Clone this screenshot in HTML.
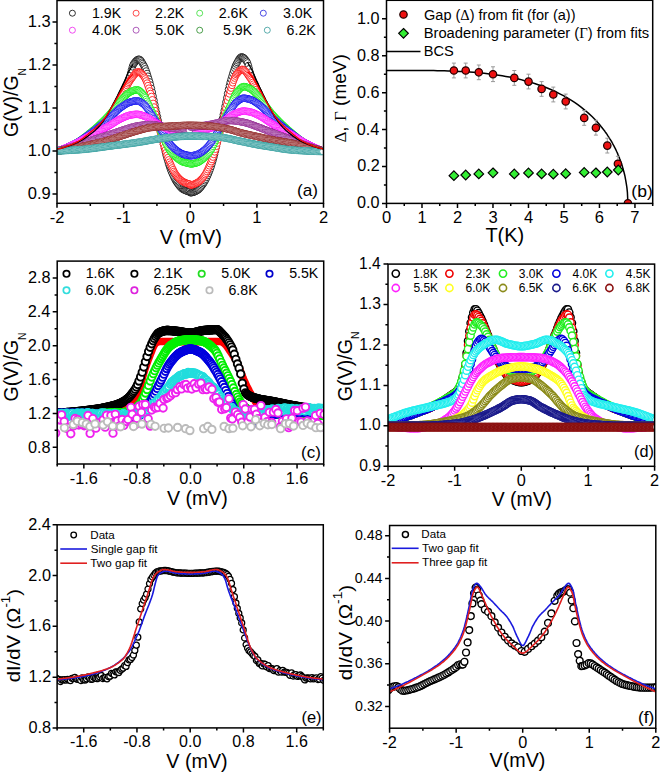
<!DOCTYPE html><html><head><meta charset="utf-8"><style>html,body{margin:0;padding:0;background:#fff;width:660px;height:772px;overflow:hidden}svg{display:block}text{font-family:"Liberation Sans",sans-serif;fill:#000}</style></head><body>
<svg width="660" height="772" viewBox="0 0 660 772">
<rect width="660" height="772" fill="#fff"/>
<defs>
<clipPath id="cPA"><rect x="57" y="0.5" width="266.5" height="202.8"/></clipPath>
<clipPath id="cPB"><rect x="386.5" y="0.3" width="266.2" height="203.1"/></clipPath>
<clipPath id="cPC"><rect x="57.2" y="261.1" width="266.5" height="202.9"/></clipPath>
<clipPath id="cPD"><rect x="388" y="264.1" width="266.6" height="202.2"/></clipPath>
<clipPath id="cPE"><rect x="57.1" y="524.8" width="266.2" height="203.1"/></clipPath>
<clipPath id="cPF"><rect x="389.6" y="525.5" width="266.2" height="202.7"/></clipPath>
</defs>
<g clip-path="url(#cPA)">
<path d="M57 149 58.3 148.8 59.7 148.6 61 148.3 62.4 148 63.7 147.6 65 147.2 66.4 146.8 67.7 146.4 69.1 145.9 70.4 145.4 71.7 144.9 73.1 144.4 74.4 143.8 75.7 143.2 77.1 142.7 78.4 142.1 79.8 141.4 81.1 140.6 82.4 139.8 83.8 139 85.1 138.1 86.5 137.2 87.8 136.2 89.1 135.2 90.5 134.2 91.8 133.2 93.2 132.1 94.5 130.9 95.8 129.7 97.2 128.4 98.5 127 99.9 125.5 101.2 124 102.5 122.3 103.9 120.4 105.2 118.3 106.6 116.1 107.9 113.8 109.2 111.4 110.6 109 111.9 106.5 113.2 104 114.6 101.5 115.9 99 117.3 96.3 118.6 93.6 119.9 90.9 121.3 88.1 122.6 85.3 124 82.5 125.3 79.5 126.6 76.4 128 73.4 129.3 70.6 130.7 68.3 132 66.1 133.3 63.8 134.7 61.7 136 59.9 137.4 58.6 138.7 58 140 58.6 141.4 60.6 142.7 63.3 144 66 145.4 69.1 146.7 72.7 148.1 76.7 149.4 81 150.7 85.7 152.1 91.3 153.4 97.6 154.8 104.1 156.1 110.5 157.4 116.6 158.8 122.7 160.1 128.8 161.5 134.9 162.8 140.9 164.1 147 165.5 152.7 166.8 157.7 168.2 162.4 169.5 166.6 170.8 170.2 172.2 173.4 173.5 176.4 174.8 179.1 176.2 181.4 177.5 183.4 178.9 185.2 180.2 186.8 181.5 188.2 182.9 189.3 184.2 190 185.6 190.6 186.9 191.1 188.2 191.5 189.6 191.7 190.9 192.8 192.3 192.6 193.6 192.1 194.9 191.6 196.3 191 197.6 190.2 199 189.2 200.3 187.7 201.6 186.1 203 184.2 204.3 182.2 205.7 179.8 207 177.1 208.3 174 209.7 170.7 211 167 212.3 162.7 213.7 157.9 215 152.8 216.4 146.9 217.7 140.7 219 134.5 220.4 128.3 221.7 122 223.1 115.7 224.4 109.4 225.7 102.9 227.1 96.2 228.4 89.8 229.8 84.1 231.1 79.2 232.4 74.8 233.8 70.7 235.1 67 236.5 63.9 237.8 61.1 239.1 58.3 240.5 56.3 241.8 55.7 243.1 56.2 244.5 57.5 245.8 59.4 247.2 61.5 248.5 63.9 249.8 66.2 251.2 68.6 252.5 71.4 253.9 74.5 255.2 77.7 256.5 80.7 257.9 83.6 259.2 86.5 260.6 89.3 261.9 92.1 263.2 94.9 264.6 97.6 265.9 100.3 267.3 102.8 268.6 105.3 269.9 107.9 271.3 110.4 272.6 112.8 273.9 115.2 275.3 117.5 276.6 119.6 278 121.5 279.3 123.3 280.6 124.9 282 126.4 283.3 127.8 284.7 129.1 286 130.4 287.3 131.6 288.7 132.7 290 133.8 291.4 134.8 292.7 135.8 294 136.8 295.4 137.8 296.7 138.7 298.1 139.5 299.4 140.4 300.7 141.1 302.1 141.8 303.4 142.5 304.8 143 306.1 143.6 307.4 144.2 308.8 144.7 310.1 145.3 311.4 145.8 312.8 146.3 314.1 146.7 315.5 147.1 316.8 147.5 318.1 147.9 319.5 148.2 320.8 148.5 322.2 148.8 323.5 149" fill="none" stroke="#000000" stroke-width="1.3" stroke-linejoin="round"/>
<marker id="m0" markerWidth="10.2" markerHeight="10.2" refX="5.1" refY="5.1" markerUnits="userSpaceOnUse" overflow="visible"><circle cx="5.1" cy="5.1" r="3.3" fill="#fff" stroke="#000000" stroke-width="0.8"/></marker>
<polyline points="57,151.1 57.9,151 58.7,150.9 59.6,150.8 60.5,150.6 61.3,150.5 62.2,150.3 63.1,150.1 63.9,149.9 64.8,149.7 65.7,149.5 66.5,149.3 67.4,149.1 68.3,148.8 69.1,148.6 70,148.3 70.9,148.1 71.7,147.8 72.6,147.5 73.5,147.3 74.3,147 75.2,146.7 76.1,146.4 76.9,146.1 77.8,145.8 78.7,145.5 79.5,145.1 80.4,144.7 81.3,144.3 82.1,143.9 83,143.5 83.8,143 84.7,142.6 85.6,142.1 86.4,141.6 87.3,141.1 88.2,140.6 89,140.1 89.9,139.6 90.8,139.1 91.6,138.6 92.5,138 93.4,137.5 94.2,136.9 95.1,136.3 96,135.7 96.8,135.1 97.7,134.4 98.6,133.7 99.4,133 100.3,132.2 101.2,131.4 102,130.6 102.9,129.7 103.8,128.7 104.6,127.7 105.5,126.7 106.4,125.6 107.2,124.4 108.1,123.2 109,121.8 109.8,120.4 110.7,118.8 111.6,117.2 112.4,115.6 113.3,114 114.2,112.4 115,110.8 115.9,109.3 116.8,107.7 117.6,106 118.5,104.3 119.4,102.5 120.2,100.5 121.1,98.5 122,96.4 122.8,94.3 123.7,92.2 124.6,90.3 125.4,88.4 126.3,86.4 127.2,84.4 128,82.2 128.9,79.7 129.8,76.5 130.6,73.1 131.5,69.8 132.4,66.8 133.2,64.6 134.1,63.3 135,62.1 135.8,61.1 136.7,60.3 137.5,59.7 138.4,59.3 139.3,59.3 140.1,59.9 141,60.8 141.9,62.2 142.7,63.6 143.6,65.2 144.5,66.8 145.3,68.8 146.2,71 147.1,73.5 147.9,76.2 148.8,79 149.7,81.9 150.5,85 151.4,88.4 152.3,92.2 153.1,96.2 154,100.4 154.9,104.7 155.7,108.8 156.6,112.8 157.5,116.7 158.3,120.7 159.2,124.7 160.1,128.6 160.9,132.5 161.8,136.4 162.7,140.3 163.5,144.3 164.4,148.2 165.3,151.9 166.1,155.2 167,158.4 167.9,161.4 168.7,164.3 169.6,166.9 170.5,169.2 171.3,171.4 172.2,173.5 173.1,175.5 173.9,177.3 174.8,179 175.7,180.6 176.5,182 177.4,183.2 178.3,184.4 179.1,185.5 180,186.6 180.9,187.5 181.7,188.4 182.6,189.1 183.5,189.6 184.3,190 185.2,190.4 186.1,190.8 186.9,191.1 187.8,191.4 188.7,191.6 189.5,191.7 190.4,192.8 191.2,192.7 192.1,192.6 193,192.4 193.8,192.1 194.7,191.7 195.6,191.3 196.4,190.9 197.3,190.4 198.2,189.8 199,189.1 199.9,188.2 200.8,187.2 201.6,186 202.5,184.9 203.4,183.6 204.2,182.3 205.1,180.8 206,179.2 206.8,177.4 207.7,175.5 208.6,173.4 209.4,171.2 210.3,169 211.2,166.5 212,163.8 212.9,160.8 213.8,157.6 214.6,154.3 215.5,150.8 216.4,146.9 217.2,142.9 218.1,138.8 219,134.8 219.8,130.8 220.7,126.8 221.6,122.7 222.4,118.7 223.3,114.6 224.2,110.6 225,106.4 225.9,102.1 226.8,97.8 227.6,93.5 228.5,89.4 229.4,85.7 230.2,82.3 231.1,79.2 232,76.2 232.8,73.4 233.7,70.7 234.6,68.2 235.4,66 236.3,64.1 237.2,62.5 238,60.9 238.9,59.4 239.8,58.2 240.6,57.3 241.5,56.9 242.4,57.1 243.2,57.5 244.1,58.2 244.9,59.1 245.8,60.2 246.7,61.4 247.5,62.9 248.4,65.5 249.3,68.7 250.1,72.2 251,75.7 251.9,78.7 252.7,81.2 253.6,83.3 254.5,85.4 255.3,87.4 256.2,89.3 257.1,91.4 257.9,93.5 258.8,95.6 259.7,97.8 260.5,99.8 261.4,101.8 262.3,103.6 263.1,105.4 264,107 264.9,108.7 265.7,110.3 266.6,111.9 267.5,113.5 268.3,115.2 269.2,116.8 270.1,118.5 270.9,120 271.8,121.5 272.7,122.9 273.5,124.1 274.4,125.3 275.3,126.4 276.1,127.4 277,128.5 277.9,129.4 278.7,130.3 279.6,131.2 280.5,132 281.3,132.8 282.2,133.5 283.1,134.2 283.9,134.8 284.8,135.5 285.7,136.1 286.5,136.7 287.4,137.3 288.3,137.9 289.1,138.4 290,138.9 290.9,139.5 291.7,140 292.6,140.5 293.5,141 294.3,141.5 295.2,142 296.1,142.5 296.9,143 297.8,143.4 298.6,143.9 299.5,144.3 300.4,144.7 301.2,145.1 302.1,145.4 303,145.7 303.8,146.1 304.7,146.4 305.6,146.7 306.4,147 307.3,147.2 308.2,147.5 309,147.8 309.9,148.1 310.8,148.4 311.6,148.6 312.5,148.9 313.4,149.1 314.2,149.3 315.1,149.6 316,149.8 316.8,150 317.7,150.2 318.6,150.3 319.4,150.5 320.3,150.7 321.2,150.8 322,150.9 322.9,151" fill="none" stroke="none" marker-start="url(#m0)" marker-mid="url(#m0)" marker-end="url(#m0)"/>
<path d="M57 149 58.3 148.8 59.7 148.5 61 148.2 62.4 147.9 63.7 147.5 65 147 66.4 146.6 67.7 146.1 69.1 145.5 70.4 145 71.7 144.4 73.1 143.8 74.4 143.2 75.7 142.5 77.1 141.9 78.4 141.2 79.8 140.4 81.1 139.5 82.4 138.6 83.8 137.6 85.1 136.5 86.5 135.5 87.8 134.4 89.1 133.3 90.5 132.2 91.8 131.1 93.2 130 94.5 128.9 95.8 127.7 97.2 126.5 98.5 125.3 99.9 124 101.2 122.6 102.5 121.1 103.9 119.5 105.2 117.8 106.6 115.8 107.9 113.7 109.2 111.5 110.6 109.3 111.9 107 113.2 104.8 114.6 102.4 115.9 100.1 117.3 97.6 118.6 95.2 119.9 92.7 121.3 90.3 122.6 88.1 124 85.9 125.3 83.8 126.6 81.6 128 79.7 129.3 77.9 130.7 76.5 132 75.1 133.3 73.8 134.7 72.6 136 71.7 137.4 71.1 138.7 71.1 140 71.8 141.4 73.1 142.7 74.8 144 76.7 145.4 79.2 146.7 82.3 148.1 86 149.4 90 150.7 94.2 152.1 99.1 153.4 104.5 154.8 110.1 156.1 115.5 157.4 121 158.8 126.5 160.1 131.8 161.5 136.8 162.8 141.8 164.1 146.4 165.5 150.7 166.8 154.7 168.2 158.4 169.5 161.8 170.8 164.9 172.2 167.8 173.5 170.6 174.8 173.1 176.2 175.2 177.5 176.8 178.9 178.3 180.2 179.6 181.5 180.7 182.9 181.6 184.2 182.3 185.6 182.9 186.9 183.4 188.2 183.8 189.6 184 190.9 185 192.3 184.8 193.6 184.4 194.9 183.8 196.3 183.2 197.6 182.5 199 181.6 200.3 180.5 201.6 179.1 203 177.6 204.3 175.9 205.7 173.7 207 171.2 208.3 168.3 209.7 165.3 211 162.1 212.3 158.6 213.7 154.8 215 150.7 216.4 146.3 217.7 141.5 219 136.4 220.4 131.2 221.7 125.7 223.1 120.1 224.4 114.4 225.7 108.9 227.1 103.1 228.4 97.5 229.8 92.5 231.1 88.1 232.4 84 233.8 80.2 235.1 76.9 236.5 74.4 237.8 72.4 239.1 70.7 240.5 69.3 241.8 68.6 243.1 68.7 244.5 69.3 245.8 70.2 247.2 71.4 248.5 72.8 249.8 74.2 251.2 75.6 252.5 77.4 253.9 79.5 255.2 81.7 256.5 83.9 257.9 86.1 259.2 88.5 260.6 90.9 261.9 93.4 263.2 96 264.6 98.5 265.9 100.9 267.3 103.3 268.6 105.6 269.9 108 271.3 110.3 272.6 112.6 273.9 114.7 275.3 116.8 276.6 118.6 278 120.2 279.3 121.7 280.6 123.1 282 124.5 283.3 125.8 284.7 127 286 128.2 287.3 129.3 288.7 130.5 290 131.6 291.4 132.7 292.7 133.9 294 135 295.4 136.1 296.7 137.2 298.1 138.2 299.4 139.1 300.7 140 302.1 140.9 303.4 141.6 304.8 142.3 306.1 142.9 307.4 143.6 308.8 144.2 310.1 144.8 311.4 145.4 312.8 145.9 314.1 146.4 315.5 146.9 316.8 147.4 318.1 147.8 319.5 148.1 320.8 148.5 322.2 148.7 323.5 149" fill="none" stroke="#ff0000" stroke-width="1.3" stroke-linejoin="round"/>
<marker id="m1" markerWidth="10.2" markerHeight="10.2" refX="5.1" refY="5.1" markerUnits="userSpaceOnUse" overflow="visible"><circle cx="5.1" cy="5.1" r="3.3" fill="#fff" stroke="#ff0000" stroke-width="0.8"/></marker>
<polyline points="57,151.1 57.9,151 58.7,150.8 59.6,150.7 60.5,150.5 61.3,150.3 62.2,150.1 63.1,149.9 63.9,149.7 64.8,149.4 65.7,149.2 66.5,148.9 67.4,148.6 68.3,148.3 69.1,148 70,147.7 70.9,147.3 71.7,147 72.6,146.7 73.5,146.3 74.3,146 75.2,145.6 76.1,145.2 76.9,144.9 77.8,144.5 78.7,144.1 79.5,143.6 80.4,143.2 81.3,142.7 82.1,142.1 83,141.6 83.8,141 84.7,140.5 85.6,139.9 86.4,139.3 87.3,138.7 88.2,138 89,137.4 89.9,136.8 90.8,136.2 91.6,135.5 92.5,134.9 93.4,134.2 94.2,133.5 95.1,132.8 96,132.1 96.8,131.4 97.7,130.6 98.6,129.8 99.4,129 100.3,128.2 101.2,127.3 102,126.3 102.9,125.3 103.8,124.3 104.6,123.2 105.5,122.1 106.4,121 107.2,119.9 108.1,118.7 109,117.5 109.8,116.3 110.7,115.1 111.6,113.8 112.4,112.5 113.3,111.2 114.2,109.8 115,108.4 115.9,107 116.8,105.6 117.6,104.1 118.5,102.5 119.4,100.9 120.2,99.2 121.1,97.6 122,95.9 122.8,94.2 123.7,92.6 124.6,90.9 125.4,89.1 126.3,87.4 127.2,85.6 128,83.9 128.9,82.4 129.8,81 130.6,79.7 131.5,78.5 132.4,77.3 133.2,76.1 134.1,74.9 135,73.9 135.8,73 136.7,72.4 137.5,72 138.4,71.9 139.3,72.1 140.1,72.5 141,73.2 141.9,74.1 142.7,75 143.6,76 144.5,77.3 145.3,78.9 146.2,80.9 147.1,83.1 147.9,85.6 148.8,88.2 149.7,90.9 150.5,93.5 151.4,96.5 152.3,99.8 153.1,103.4 154,107 154.9,110.6 155.7,114.1 156.6,117.6 157.5,121.1 158.3,124.7 159.2,128.2 160.1,131.6 160.9,134.9 161.8,138.1 162.7,141.3 163.5,144.4 164.4,147.3 165.3,150 166.1,152.7 167,155.2 167.9,157.6 168.7,159.9 169.6,162.1 170.5,164.1 171.3,166 172.2,167.9 173.1,169.7 173.9,171.4 174.8,173 175.7,174.4 176.5,175.6 177.4,176.7 178.3,177.7 179.1,178.6 180,179.4 180.9,180.2 181.7,180.9 182.6,181.4 183.5,181.9 184.3,182.3 185.2,182.7 186.1,183.1 186.9,183.4 187.8,183.7 188.7,183.9 189.5,184 190.4,185.1 191.2,185 192.1,184.8 193,184.6 193.8,184.3 194.7,183.9 195.6,183.5 196.4,183.1 197.3,182.7 198.2,182.2 199,181.6 199.9,180.8 200.8,180 201.6,179.1 202.5,178.2 203.4,177.1 204.2,176 205.1,174.7 206,173.2 206.8,171.5 207.7,169.7 208.6,167.8 209.4,165.8 210.3,163.8 211.2,161.7 212,159.5 212.9,157.1 213.8,154.5 214.6,151.9 215.5,149.2 216.4,146.3 217.2,143.2 218.1,140 219,136.7 219.8,133.3 220.7,129.9 221.6,126.4 222.4,122.7 223.3,119.1 224.2,115.4 225,111.9 225.9,108.2 226.8,104.5 227.6,100.8 228.5,97.2 229.4,93.9 230.2,90.9 231.1,88.1 232,85.4 232.8,82.8 233.7,80.3 234.6,78.1 235.4,76.1 236.3,74.5 237.2,73.4 238,72.4 238.9,71.4 239.8,70.6 240.6,69.9 241.5,69.5 242.4,69.4 243.2,69.6 244.1,70.1 244.9,70.9 245.8,71.8 246.7,72.9 247.5,74.1 248.4,75.4 249.3,76.7 250.1,77.9 251,79.2 251.9,80.7 252.7,82.4 253.6,84.1 254.5,86 255.3,87.8 256.2,89.6 257.1,91.3 257.9,93 258.8,94.7 259.7,96.4 260.5,98.2 261.4,99.8 262.3,101.5 263.1,103.1 264,104.6 264.9,106.1 265.7,107.6 266.6,109 267.5,110.4 268.3,111.8 269.2,113.1 270.1,114.4 270.9,115.6 271.8,116.8 272.7,118.1 273.5,119.3 274.4,120.4 275.3,121.6 276.1,122.7 277,123.8 277.9,124.9 278.7,125.9 279.6,126.8 280.5,127.7 281.3,128.6 282.2,129.4 283.1,130.2 283.9,131 284.8,131.8 285.7,132.5 286.5,133.2 287.4,133.9 288.3,134.6 289.1,135.3 290,135.9 290.9,136.5 291.7,137.2 292.6,137.8 293.5,138.5 294.3,139.1 295.2,139.7 296.1,140.3 296.9,140.9 297.8,141.5 298.6,142 299.5,142.6 300.4,143.1 301.2,143.5 302.1,144 303,144.4 303.8,144.8 304.7,145.2 305.6,145.5 306.4,145.9 307.3,146.3 308.2,146.6 309,147 309.9,147.3 310.8,147.7 311.6,148 312.5,148.3 313.4,148.6 314.2,148.9 315.1,149.2 316,149.4 316.8,149.7 317.7,149.9 318.6,150.2 319.4,150.4 320.3,150.6 321.2,150.7 322,150.9 322.9,151" fill="none" stroke="none" marker-start="url(#m1)" marker-mid="url(#m1)" marker-end="url(#m1)"/>
<path d="M57 151.1 58.3 150.8 59.7 150.4 61 149.9 62.4 149.5 63.7 149 65 148.4 66.4 147.9 67.7 147.3 69.1 146.6 70.4 146 71.7 145.3 73.1 144.7 74.4 144 75.7 143.2 77.1 142.5 78.4 141.7 79.8 140.8 81.1 139.9 82.4 138.9 83.8 137.9 85.1 136.9 86.5 135.8 87.8 134.8 89.1 133.7 90.5 132.6 91.8 131.5 93.2 130.4 94.5 129.2 95.8 128 97.2 126.9 98.5 125.6 99.9 124.4 101.2 123.1 102.5 121.8 103.9 120.5 105.2 119.2 106.6 117.8 107.9 116.4 109.2 114.9 110.6 113.4 111.9 111.7 113.2 110 114.6 108.2 115.9 106.5 117.3 104.8 118.6 103.1 119.9 101.5 121.3 100.1 122.6 98.7 124 97.2 125.3 95.8 126.6 94.5 128 93.3 129.3 92.4 130.7 91.7 132 91.1 133.3 90.6 134.7 90.1 136 89.9 137.4 89.9 138.7 90.3 140 91.3 141.4 92.6 142.7 94.1 144 95.7 145.4 97.8 146.7 100.4 148.1 103.4 149.4 106.4 150.7 109.2 152.1 112 153.4 114.8 154.8 117.7 156.1 120.6 157.4 123.6 158.8 126.8 160.1 130 161.5 133.2 162.8 136.3 164.1 139.2 165.5 142.1 166.8 145 168.2 147.6 169.5 150 170.8 151.9 172.2 153.5 173.5 155 174.8 156.3 176.2 157.5 177.5 158.5 178.9 159.5 180.2 160.5 181.5 161.3 182.9 161.9 184.2 162.3 185.6 162.7 186.9 163 188.2 163.2 189.6 163.3 190.9 164 192.3 163.8 193.6 163.6 194.9 163.3 196.3 162.9 197.6 162.5 199 161.8 200.3 161 201.6 160 203 158.9 204.3 157.8 205.7 156.6 207 155.2 208.3 153.6 209.7 151.9 211 149.9 212.3 147.4 213.7 144.6 215 141.6 216.4 138.6 217.7 135.5 219 132.2 220.4 128.9 221.7 125.5 223.1 122.2 224.4 119 225.7 115.9 227.1 112.9 228.4 109.9 229.8 107 231.1 104 232.4 100.9 233.8 97.8 235.1 95 236.5 92.8 237.8 91.1 239.1 89.5 240.5 88.2 241.8 87.1 243.1 86.6 244.5 86.7 245.8 86.9 247.2 87.4 248.5 88 249.8 88.6 251.2 89.3 252.5 90.3 253.9 91.5 255.2 92.9 256.5 94.4 257.9 95.9 259.2 97.4 260.6 98.9 261.9 100.6 263.2 102.3 264.6 104.1 265.9 106 267.3 107.8 268.6 109.6 269.9 111.4 271.3 113 272.6 114.6 273.9 116.1 275.3 117.5 276.6 118.9 278 120.3 279.3 121.7 280.6 123 282 124.3 283.3 125.6 284.7 126.8 286 128.1 287.3 129.3 288.7 130.4 290 131.6 291.4 132.8 292.7 133.9 294 135 295.4 136.2 296.7 137.3 298.1 138.3 299.4 139.3 300.7 140.3 302.1 141.2 303.4 142 304.8 142.8 306.1 143.6 307.4 144.3 308.8 145 310.1 145.7 311.4 146.4 312.8 147.1 314.1 147.7 315.5 148.3 316.8 148.8 318.1 149.4 319.5 149.9 320.8 150.3 322.2 150.7 323.5 151.1" fill="none" stroke="#00ee00" stroke-width="1.3" stroke-linejoin="round"/>
<marker id="m2" markerWidth="10.2" markerHeight="10.2" refX="5.1" refY="5.1" markerUnits="userSpaceOnUse" overflow="visible"><circle cx="5.1" cy="5.1" r="3.3" fill="#fff" stroke="#00ee00" stroke-width="0.8"/></marker>
<polyline points="57,151.1 57.9,150.9 58.7,150.6 59.6,150.4 60.5,150.1 61.3,149.8 62.2,149.5 63.1,149.2 63.9,148.9 64.8,148.5 65.7,148.2 66.5,147.8 67.4,147.4 68.3,147 69.1,146.6 70,146.2 70.9,145.8 71.7,145.3 72.6,144.9 73.5,144.5 74.3,144 75.2,143.5 76.1,143.1 76.9,142.6 77.8,142.1 78.7,141.6 79.5,141 80.4,140.4 81.3,139.8 82.1,139.2 83,138.5 83.8,137.9 84.7,137.2 85.6,136.5 86.4,135.9 87.3,135.2 88.2,134.5 89,133.7 89.9,133 90.8,132.3 91.6,131.6 92.5,130.9 93.4,130.2 94.2,129.4 95.1,128.7 96,127.9 96.8,127.2 97.7,126.4 98.6,125.6 99.4,124.8 100.3,124 101.2,123.2 102,122.3 102.9,121.5 103.8,120.6 104.6,119.8 105.5,118.9 106.4,118 107.2,117.1 108.1,116.2 109,115.2 109.8,114.2 110.7,113.2 111.6,112.1 112.4,111 113.3,109.9 114.2,108.8 115,107.6 115.9,106.5 116.8,105.4 117.6,104.3 118.5,103.2 119.4,102.2 120.2,101.2 121.1,100.3 122,99.4 122.8,98.4 123.7,97.5 124.6,96.6 125.4,95.7 126.3,94.8 127.2,94 128,93.3 128.9,92.7 129.8,92.1 130.6,91.7 131.5,91.3 132.4,91 133.2,90.6 134.1,90.3 135,90.1 135.8,89.9 136.7,89.8 137.5,89.9 138.4,90.2 139.3,90.7 140.1,91.4 141,92.2 141.9,93.2 142.7,94.1 143.6,95.1 144.5,96.3 145.3,97.7 146.2,99.4 147.1,101.2 147.9,103.1 148.8,105 149.7,106.9 150.5,108.8 151.4,110.5 152.3,112.4 153.1,114.2 154,116.1 154.9,117.9 155.7,119.8 156.6,121.8 157.5,123.7 158.3,125.7 159.2,127.8 160.1,129.9 160.9,131.9 161.8,134 162.7,136 163.5,137.9 164.4,139.8 165.3,141.6 166.1,143.5 167,145.3 167.9,147.1 168.7,148.7 169.6,150.1 170.5,151.4 171.3,152.5 172.2,153.5 173.1,154.5 173.9,155.4 174.8,156.2 175.7,157 176.5,157.7 177.4,158.4 178.3,159.1 179.1,159.7 180,160.3 180.9,160.9 181.7,161.4 182.6,161.8 183.5,162.1 184.3,162.3 185.2,162.6 186.1,162.8 186.9,163 187.8,163.1 188.7,163.3 189.5,163.3 190.4,164 191.2,164 192.1,163.9 193,163.7 193.8,163.5 194.7,163.3 195.6,163.1 196.4,162.8 197.3,162.6 198.2,162.2 199,161.8 199.9,161.2 200.8,160.6 201.6,160 202.5,159.3 203.4,158.6 204.2,157.9 205.1,157.1 206,156.2 206.8,155.3 207.7,154.4 208.6,153.3 209.4,152.2 210.3,151 211.2,149.6 212,148.1 212.9,146.3 213.8,144.5 214.6,142.5 215.5,140.5 216.4,138.5 217.2,136.6 218.1,134.6 219,132.4 219.8,130.3 220.7,128.1 221.6,125.9 222.4,123.7 223.3,121.6 224.2,119.6 225,117.6 225.9,115.6 226.8,113.6 227.6,111.7 228.5,109.7 229.4,107.8 230.2,106 231.1,104 232,102 232.8,100 233.7,98 234.6,96.1 235.4,94.4 236.3,93 237.2,91.9 238,90.8 238.9,89.8 239.8,88.9 240.6,88 241.5,87.4 242.4,86.9 243.2,86.6 244.1,86.6 244.9,86.7 245.8,86.9 246.7,87.2 247.5,87.5 248.4,87.9 249.3,88.3 250.1,88.7 251,89.2 251.9,89.8 252.7,90.5 253.6,91.3 254.5,92.1 255.3,93 256.2,94 257.1,95 257.9,96 258.8,97 259.7,97.9 260.5,98.9 261.4,100 262.3,101.1 263.1,102.2 264,103.4 264.9,104.5 265.7,105.7 266.6,106.9 267.5,108.1 268.3,109.3 269.2,110.4 270.1,111.6 270.9,112.6 271.8,113.7 272.7,114.6 273.5,115.6 274.4,116.5 275.3,117.5 276.1,118.4 277,119.3 277.9,120.2 278.7,121.1 279.6,122 280.5,122.8 281.3,123.7 282.2,124.5 283.1,125.3 283.9,126.1 284.8,126.9 285.7,127.7 286.5,128.5 287.4,129.3 288.3,130.1 289.1,130.8 290,131.6 290.9,132.3 291.7,133.1 292.6,133.8 293.5,134.5 294.3,135.3 295.2,136 296.1,136.7 296.9,137.4 297.8,138.1 298.6,138.8 299.5,139.4 300.4,140 301.2,140.7 302.1,141.2 303,141.8 303.8,142.3 304.7,142.8 305.6,143.3 306.4,143.8 307.3,144.3 308.2,144.7 309,145.2 309.9,145.6 310.8,146.1 311.6,146.5 312.5,146.9 313.4,147.3 314.2,147.7 315.1,148.1 316,148.5 316.8,148.9 317.7,149.2 318.6,149.5 319.4,149.9 320.3,150.2 321.2,150.4 322,150.7 322.9,150.9" fill="none" stroke="none" marker-start="url(#m2)" marker-mid="url(#m2)" marker-end="url(#m2)"/>
<path d="M57 151.1 58.3 150.7 59.7 150.3 61 149.8 62.4 149.3 63.7 148.8 65 148.3 66.4 147.7 67.7 147.1 69.1 146.5 70.4 145.9 71.7 145.3 73.1 144.6 74.4 143.9 75.7 143.2 77.1 142.5 78.4 141.8 79.8 140.9 81.1 140.1 82.4 139.2 83.8 138.3 85.1 137.3 86.5 136.3 87.8 135.4 89.1 134.4 90.5 133.4 91.8 132.4 93.2 131.4 94.5 130.4 95.8 129.4 97.2 128.4 98.5 127.3 99.9 126.3 101.2 125.2 102.5 124.1 103.9 123 105.2 121.9 106.6 120.7 107.9 119.6 109.2 118.4 110.6 117.1 111.9 115.8 113.2 114.5 114.6 113.1 115.9 111.8 117.3 110.5 118.6 109.3 119.9 108.1 121.3 107.2 122.6 106.2 124 105.3 125.3 104.4 126.6 103.6 128 102.9 129.3 102.4 130.7 102 132 101.6 133.3 101.3 134.7 101 136 100.9 137.4 100.9 138.7 101.2 140 101.8 141.4 102.6 142.7 103.5 144 104.5 145.4 105.8 146.7 107.5 148.1 109.4 149.4 111.4 150.7 113.4 152.1 115.4 153.4 117.6 154.8 119.8 156.1 122 157.4 124.1 158.8 126.3 160.1 128.4 161.5 130.6 162.8 132.7 164.1 134.8 165.5 137 166.8 139.2 168.2 141.3 169.5 143.2 170.8 144.8 172.2 146.3 173.5 147.7 174.8 149 176.2 150.1 177.5 151.1 178.9 152 180.2 152.9 181.5 153.6 182.9 154.1 184.2 154.5 185.6 154.9 186.9 155.2 188.2 155.4 189.6 155.6 190.9 155.8 192.3 155.7 193.6 155.4 194.9 155.1 196.3 154.7 197.6 154.3 199 153.7 200.3 153 201.6 152.1 203 151.1 204.3 150.1 205.7 148.9 207 147.6 208.3 146.1 209.7 144.5 211 142.8 212.3 140.8 213.7 138.5 215 136.2 216.4 133.9 217.7 131.7 219 129.5 220.4 127.2 221.7 125 223.1 122.7 224.4 120.4 225.7 118.1 227.1 115.8 228.4 113.5 229.8 111.4 231.1 109.3 232.4 107.2 233.8 105.2 235.1 103.4 236.5 102 237.8 101 239.1 100 240.5 99.2 241.8 98.5 243.1 98.2 244.5 98.2 245.8 98.4 247.2 98.7 248.5 99 249.8 99.4 251.2 99.8 252.5 100.4 253.9 101.1 255.2 102 256.5 102.9 257.9 103.9 259.2 104.9 260.6 105.9 261.9 107.1 263.2 108.3 264.6 109.7 265.9 111.1 267.3 112.5 268.6 114 269.9 115.4 271.3 116.7 272.6 117.9 273.9 119.1 275.3 120.3 276.6 121.5 278 122.7 279.3 123.8 280.6 125 282 126.1 283.3 127.2 284.7 128.3 286 129.3 287.3 130.4 288.7 131.5 290 132.5 291.4 133.5 292.7 134.5 294 135.6 295.4 136.6 296.7 137.6 298.1 138.6 299.4 139.5 300.7 140.4 302.1 141.3 303.4 142.1 304.8 142.8 306.1 143.5 307.4 144.3 308.8 145 310.1 145.6 311.4 146.3 312.8 146.9 314.1 147.6 315.5 148.2 316.8 148.7 318.1 149.3 319.5 149.8 320.8 150.2 322.2 150.7 323.5 151.1" fill="none" stroke="#0000ee" stroke-width="1.3" stroke-linejoin="round"/>
<marker id="m3" markerWidth="10.2" markerHeight="10.2" refX="5.1" refY="5.1" markerUnits="userSpaceOnUse" overflow="visible"><circle cx="5.1" cy="5.1" r="3.3" fill="#fff" stroke="#0000ee" stroke-width="0.8"/></marker>
<polyline points="57,151.1 57.9,150.9 58.7,150.6 59.6,150.3 60.5,150 61.3,149.7 62.2,149.4 63.1,149.1 63.9,148.7 64.8,148.4 65.7,148 66.5,147.7 67.4,147.3 68.3,146.9 69.1,146.5 70,146.1 70.9,145.7 71.7,145.3 72.6,144.8 73.5,144.4 74.3,144 75.2,143.5 76.1,143.1 76.9,142.6 77.8,142.1 78.7,141.6 79.5,141.1 80.4,140.5 81.3,140 82.1,139.4 83,138.8 83.8,138.2 84.7,137.6 85.6,137 86.4,136.4 87.3,135.7 88.2,135.1 89,134.5 89.9,133.8 90.8,133.2 91.6,132.6 92.5,131.9 93.4,131.3 94.2,130.6 95.1,130 96,129.3 96.8,128.6 97.7,128 98.6,127.3 99.4,126.6 100.3,125.9 101.2,125.2 102,124.5 102.9,123.8 103.8,123.1 104.6,122.4 105.5,121.6 106.4,120.9 107.2,120.2 108.1,119.4 109,118.6 109.8,117.8 110.7,117 111.6,116.2 112.4,115.3 113.3,114.4 114.2,113.5 115,112.7 115.9,111.8 116.8,110.9 117.6,110.1 118.5,109.3 119.4,108.6 120.2,107.9 121.1,107.3 122,106.7 122.8,106.1 123.7,105.5 124.6,104.9 125.4,104.4 126.3,103.8 127.2,103.4 128,102.9 128.9,102.6 129.8,102.2 130.6,102 131.5,101.8 132.4,101.5 133.2,101.3 134.1,101.1 135,101 135.8,100.9 136.7,100.9 137.5,100.9 138.4,101.1 139.3,101.4 140.1,101.8 141,102.3 141.9,102.9 142.7,103.5 143.6,104.1 144.5,104.8 145.3,105.8 146.2,106.8 147.1,108 147.9,109.3 148.8,110.5 149.7,111.8 150.5,113.1 151.4,114.4 152.3,115.7 153.1,117.1 154,118.5 154.9,120 155.7,121.4 156.6,122.8 157.5,124.2 158.3,125.6 159.2,126.9 160.1,128.3 160.9,129.7 161.8,131.1 162.7,132.5 163.5,133.8 164.4,135.2 165.3,136.6 166.1,138.1 167,139.5 167.9,140.8 168.7,142.1 169.6,143.3 170.5,144.4 171.3,145.4 172.2,146.4 173.1,147.3 173.9,148.2 174.8,149 175.7,149.7 176.5,150.4 177.4,151 178.3,151.6 179.1,152.2 180,152.7 180.9,153.2 181.7,153.7 182.6,154 183.5,154.3 184.3,154.6 185.2,154.8 186.1,155 186.9,155.2 187.8,155.4 188.7,155.5 189.5,155.6 190.4,155.8 191.2,155.8 192.1,155.7 193,155.5 193.8,155.4 194.7,155.2 195.6,154.9 196.4,154.7 197.3,154.4 198.2,154.1 199,153.7 199.9,153.2 200.8,152.6 201.6,152.1 202.5,151.5 203.4,150.8 204.2,150.2 205.1,149.4 206,148.6 206.8,147.7 207.7,146.8 208.6,145.8 209.4,144.8 210.3,143.7 211.2,142.5 212,141.2 212.9,139.9 213.8,138.4 214.6,136.9 215.5,135.4 216.4,133.9 217.2,132.5 218.1,131.1 219,129.6 219.8,128.2 220.7,126.7 221.6,125.2 222.4,123.8 223.3,122.3 224.2,120.8 225,119.4 225.9,117.9 226.8,116.4 227.6,114.9 228.5,113.4 229.4,112 230.2,110.7 231.1,109.4 232,108 232.8,106.6 233.7,105.3 234.6,104.1 235.4,103.1 236.3,102.2 237.2,101.5 238,100.8 238.9,100.2 239.8,99.6 240.6,99.1 241.5,98.7 242.4,98.4 243.2,98.2 244.1,98.2 244.9,98.3 245.8,98.4 246.7,98.6 247.5,98.8 248.4,99 249.3,99.2 250.1,99.5 251,99.8 251.9,100.1 252.7,100.5 253.6,101 254.5,101.5 255.3,102.1 256.2,102.7 257.1,103.3 257.9,103.9 258.8,104.5 259.7,105.2 260.5,105.9 261.4,106.6 262.3,107.4 263.1,108.2 264,109.1 264.9,110 265.7,110.9 266.6,111.8 267.5,112.8 268.3,113.7 269.2,114.6 270.1,115.5 270.9,116.4 271.8,117.2 272.7,118 273.5,118.8 274.4,119.5 275.3,120.3 276.1,121.1 277,121.8 277.9,122.6 278.7,123.3 279.6,124.1 280.5,124.8 281.3,125.5 282.2,126.2 283.1,127 283.9,127.7 284.8,128.4 285.7,129.1 286.5,129.8 287.4,130.4 288.3,131.1 289.1,131.8 290,132.5 290.9,133.1 291.7,133.8 292.6,134.5 293.5,135.1 294.3,135.8 295.2,136.4 296.1,137.1 296.9,137.7 297.8,138.4 298.6,139 299.5,139.6 300.4,140.2 301.2,140.7 302.1,141.3 303,141.8 303.8,142.3 304.7,142.8 305.6,143.3 306.4,143.7 307.3,144.2 308.2,144.7 309,145.1 309.9,145.5 310.8,146 311.6,146.4 312.5,146.8 313.4,147.2 314.2,147.6 315.1,148 316,148.4 316.8,148.7 317.7,149.1 318.6,149.4 319.4,149.7 320.3,150.1 321.2,150.4 322,150.6 322.9,150.9" fill="none" stroke="none" marker-start="url(#m3)" marker-mid="url(#m3)" marker-end="url(#m3)"/>
<path d="M57 151.1 58.3 150.7 59.7 150.2 61 149.7 62.4 149.2 63.7 148.7 65 148.2 66.4 147.6 67.7 147.1 69.1 146.5 70.4 145.9 71.7 145.3 73.1 144.7 74.4 144.1 75.7 143.5 77.1 142.8 78.4 142.1 79.8 141.4 81.1 140.6 82.4 139.8 83.8 139.1 85.1 138.3 86.5 137.5 87.8 136.7 89.1 135.9 90.5 135.2 91.8 134.5 93.2 133.8 94.5 133.1 95.8 132.5 97.2 131.8 98.5 131.1 99.9 130.5 101.2 129.8 102.5 129.2 103.9 128.5 105.2 127.8 106.6 127.1 107.9 126.4 109.2 125.7 110.6 124.9 111.9 124 113.2 123.2 114.6 122.3 115.9 121.5 117.3 120.6 118.6 119.9 119.9 119.2 121.3 118.5 122.6 117.9 124 117.3 125.3 116.7 126.6 116.1 128 115.7 129.3 115.3 130.7 115 132 114.8 133.3 114.6 134.7 114.4 136 114.3 137.4 114.3 138.7 114.5 140 114.8 141.4 115.2 142.7 115.6 144 116 145.4 116.6 146.7 117.2 148.1 118 149.4 118.8 150.7 119.6 152.1 120.5 153.4 121.3 154.8 122.2 156.1 122.9 157.4 123.7 158.8 124.4 160.1 125.2 161.5 126 162.8 126.8 164.1 127.5 165.5 128.2 166.8 128.9 168.2 129.4 169.5 129.9 170.8 130.3 172.2 130.6 173.5 131 174.8 131.4 176.2 131.7 177.5 132 178.9 132.3 180.2 132.6 181.5 132.8 182.9 133.1 184.2 133.3 185.6 133.4 186.9 133.6 188.2 133.6 189.6 133.7 190.9 132.2 192.3 132.1 193.6 132 194.9 131.9 196.3 131.7 197.6 131.5 199 131.2 200.3 131 201.6 130.7 203 130.3 204.3 130 205.7 129.6 207 129.3 208.3 128.9 209.7 128.5 211 128.1 212.3 127.5 213.7 126.9 215 126.2 216.4 125.4 217.7 124.6 219 123.8 220.4 122.9 221.7 122.1 223.1 121.3 224.4 120.5 225.7 119.6 227.1 118.7 228.4 117.8 229.8 116.9 231.1 115.9 232.4 115.1 233.8 114.3 235.1 113.6 236.5 113 237.8 112.5 239.1 112 240.5 111.6 241.8 111.3 243.1 111.1 244.5 111.1 245.8 111.2 247.2 111.4 248.5 111.6 249.8 111.9 251.2 112.2 252.5 112.6 253.9 113.1 255.2 113.7 256.5 114.3 257.9 115 259.2 115.7 260.6 116.4 261.9 117.2 263.2 118 264.6 118.9 265.9 119.8 267.3 120.7 268.6 121.7 269.9 122.6 271.3 123.4 272.6 124.3 273.9 125 275.3 125.8 276.6 126.5 278 127.3 279.3 128 280.6 128.7 282 129.4 283.3 130.1 284.7 130.8 286 131.6 287.3 132.3 288.7 133 290 133.8 291.4 134.6 292.7 135.4 294 136.3 295.4 137.1 296.7 138 298.1 138.9 299.4 139.7 300.7 140.5 302.1 141.3 303.4 142.1 304.8 142.8 306.1 143.5 307.4 144.2 308.8 144.8 310.1 145.5 311.4 146.1 312.8 146.7 314.1 147.3 315.5 147.9 316.8 148.5 318.1 149.1 319.5 149.6 320.8 150.1 322.2 150.6 323.5 151.1" fill="none" stroke="#ff00ff" stroke-width="1.3" stroke-linejoin="round"/>
<marker id="m4" markerWidth="10.2" markerHeight="10.2" refX="5.1" refY="5.1" markerUnits="userSpaceOnUse" overflow="visible"><circle cx="5.1" cy="5.1" r="3.3" fill="#fff" stroke="#ff00ff" stroke-width="0.8"/></marker>
<polyline points="57,151.1 57.9,150.8 58.7,150.5 59.6,150.2 60.5,149.9 61.3,149.6 62.2,149.3 63.1,149 63.9,148.6 64.8,148.3 65.7,147.9 66.5,147.6 67.4,147.2 68.3,146.9 69.1,146.5 70,146.1 70.9,145.7 71.7,145.3 72.6,144.9 73.5,144.5 74.3,144.1 75.2,143.7 76.1,143.3 76.9,142.9 77.8,142.5 78.7,142 79.5,141.5 80.4,141 81.3,140.5 82.1,140 83,139.5 83.8,139 84.7,138.5 85.6,138 86.4,137.5 87.3,137 88.2,136.5 89,136 89.9,135.5 90.8,135 91.6,134.6 92.5,134.1 93.4,133.7 94.2,133.2 95.1,132.8 96,132.4 96.8,132 97.7,131.5 98.6,131.1 99.4,130.7 100.3,130.3 101.2,129.8 102,129.4 102.9,129 103.8,128.6 104.6,128.1 105.5,127.7 106.4,127.2 107.2,126.8 108.1,126.3 109,125.8 109.8,125.3 110.7,124.8 111.6,124.2 112.4,123.7 113.3,123.1 114.2,122.6 115,122 115.9,121.5 116.8,120.9 117.6,120.4 118.5,119.9 119.4,119.5 120.2,119 121.1,118.6 122,118.2 122.8,117.8 123.7,117.4 124.6,117 125.4,116.6 126.3,116.3 127.2,116 128,115.7 128.9,115.4 129.8,115.2 130.6,115 131.5,114.9 132.4,114.7 133.2,114.6 134.1,114.5 135,114.4 135.8,114.3 136.7,114.3 137.5,114.3 138.4,114.4 139.3,114.6 140.1,114.8 141,115 141.9,115.3 142.7,115.6 143.6,115.9 144.5,116.2 145.3,116.6 146.2,117 147.1,117.4 147.9,117.9 148.8,118.4 149.7,118.9 150.5,119.5 151.4,120 152.3,120.6 153.1,121.1 154,121.7 154.9,122.2 155.7,122.7 156.6,123.2 157.5,123.7 158.3,124.2 159.2,124.7 160.1,125.2 160.9,125.7 161.8,126.2 162.7,126.7 163.5,127.2 164.4,127.6 165.3,128.1 166.1,128.5 167,128.9 167.9,129.3 168.7,129.6 169.6,129.9 170.5,130.2 171.3,130.4 172.2,130.7 173.1,130.9 173.9,131.1 174.8,131.3 175.7,131.6 176.5,131.8 177.4,132 178.3,132.2 179.1,132.4 180,132.5 180.9,132.7 181.7,132.9 182.6,133 183.5,133.2 184.3,133.3 185.2,133.4 186.1,133.5 186.9,133.6 187.8,133.6 188.7,133.7 189.5,133.7 190.4,132.2 191.2,132.2 192.1,132.1 193,132.1 193.8,132 194.7,131.9 195.6,131.8 196.4,131.7 197.3,131.5 198.2,131.4 199,131.2 199.9,131.1 200.8,130.9 201.6,130.7 202.5,130.5 203.4,130.2 204.2,130 205.1,129.8 206,129.5 206.8,129.3 207.7,129.1 208.6,128.8 209.4,128.5 210.3,128.3 211.2,128 212,127.7 212.9,127.3 213.8,126.9 214.6,126.4 215.5,125.9 216.4,125.4 217.2,124.9 218.1,124.4 219,123.8 219.8,123.3 220.7,122.7 221.6,122.2 222.4,121.7 223.3,121.2 224.2,120.6 225,120.1 225.9,119.5 226.8,118.9 227.6,118.3 228.5,117.7 229.4,117.1 230.2,116.5 231.1,115.9 232,115.4 232.8,114.8 233.7,114.3 234.6,113.8 235.4,113.4 236.3,113.1 237.2,112.7 238,112.4 238.9,112.1 239.8,111.8 240.6,111.6 241.5,111.3 242.4,111.2 243.2,111.1 244.1,111.1 244.9,111.2 245.8,111.2 246.7,111.4 247.5,111.5 248.4,111.6 249.3,111.8 250.1,112 251,112.1 251.9,112.4 252.7,112.7 253.6,113 254.5,113.4 255.3,113.8 256.2,114.2 257.1,114.6 257.9,115 258.8,115.5 259.7,115.9 260.5,116.4 261.4,116.9 262.3,117.4 263.1,117.9 264,118.5 264.9,119.1 265.7,119.7 266.6,120.3 267.5,120.9 268.3,121.5 269.2,122.1 270.1,122.7 270.9,123.2 271.8,123.8 272.7,124.3 273.5,124.8 274.4,125.3 275.3,125.8 276.1,126.3 277,126.7 277.9,127.2 278.7,127.7 279.6,128.1 280.5,128.6 281.3,129.1 282.2,129.5 283.1,130 283.9,130.4 284.8,130.9 285.7,131.4 286.5,131.8 287.4,132.3 288.3,132.8 289.1,133.3 290,133.8 290.9,134.3 291.7,134.8 292.6,135.4 293.5,135.9 294.3,136.5 295.2,137 296.1,137.6 296.9,138.1 297.8,138.7 298.6,139.2 299.5,139.8 300.4,140.3 301.2,140.9 302.1,141.4 303,141.9 303.8,142.3 304.7,142.8 305.6,143.2 306.4,143.7 307.3,144.1 308.2,144.5 309,145 309.9,145.4 310.8,145.8 311.6,146.2 312.5,146.6 313.4,147 314.2,147.4 315.1,147.8 316,148.2 316.8,148.5 317.7,148.9 318.6,149.2 319.4,149.6 320.3,149.9 321.2,150.3 322,150.6 322.9,150.9" fill="none" stroke="none" marker-start="url(#m4)" marker-mid="url(#m4)" marker-end="url(#m4)"/>
<path d="M57 151.1 58.3 150.8 59.7 150.4 61 150 62.4 149.7 63.7 149.3 65 148.9 66.4 148.5 67.7 148.1 69.1 147.7 70.4 147.3 71.7 146.9 73.1 146.5 74.4 146.1 75.7 145.7 77.1 145.2 78.4 144.8 79.8 144.3 81.1 143.9 82.4 143.4 83.8 142.9 85.1 142.4 86.5 142 87.8 141.5 89.1 141 90.5 140.6 91.8 140.1 93.2 139.7 94.5 139.3 95.8 138.8 97.2 138.4 98.5 138 99.9 137.6 101.2 137.2 102.5 136.7 103.9 136.3 105.2 135.9 106.6 135.5 107.9 135 109.2 134.6 110.6 134.2 111.9 133.7 113.2 133.3 114.6 132.8 115.9 132.3 117.3 131.9 118.6 131.4 119.9 131 121.3 130.5 122.6 130.1 124 129.7 125.3 129.3 126.6 128.8 128 128.4 129.3 128 130.7 127.6 132 127.2 133.3 126.8 134.7 126.5 136 126.2 137.4 126 138.7 125.8 140 125.5 141.4 125.3 142.7 125.1 144 125 145.4 124.8 146.7 124.7 148.1 124.6 149.4 124.5 150.7 124.5 152.1 124.6 153.4 124.7 154.8 124.9 156.1 125.1 157.4 125.3 158.8 125.6 160.1 125.9 161.5 126.1 162.8 126.5 164.1 126.8 165.5 127 166.8 127.3 168.2 127.6 169.5 127.8 170.8 128 172.2 128.2 173.5 128.4 174.8 128.6 176.2 128.8 177.5 129 178.9 129.2 180.2 129.4 181.5 129.5 182.9 129.7 184.2 129.8 185.6 130 186.9 130 188.2 130.1 189.6 130.1 190.9 127 192.3 127 193.6 126.9 194.9 126.8 196.3 126.7 197.6 126.5 199 126.3 200.3 126.1 201.6 125.9 203 125.7 204.3 125.4 205.7 125.2 207 125 208.3 124.7 209.7 124.5 211 124.3 212.3 124.1 213.7 123.8 215 123.5 216.4 123.1 217.7 122.8 219 122.4 220.4 122.1 221.7 121.8 223.1 121.5 224.4 121.2 225.7 120.9 227.1 120.8 228.4 120.6 229.8 120.6 231.1 120.6 232.4 120.6 233.8 120.7 235.1 120.9 236.5 121.1 237.8 121.3 239.1 121.5 240.5 121.7 241.8 122 243.1 122.2 244.5 122.5 245.8 122.8 247.2 123.2 248.5 123.6 249.8 124 251.2 124.5 252.5 125 253.9 125.5 255.2 126 256.5 126.5 257.9 126.9 259.2 127.4 260.6 128 261.9 128.5 263.2 129 264.6 129.5 265.9 130.1 267.3 130.6 268.6 131.1 269.9 131.6 271.3 132.2 272.6 132.6 273.9 133.1 275.3 133.6 276.6 134.1 278 134.6 279.3 135.1 280.6 135.6 282 136 283.3 136.5 284.7 137 286 137.5 287.3 138 288.7 138.5 290 139 291.4 139.5 292.7 140 294 140.6 295.4 141.1 296.7 141.7 298.1 142.2 299.4 142.8 300.7 143.3 302.1 143.9 303.4 144.4 304.8 144.9 306.1 145.3 307.4 145.8 308.8 146.3 310.1 146.8 311.4 147.2 312.8 147.7 314.1 148.1 315.5 148.6 316.8 149 318.1 149.5 319.5 149.9 320.8 150.3 322.2 150.7 323.5 151.1" fill="none" stroke="#8b1a8b" stroke-width="1.3" stroke-linejoin="round"/>
<marker id="m5" markerWidth="10.2" markerHeight="10.2" refX="5.1" refY="5.1" markerUnits="userSpaceOnUse" overflow="visible"><circle cx="5.1" cy="5.1" r="3.3" fill="#fff" stroke="#8b1a8b" stroke-width="0.8"/></marker>
<polyline points="57,151.1 57.9,150.9 58.7,150.6 59.6,150.4 60.5,150.2 61.3,149.9 62.2,149.7 63.1,149.5 63.9,149.2 64.8,149 65.7,148.7 66.5,148.5 67.4,148.2 68.3,148 69.1,147.7 70,147.5 70.9,147.2 71.7,146.9 72.6,146.7 73.5,146.4 74.3,146.1 75.2,145.8 76.1,145.6 76.9,145.3 77.8,145 78.7,144.7 79.5,144.4 80.4,144.1 81.3,143.8 82.1,143.5 83,143.2 83.8,142.9 84.7,142.6 85.6,142.3 86.4,142 87.3,141.7 88.2,141.4 89,141.1 89.9,140.8 90.8,140.5 91.6,140.2 92.5,139.9 93.4,139.6 94.2,139.3 95.1,139.1 96,138.8 96.8,138.5 97.7,138.2 98.6,138 99.4,137.7 100.3,137.4 101.2,137.2 102,136.9 102.9,136.6 103.8,136.4 104.6,136.1 105.5,135.8 106.4,135.5 107.2,135.3 108.1,135 109,134.7 109.8,134.4 110.7,134.1 111.6,133.8 112.4,133.6 113.3,133.3 114.2,133 115,132.7 115.9,132.4 116.8,132.1 117.6,131.8 118.5,131.5 119.4,131.2 120.2,130.9 121.1,130.6 122,130.3 122.8,130 123.7,129.8 124.6,129.5 125.4,129.2 126.3,128.9 127.2,128.7 128,128.4 128.9,128.1 129.8,127.8 130.6,127.6 131.5,127.3 132.4,127.1 133.2,126.8 134.1,126.6 135,126.4 135.8,126.2 136.7,126.1 137.5,125.9 138.4,125.8 139.3,125.7 140.1,125.5 141,125.4 141.9,125.3 142.7,125.1 143.6,125 144.5,124.9 145.3,124.8 146.2,124.7 147.1,124.7 147.9,124.6 148.8,124.6 149.7,124.5 150.5,124.5 151.4,124.6 152.3,124.6 153.1,124.7 154,124.8 154.9,124.9 155.7,125 156.6,125.2 157.5,125.3 158.3,125.5 159.2,125.7 160.1,125.8 160.9,126 161.8,126.2 162.7,126.4 163.5,126.6 164.4,126.8 165.3,127 166.1,127.2 167,127.4 167.9,127.5 168.7,127.7 169.6,127.8 170.5,127.9 171.3,128.1 172.2,128.2 173.1,128.3 173.9,128.4 174.8,128.6 175.7,128.7 176.5,128.8 177.4,129 178.3,129.1 179.1,129.2 180,129.3 180.9,129.4 181.7,129.6 182.6,129.7 183.5,129.8 184.3,129.8 185.2,129.9 186.1,130 186.9,130 187.8,130.1 188.7,130.1 189.5,130.1 190.4,127 191.2,127 192.1,127 193,126.9 193.8,126.9 194.7,126.8 195.6,126.7 196.4,126.6 197.3,126.5 198.2,126.4 199,126.3 199.9,126.2 200.8,126 201.6,125.9 202.5,125.7 203.4,125.6 204.2,125.5 205.1,125.3 206,125.2 206.8,125 207.7,124.9 208.6,124.7 209.4,124.6 210.3,124.4 211.2,124.3 212,124.1 212.9,123.9 213.8,123.7 214.6,123.5 215.5,123.3 216.4,123.1 217.2,122.9 218.1,122.7 219,122.4 219.8,122.2 220.7,122 221.6,121.8 222.4,121.6 223.3,121.4 224.2,121.2 225,121.1 225.9,120.9 226.8,120.8 227.6,120.7 228.5,120.6 229.4,120.6 230.2,120.6 231.1,120.6 232,120.6 232.8,120.7 233.7,120.7 234.6,120.8 235.4,120.9 236.3,121 237.2,121.2 238,121.3 238.9,121.4 239.8,121.6 240.6,121.7 241.5,121.9 242.4,122.1 243.2,122.2 244.1,122.4 244.9,122.6 245.8,122.8 246.7,123 247.5,123.3 248.4,123.6 249.3,123.8 250.1,124.1 251,124.4 251.9,124.8 252.7,125.1 253.6,125.4 254.5,125.7 255.3,126 256.2,126.4 257.1,126.7 257.9,127 258.8,127.3 259.7,127.6 260.5,127.9 261.4,128.3 262.3,128.6 263.1,129 264,129.3 264.9,129.7 265.7,130 266.6,130.4 267.5,130.7 268.3,131 269.2,131.4 270.1,131.7 270.9,132 271.8,132.3 272.7,132.7 273.5,133 274.4,133.3 275.3,133.6 276.1,133.9 277,134.2 277.9,134.6 278.7,134.9 279.6,135.2 280.5,135.5 281.3,135.8 282.2,136.1 283.1,136.4 283.9,136.7 284.8,137 285.7,137.4 286.5,137.7 287.4,138 288.3,138.3 289.1,138.7 290,139 290.9,139.3 291.7,139.7 292.6,140 293.5,140.4 294.3,140.7 295.2,141.1 296.1,141.4 296.9,141.8 297.8,142.1 298.6,142.5 299.5,142.8 300.4,143.2 301.2,143.5 302.1,143.9 303,144.2 303.8,144.5 304.7,144.8 305.6,145.2 306.4,145.5 307.3,145.8 308.2,146.1 309,146.4 309.9,146.7 310.8,147 311.6,147.3 312.5,147.6 313.4,147.9 314.2,148.2 315.1,148.5 316,148.8 316.8,149 317.7,149.3 318.6,149.6 319.4,149.9 320.3,150.1 321.2,150.4 322,150.7 322.9,150.9" fill="none" stroke="none" marker-start="url(#m5)" marker-mid="url(#m5)" marker-end="url(#m5)"/>
<path d="M57 151.1 58.3 150.9 59.7 150.6 61 150.4 62.4 150.2 63.7 149.9 65 149.7 66.4 149.5 67.7 149.2 69.1 149 70.4 148.7 71.7 148.5 73.1 148.2 74.4 147.9 75.7 147.7 77.1 147.4 78.4 147.2 79.8 146.9 81.1 146.6 82.4 146.3 83.8 146.1 85.1 145.8 86.5 145.5 87.8 145.2 89.1 144.9 90.5 144.6 91.8 144.3 93.2 144 94.5 143.7 95.8 143.4 97.2 143.1 98.5 142.7 99.9 142.4 101.2 142.1 102.5 141.7 103.9 141.4 105.2 141 106.6 140.7 107.9 140.3 109.2 139.9 110.6 139.5 111.9 139.1 113.2 138.6 114.6 138.2 115.9 137.8 117.3 137.3 118.6 136.9 119.9 136.4 121.3 136 122.6 135.5 124 135.1 125.3 134.6 126.6 134.2 128 133.7 129.3 133.3 130.7 132.8 132 132.4 133.3 132 134.7 131.5 136 131.2 137.4 130.8 138.7 130.4 140 130 141.4 129.7 142.7 129.3 144 128.9 145.4 128.6 146.7 128.3 148.1 128 149.4 127.8 150.7 127.6 152.1 127.4 153.4 127.3 154.8 127.1 156.1 127 157.4 126.9 158.8 126.8 160.1 126.7 161.5 126.6 162.8 126.6 164.1 126.5 165.5 126.4 166.8 126.3 168.2 126.3 169.5 126.2 170.8 126.1 172.2 126.1 173.5 126 174.8 125.9 176.2 125.8 177.5 125.7 178.9 125.7 180.2 125.6 181.5 125.5 182.9 125.5 184.2 125.4 185.6 125.4 186.9 125.3 188.2 125.3 189.6 125.3 190.9 125.3 192.3 125.3 193.6 125.3 194.9 125.4 196.3 125.4 197.6 125.4 199 125.5 200.3 125.6 201.6 125.6 203 125.7 204.3 125.8 205.7 125.9 207 125.9 208.3 126 209.7 126.1 211 126.2 212.3 126.3 213.7 126.5 215 126.7 216.4 126.8 217.7 127 219 127.3 220.4 127.5 221.7 127.8 223.1 128 224.4 128.3 225.7 128.6 227.1 128.9 228.4 129.2 229.8 129.5 231.1 129.8 232.4 130.2 233.8 130.6 235.1 131 236.5 131.5 237.8 131.9 239.1 132.3 240.5 132.7 241.8 133 243.1 133.4 244.5 133.7 245.8 134 247.2 134.3 248.5 134.6 249.8 134.9 251.2 135.2 252.5 135.5 253.9 135.8 255.2 136.1 256.5 136.4 257.9 136.7 259.2 137 260.6 137.3 261.9 137.7 263.2 138 264.6 138.3 265.9 138.6 267.3 138.9 268.6 139.2 269.9 139.4 271.3 139.7 272.6 139.9 273.9 140.2 275.3 140.4 276.6 140.6 278 140.9 279.3 141.1 280.6 141.3 282 141.5 283.3 141.7 284.7 141.9 286 142.2 287.3 142.4 288.7 142.6 290 142.9 291.4 143.2 292.7 143.4 294 143.7 295.4 144 296.7 144.3 298.1 144.7 299.4 145 300.7 145.3 302.1 145.6 303.4 146 304.8 146.3 306.1 146.6 307.4 146.9 308.8 147.3 310.1 147.6 311.4 147.9 312.8 148.3 314.1 148.6 315.5 149 316.8 149.3 318.1 149.7 319.5 150 320.8 150.4 322.2 150.7 323.5 151.1" fill="none" stroke="#8b1a1a" stroke-width="1.3" stroke-linejoin="round"/>
<marker id="m6" markerWidth="10.2" markerHeight="10.2" refX="5.1" refY="5.1" markerUnits="userSpaceOnUse" overflow="visible"><circle cx="5.1" cy="5.1" r="3.3" fill="#fff" stroke="#8b1a1a" stroke-width="0.8"/></marker>
<polyline points="57,151.1 57.9,151 58.7,150.8 59.6,150.7 60.5,150.5 61.3,150.4 62.2,150.2 63.1,150.1 63.9,149.9 64.8,149.7 65.7,149.6 66.5,149.4 67.4,149.3 68.3,149.1 69.1,148.9 70,148.8 70.9,148.6 71.7,148.5 72.6,148.3 73.5,148.1 74.3,148 75.2,147.8 76.1,147.6 76.9,147.5 77.8,147.3 78.7,147.1 79.5,146.9 80.4,146.8 81.3,146.6 82.1,146.4 83,146.2 83.8,146.1 84.7,145.9 85.6,145.7 86.4,145.5 87.3,145.3 88.2,145.1 89,144.9 89.9,144.7 90.8,144.5 91.6,144.3 92.5,144.2 93.4,144 94.2,143.8 95.1,143.5 96,143.3 96.8,143.1 97.7,142.9 98.6,142.7 99.4,142.5 100.3,142.3 101.2,142.1 102,141.9 102.9,141.6 103.8,141.4 104.6,141.2 105.5,140.9 106.4,140.7 107.2,140.5 108.1,140.2 109,140 109.8,139.7 110.7,139.4 111.6,139.2 112.4,138.9 113.3,138.6 114.2,138.3 115,138.1 115.9,137.8 116.8,137.5 117.6,137.2 118.5,136.9 119.4,136.6 120.2,136.3 121.1,136 122,135.7 122.8,135.4 123.7,135.2 124.6,134.9 125.4,134.6 126.3,134.3 127.2,134 128,133.7 128.9,133.4 129.8,133.1 130.6,132.8 131.5,132.6 132.4,132.3 133.2,132 134.1,131.7 135,131.5 135.8,131.2 136.7,131 137.5,130.7 138.4,130.5 139.3,130.2 140.1,130 141,129.8 141.9,129.5 142.7,129.3 143.6,129 144.5,128.8 145.3,128.6 146.2,128.4 147.1,128.2 147.9,128 148.8,127.9 149.7,127.7 150.5,127.6 151.4,127.5 152.3,127.4 153.1,127.3 154,127.2 154.9,127.1 155.7,127.1 156.6,127 157.5,126.9 158.3,126.8 159.2,126.8 160.1,126.7 160.9,126.7 161.8,126.6 162.7,126.6 163.5,126.5 164.4,126.5 165.3,126.4 166.1,126.4 167,126.3 167.9,126.3 168.7,126.2 169.6,126.2 170.5,126.1 171.3,126.1 172.2,126.1 173.1,126 173.9,126 174.8,125.9 175.7,125.9 176.5,125.8 177.4,125.8 178.3,125.7 179.1,125.7 180,125.6 180.9,125.6 181.7,125.5 182.6,125.5 183.5,125.4 184.3,125.4 185.2,125.4 186.1,125.4 186.9,125.3 187.8,125.3 188.7,125.3 189.5,125.3 190.4,125.3 191.2,125.3 192.1,125.3 193,125.3 193.8,125.3 194.7,125.4 195.6,125.4 196.4,125.4 197.3,125.4 198.2,125.5 199,125.5 199.9,125.5 200.8,125.6 201.6,125.6 202.5,125.7 203.4,125.7 204.2,125.8 205.1,125.8 206,125.9 206.8,125.9 207.7,126 208.6,126 209.4,126.1 210.3,126.2 211.2,126.2 212,126.3 212.9,126.4 213.8,126.5 214.6,126.6 215.5,126.7 216.4,126.8 217.2,127 218.1,127.1 219,127.3 219.8,127.4 220.7,127.6 221.6,127.7 222.4,127.9 223.3,128.1 224.2,128.3 225,128.4 225.9,128.6 226.8,128.8 227.6,129 228.5,129.2 229.4,129.4 230.2,129.6 231.1,129.8 232,130 232.8,130.3 233.7,130.6 234.6,130.8 235.4,131.1 236.3,131.4 237.2,131.7 238,132 238.9,132.2 239.8,132.5 240.6,132.7 241.5,132.9 242.4,133.2 243.2,133.4 244.1,133.6 244.9,133.8 245.8,134 246.7,134.2 247.5,134.4 248.4,134.6 249.3,134.8 250.1,135 251,135.2 251.9,135.4 252.7,135.6 253.6,135.7 254.5,135.9 255.3,136.1 256.2,136.3 257.1,136.5 257.9,136.7 258.8,136.9 259.7,137.1 260.5,137.3 261.4,137.5 262.3,137.7 263.1,137.9 264,138.1 264.9,138.3 265.7,138.5 266.6,138.7 267.5,138.9 268.3,139.1 269.2,139.3 270.1,139.5 270.9,139.6 271.8,139.8 272.7,140 273.5,140.1 274.4,140.3 275.3,140.4 276.1,140.6 277,140.7 277.9,140.8 278.7,141 279.6,141.1 280.5,141.2 281.3,141.4 282.2,141.5 283.1,141.7 283.9,141.8 284.8,142 285.7,142.1 286.5,142.2 287.4,142.4 288.3,142.6 289.1,142.7 290,142.9 290.9,143.1 291.7,143.2 292.6,143.4 293.5,143.6 294.3,143.8 295.2,144 296.1,144.2 296.9,144.4 297.8,144.6 298.6,144.8 299.5,145 300.4,145.2 301.2,145.4 302.1,145.6 303,145.9 303.8,146.1 304.7,146.3 305.6,146.5 306.4,146.7 307.3,146.9 308.2,147.1 309,147.3 309.9,147.6 310.8,147.8 311.6,148 312.5,148.2 313.4,148.4 314.2,148.7 315.1,148.9 316,149.1 316.8,149.3 317.7,149.6 318.6,149.8 319.4,150 320.3,150.2 321.2,150.5 322,150.7 322.9,150.9" fill="none" stroke="none" marker-start="url(#m6)" marker-mid="url(#m6)" marker-end="url(#m6)"/>
<path d="M57 151.1 58.3 151 59.7 150.9 61 150.8 62.4 150.8 63.7 150.7 65 150.6 66.4 150.5 67.7 150.4 69.1 150.3 70.4 150.3 71.7 150.2 73.1 150.1 74.4 150 75.7 149.9 77.1 149.9 78.4 149.8 79.8 149.7 81.1 149.6 82.4 149.5 83.8 149.4 85.1 149.2 86.5 149.1 87.8 149 89.1 148.8 90.5 148.7 91.8 148.5 93.2 148.3 94.5 148.2 95.8 148 97.2 147.8 98.5 147.6 99.9 147.4 101.2 147.2 102.5 147.1 103.9 146.9 105.2 146.7 106.6 146.5 107.9 146.3 109.2 146.2 110.6 146 111.9 145.8 113.2 145.7 114.6 145.5 115.9 145.3 117.3 145.1 118.6 145 119.9 144.8 121.3 144.6 122.6 144.5 124 144.3 125.3 144.1 126.6 143.9 128 143.7 129.3 143.6 130.7 143.4 132 143.2 133.3 143 134.7 142.8 136 142.6 137.4 142.4 138.7 142.2 140 142 141.4 141.8 142.7 141.6 144 141.3 145.4 141.1 146.7 140.9 148.1 140.6 149.4 140.4 150.7 140.1 152.1 139.9 153.4 139.7 154.8 139.4 156.1 139.2 157.4 139 158.8 138.8 160.1 138.6 161.5 138.5 162.8 138.3 164.1 138.1 165.5 138 166.8 137.8 168.2 137.7 169.5 137.5 170.8 137.4 172.2 137.3 173.5 137.1 174.8 137 176.2 136.8 177.5 136.7 178.9 136.6 180.2 136.5 181.5 136.4 182.9 136.3 184.2 136.2 185.6 136.2 186.9 136.1 188.2 136.1 189.6 136.1 190.9 136.1 192.3 136.1 193.6 136.1 194.9 136.1 196.3 136.1 197.6 136.1 199 136.2 200.3 136.2 201.6 136.2 203 136.3 204.3 136.3 205.7 136.4 207 136.4 208.3 136.5 209.7 136.5 211 136.6 212.3 136.7 213.7 136.7 215 136.8 216.4 136.9 217.7 137 219 137.1 220.4 137.2 221.7 137.4 223.1 137.6 224.4 137.8 225.7 138.1 227.1 138.3 228.4 138.6 229.8 138.9 231.1 139.2 232.4 139.5 233.8 139.8 235.1 140.1 236.5 140.4 237.8 140.7 239.1 141 240.5 141.3 241.8 141.5 243.1 141.8 244.5 142.1 245.8 142.4 247.2 142.7 248.5 143 249.8 143.2 251.2 143.5 252.5 143.8 253.9 144.1 255.2 144.3 256.5 144.6 257.9 144.8 259.2 145.1 260.6 145.3 261.9 145.5 263.2 145.7 264.6 145.9 265.9 146.1 267.3 146.3 268.6 146.6 269.9 146.8 271.3 147 272.6 147.2 273.9 147.4 275.3 147.6 276.6 147.9 278 148.1 279.3 148.3 280.6 148.5 282 148.8 283.3 149 284.7 149.2 286 149.3 287.3 149.5 288.7 149.7 290 149.8 291.4 149.9 292.7 150 294 150.1 295.4 150.2 296.7 150.3 298.1 150.4 299.4 150.5 300.7 150.6 302.1 150.7 303.4 150.8 304.8 150.8 306.1 150.9 307.4 151 308.8 151 310.1 151.1 311.4 151.2 312.8 151.2 314.1 151.3 315.5 151.3 316.8 151.4 318.1 151.4 319.5 151.4 320.8 151.5 322.2 151.5 323.5 151.5" fill="none" stroke="#2a9a9a" stroke-width="1.3" stroke-linejoin="round"/>
<marker id="m7" markerWidth="10.2" markerHeight="10.2" refX="5.1" refY="5.1" markerUnits="userSpaceOnUse" overflow="visible"><circle cx="5.1" cy="5.1" r="3.3" fill="#fff" stroke="#2a9a9a" stroke-width="0.8"/></marker>
<polyline points="57,151.1 57.9,151 58.7,151 59.6,150.9 60.5,150.9 61.3,150.8 62.2,150.8 63.1,150.7 63.9,150.7 64.8,150.6 65.7,150.5 66.5,150.5 67.4,150.4 68.3,150.4 69.1,150.3 70,150.3 70.9,150.2 71.7,150.2 72.6,150.1 73.5,150.1 74.3,150 75.2,150 76.1,149.9 76.9,149.9 77.8,149.8 78.7,149.8 79.5,149.7 80.4,149.6 81.3,149.6 82.1,149.5 83,149.4 83.8,149.4 84.7,149.3 85.6,149.2 86.4,149.1 87.3,149 88.2,148.9 89,148.8 89.9,148.7 90.8,148.6 91.6,148.5 92.5,148.4 93.4,148.3 94.2,148.2 95.1,148.1 96,148 96.8,147.8 97.7,147.7 98.6,147.6 99.4,147.5 100.3,147.4 101.2,147.2 102,147.1 102.9,147 103.8,146.9 104.6,146.8 105.5,146.7 106.4,146.5 107.2,146.4 108.1,146.3 109,146.2 109.8,146.1 110.7,146 111.6,145.9 112.4,145.8 113.3,145.6 114.2,145.5 115,145.4 115.9,145.3 116.8,145.2 117.6,145.1 118.5,145 119.4,144.9 120.2,144.8 121.1,144.7 122,144.5 122.8,144.4 123.7,144.3 124.6,144.2 125.4,144.1 126.3,144 127.2,143.9 128,143.7 128.9,143.6 129.8,143.5 130.6,143.4 131.5,143.3 132.4,143.2 133.2,143 134.1,142.9 135,142.8 135.8,142.7 136.7,142.5 137.5,142.4 138.4,142.3 139.3,142.1 140.1,142 141,141.9 141.9,141.7 142.7,141.6 143.6,141.4 144.5,141.3 145.3,141.1 146.2,141 147.1,140.8 147.9,140.6 148.8,140.5 149.7,140.3 150.5,140.2 151.4,140 152.3,139.9 153.1,139.7 154,139.6 154.9,139.4 155.7,139.3 156.6,139.1 157.5,139 158.3,138.9 159.2,138.8 160.1,138.6 160.9,138.5 161.8,138.4 162.7,138.3 163.5,138.2 164.4,138.1 165.3,138 166.1,137.9 167,137.8 167.9,137.7 168.7,137.6 169.6,137.5 170.5,137.4 171.3,137.3 172.2,137.2 173.1,137.2 173.9,137.1 174.8,137 175.7,136.9 176.5,136.8 177.4,136.7 178.3,136.6 179.1,136.6 180,136.5 180.9,136.4 181.7,136.4 182.6,136.3 183.5,136.3 184.3,136.2 185.2,136.2 186.1,136.1 186.9,136.1 187.8,136.1 188.7,136.1 189.5,136.1 190.4,136.1 191.2,136.1 192.1,136.1 193,136.1 193.8,136.1 194.7,136.1 195.6,136.1 196.4,136.1 197.3,136.1 198.2,136.1 199,136.2 199.9,136.2 200.8,136.2 201.6,136.2 202.5,136.3 203.4,136.3 204.2,136.3 205.1,136.3 206,136.4 206.8,136.4 207.7,136.5 208.6,136.5 209.4,136.5 210.3,136.6 211.2,136.6 212,136.7 212.9,136.7 213.8,136.7 214.6,136.8 215.5,136.8 216.4,136.9 217.2,136.9 218.1,137 219,137.1 219.8,137.2 220.7,137.3 221.6,137.4 222.4,137.5 223.3,137.6 224.2,137.8 225,137.9 225.9,138.1 226.8,138.3 227.6,138.5 228.5,138.6 229.4,138.8 230.2,139 231.1,139.2 232,139.4 232.8,139.6 233.7,139.8 234.6,140 235.4,140.2 236.3,140.4 237.2,140.6 238,140.8 238.9,140.9 239.8,141.1 240.6,141.3 241.5,141.5 242.4,141.6 243.2,141.8 244.1,142 244.9,142.2 245.8,142.4 246.7,142.6 247.5,142.7 248.4,142.9 249.3,143.1 250.1,143.3 251,143.5 251.9,143.7 252.7,143.8 253.6,144 254.5,144.2 255.3,144.4 256.2,144.5 257.1,144.7 257.9,144.8 258.8,145 259.7,145.1 260.5,145.3 261.4,145.4 262.3,145.6 263.1,145.7 264,145.8 264.9,146 265.7,146.1 266.6,146.2 267.5,146.4 268.3,146.5 269.2,146.6 270.1,146.8 270.9,146.9 271.8,147.1 272.7,147.2 273.5,147.3 274.4,147.5 275.3,147.6 276.1,147.8 277,147.9 277.9,148.1 278.7,148.2 279.6,148.4 280.5,148.5 281.3,148.7 282.2,148.8 283.1,148.9 283.9,149.1 284.8,149.2 285.7,149.3 286.5,149.4 287.4,149.5 288.3,149.6 289.1,149.7 290,149.8 290.9,149.9 291.7,149.9 292.6,150 293.5,150.1 294.3,150.2 295.2,150.2 296.1,150.3 296.9,150.4 297.8,150.4 298.6,150.5 299.5,150.5 300.4,150.6 301.2,150.6 302.1,150.7 303,150.7 303.8,150.8 304.7,150.8 305.6,150.9 306.4,150.9 307.3,151 308.2,151 309,151.1 309.9,151.1 310.8,151.1 311.6,151.2 312.5,151.2 313.4,151.2 314.2,151.3 315.1,151.3 316,151.3 316.8,151.4 317.7,151.4 318.6,151.4 319.4,151.4 320.3,151.5 321.2,151.5 322,151.5 322.9,151.5" fill="none" stroke="none" marker-start="url(#m7)" marker-mid="url(#m7)" marker-end="url(#m7)"/>
<path d="M57 149 58 148.9 58.9 148.7 59.9 148.5 60.8 148.3 61.8 148.1 62.8 147.9 63.7 147.6 64.7 147.3 65.7 147 66.6 146.7 67.6 146.4 68.5 146.1 69.5 145.7 70.5 145.4 71.4 145 72.4 144.6 73.3 144.2 74.3 143.8 75.3 143.4 76.2 143 77.2 142.6 78.2 142.2 79.1 141.7 80.1 141.2 81 140.7 82 140.1 83 139.5 83.9 138.9 84.9 138.3 85.8 137.6 86.8 136.9 87.8 136.2 88.7 135.5 89.7 134.8 90.6 134.1 91.6 133.3 92.6 132.5 93.5 131.7 94.5 130.9 95.5 130 96.4 129.1 97.4 128.2 98.3 127.2 99.3 126.2 100.3 125.1 101.2 123.9 102.2 122.7 103.1 121.4 104.1 120 105.1 118.5 106 117 107 115.4 108 113.7 108.9 112 109.9 110.2 110.8 108.5 111.8 106.7 112.8 104.9 113.7 103.1 114.7 101.3 115.6 99.5 116.6 97.6 117.6 95.7 118.5 93.8 119.5 91.8 120.5 89.8 121.4 87.8 122.4 85.8 123.3 83.8 124.3 81.7 125.3 79.6 126.2 77.4 127.2 75.1 128.1 73 129.1 71 130.1 69.3 131 67.7 132 66.1 133 64.4" fill="none" stroke="#000000" stroke-width="1.3" stroke-linejoin="round"/>
<path d="M247.5 62.2 248.5 63.9 249.5 65.6 250.4 67.2 251.4 69 252.4 71 253.3 73.2 254.3 75.5 255.2 77.7 256.2 80 257.2 82.1 258.1 84.1 259.1 86.2 260 88.2 261 90.3 262 92.3 262.9 94.3 263.9 96.2 264.9 98.2 265.8 100.1 266.8 101.9 267.7 103.7 268.7 105.5 269.7 107.4 270.6 109.2 271.6 111 272.5 112.7 273.5 114.4 274.5 116.1 275.4 117.7 276.4 119.2 277.4 120.7 278.3 122 279.3 123.2 280.2 124.4 281.2 125.5 282.2 126.6 283.1 127.6 284.1 128.6 285 129.5 286 130.4 287 131.2 287.9 132.1 288.9 132.9 289.9 133.6 290.8 134.4 291.8 135.1 292.7 135.9 293.7 136.6 294.7 137.3 295.6 137.9 296.6 138.6 297.5 139.2 298.5 139.8 299.5 140.4 300.4 141 301.4 141.5 302.3 142 303.3 142.4 304.3 142.8 305.2 143.3 306.2 143.7 307.2 144.1 308.1 144.5 309.1 144.9 310 145.2 311 145.6 312 146 312.9 146.3 313.9 146.6 314.8 146.9 315.8 147.2 316.8 147.5 317.7 147.8 318.7 148 319.7 148.3 320.6 148.5 321.6 148.7 322.5 148.8 323.5 149" fill="none" stroke="#000000" stroke-width="1.3" stroke-linejoin="round"/>
<path d="M57 149 58 148.9 58.9 148.7 59.9 148.5 60.8 148.3 61.8 148 62.8 147.8 63.7 147.5 64.7 147.2 65.7 146.8 66.6 146.5 67.6 146.1 68.5 145.7 69.5 145.4 70.5 144.9 71.4 144.5 72.4 144.1 73.3 143.7 74.3 143.2 75.3 142.8 76.2 142.3 77.2 141.8 78.2 141.3 79.1 140.8 80.1 140.2 81 139.5 82 138.9 83 138.2 83.9 137.5 84.9 136.7 85.8 136 86.8 135.2 87.8 134.4 88.7 133.6 89.7 132.8 90.6 132.1 91.6 131.3 92.6 130.5 93.5 129.7 94.5 128.9 95.5 128 96.4 127.2 97.4 126.3 98.3 125.4 99.3 124.5 100.3 123.5 101.2 122.5 102.2 121.5 103.1 120.4 104.1 119.2 105.1 118 106 116.6 107 115.1 108 113.6 108.9 112 109.9 110.4 110.8 108.8 111.8 107.2 112.8 105.6 113.7 103.9 114.7 102.3 115.6 100.6 116.6 98.8 117.6 97.1 118.5 95.3 119.5 93.5 120.5 91.8 121.4 90.1 122.4 88.5 123.3 86.9 124.3 85.4 125.3 83.8 126.2 82.3 127.2 80.8 128.1 79.4 129.1 78.2 130.1 77.1 131 76.1 132 75.1 133 74.2" fill="none" stroke="#ff0000" stroke-width="1.3" stroke-linejoin="round"/>
<path d="M247.5 71.8 248.5 72.8 249.5 73.8 250.4 74.8 251.4 75.9 252.4 77.2 253.3 78.6 254.3 80.2 255.2 81.8 256.2 83.3 257.2 84.9 258.1 86.5 259.1 88.2 260 90 261 91.8 262 93.6 262.9 95.4 263.9 97.2 264.9 99 265.8 100.8 266.8 102.5 267.7 104.1 268.7 105.8 269.7 107.5 270.6 109.2 271.6 110.8 272.5 112.5 273.5 114 274.5 115.5 275.4 116.9 276.4 118.3 277.4 119.4 278.3 120.6 279.3 121.7 280.2 122.7 281.2 123.7 282.2 124.6 283.1 125.6 284.1 126.5 285 127.3 286 128.2 287 129 287.9 129.8 288.9 130.7 289.9 131.5 290.8 132.3 291.8 133.1 292.7 133.9 293.7 134.7 294.7 135.5 295.6 136.3 296.6 137 297.5 137.8 298.5 138.5 299.5 139.2 300.4 139.8 301.4 140.5 302.3 141 303.3 141.5 304.3 142 305.2 142.5 306.2 143 307.2 143.4 308.1 143.9 309.1 144.3 310 144.8 311 145.2 312 145.6 312.9 146 313.9 146.3 314.8 146.7 315.8 147 316.8 147.4 317.7 147.7 318.7 147.9 319.7 148.2 320.6 148.4 321.6 148.6 322.5 148.8 323.5 149" fill="none" stroke="#ff0000" stroke-width="1.3" stroke-linejoin="round"/>
</g>
<g clip-path="url(#cPC)">
<path d="M53.9 413.7 54.8 413.6 55.7 413.6 56.6 413.5 57.5 413.4 58.4 413.3 59.4 413.2 60.3 413.2 61.2 413.1 62.1 413 63 412.9 63.9 412.8 64.8 412.7 65.7 412.7 66.7 412.6 67.6 412.5 68.5 412.4 69.4 412.3 70.3 412.2 71.2 412.1 72.1 412 73.1 411.9 74 411.8 74.9 411.7 75.8 411.7 76.7 411.6 77.6 411.5 78.5 411.4 79.4 411.3 80.4 411.2 81.3 411.1 82.2 411 83.1 410.9 84 410.8 84.9 410.7 85.8 410.6 86.8 410.5 87.7 410.4 88.6 410.3 89.5 410.2 90.4 410.1 91.3 410 92.2 409.9 93.2 409.8 94.1 409.7 95 409.6 95.9 409.5 96.8 409.4 97.7 409.3 98.6 409.2 99.5 409.1 100.5 409 101.4 408.9 102.3 408.7 103.2 408.6 104.1 408.5 105 408.4 105.9 408.3 106.9 408.2 107.8 408.1 108.7 408 109.6 407.8 110.5 407.7 111.4 407.6 112.3 407.4 113.3 407.3 114.2 407.2 115.1 407 116 406.9 116.9 406.7 117.8 406.6 118.7 406.4 119.6 406.2 120.6 406.1 121.5 405.9 122.4 405.7 123.3 405.5 124.2 405.3 125.1 405.1 126 404.9 127 404.6 127.9 404.3 128.8 404 129.7 403.6 130.6 403.2 131.5 402.7 132.4 402 133.4 401.2 134.3 400.1 135.2 399 136.1 397.7 137 396.2 137.9 394.6 138.8 392.3 139.7 389.2 140.7 385.5 141.6 381.6 142.5 377.7 143.4 374.2 144.3 371.2 145.2 368.4 146.1 365.7 147.1 363.1 148 360.5 148.9 358.1 149.8 355.8 150.7 353.6 151.6 351.3 152.5 349 153.4 346.8 154.4 345 155.3 343.6 156.2 343 157.1 342.4 158 342 158.9 341.7 159.8 341.5 160.8 341.5 161.7 341.5 162.6 341.5 163.5 341.5 164.4 341.5 165.3 341.5 166.2 341.5 167.2 341.5 168.1 341.6 169 341.6 169.9 341.6 170.8 341.6 171.7 341.6 172.6 341.6 173.5 341.7 174.5 341.7 175.4 341.7 176.3 341.7 177.2 341.7 178.1 341.8 179 341.8 179.9 341.8 180.9 341.8 181.8 341.8 182.7 341.8 183.6 341.9 184.5 341.9 185.4 341.9 186.3 341.9 187.3 341.9 188.2 341.9 189.1 341.9 190 341.9 190.9 341.9 191.8 341.9 192.7 341.9 193.6 341.9 194.6 341.9 195.5 341.9 196.4 341.9 197.3 341.9 198.2 341.8 199.1 341.8 200 341.8 201 341.8 201.9 341.8 202.8 341.8 203.7 341.7 204.6 341.7 205.5 341.7 206.4 341.7 207.4 341.7 208.3 341.6 209.2 341.6 210.1 341.6 211 341.6 211.9 341.6 212.8 341.6 213.7 341.5 214.7 341.5 215.6 341.5 216.5 341.5 217.4 341.5 218.3 341.5 219.2 341.5 220.1 341.5 221.1 341.6 222 342 222.9 342.6 223.8 343.2 224.7 344 225.6 344.9 226.5 346 227.5 347.3 228.4 348.6 229.3 350 230.2 351.3 231.1 352.6 232 354 232.9 355.4 233.8 356.8 234.8 358.3 235.7 360 236.6 361.7 237.5 363.5 238.4 365.6 239.3 368 240.2 370.4 241.2 373 242.1 375.4 243 377.8 243.9 379.9 244.8 381.9 245.7 383.9 246.6 385.8 247.5 387.6 248.5 389.4 249.4 391.2 250.3 392.9 251.2 394.5 252.1 396 253 397.5 253.9 399.1 254.9 400.7 255.8 402.2 256.7 403.5 257.6 404.5 258.5 405 259.4 405.4 260.3 405.7 261.3 405.9 262.2 406.1 263.1 406.3 264 406.5 264.9 406.7 265.8 406.8 266.7 407 267.6 407.1 268.6 407.2 269.5 407.4 270.4 407.5 271.3 407.7 272.2 407.8 273.1 407.9 274 408.1 275 408.2 275.9 408.3 276.8 408.4 277.7 408.6 278.6 408.7 279.5 408.8 280.4 408.9 281.4 409 282.3 409.1 283.2 409.2 284.1 409.3 285 409.4 285.9 409.5 286.8 409.7 287.7 409.8 288.7 409.9 289.6 410 290.5 410.1 291.4 410.2 292.3 410.3 293.2 410.4 294.1 410.5 295.1 410.6 296 410.7 296.9 410.8 297.8 410.9 298.7 411 299.6 411.1 300.5 411.2 301.5 411.3 302.4 411.4 303.3 411.5 304.2 411.6 305.1 411.7 306 411.8 306.9 411.9 307.8 411.9 308.8 412 309.7 412.1 310.6 412.2 311.5 412.3 312.4 412.4 313.3 412.5 314.2 412.6 315.2 412.7 316.1 412.8 317 412.8 317.9 412.9 318.8 413 319.7 413.1 320.6 413.2 321.5 413.3 322.5 413.3 323.4 413.4 324.3 413.5 325.2 413.6 326.1 413.6 327 413.7" fill="none" stroke="#ff0000" stroke-width="7.5" stroke-linejoin="round"/>
<marker id="m8" markerWidth="13.2" markerHeight="13.2" refX="6.6" refY="6.6" markerUnits="userSpaceOnUse" overflow="visible"><circle cx="6.6" cy="6.6" r="3.7" fill="#fff" stroke="#000000" stroke-width="1.9"/></marker>
<polyline points="55.9,413 56.4,413 56.9,413 57.5,413 58,413 58.6,413 59.1,413 59.7,412.9 60.2,412.9 60.8,412.9 61.3,412.9 61.9,412.8 62.4,412.8 63,412.8 63.5,412.8 64.1,412.7 64.6,412.7 65.2,412.7 65.8,412.6 66.3,412.6 66.9,412.5 67.4,412.5 68,412.5 68.6,412.4 69.1,412.4 69.7,412.3 70.3,412.3 70.8,412.2 71.4,412.2 72,412.1 72.5,412.1 73.1,412 73.7,412 74.2,411.9 74.8,411.9 75.4,411.8 76,411.8 76.5,411.7 77.1,411.6 77.7,411.6 78.3,411.5 78.8,411.5 79.4,411.4 80,411.3 80.6,411.3 81.1,411.2 81.7,411.1 82.3,411.1 82.9,411 83.5,410.9 84,410.9 84.6,410.8 85.2,410.7 85.8,410.6 86.4,410.6 86.9,410.5 87.5,410.4 88.1,410.4 88.7,410.3 89.3,410.2 89.9,410.1 90.4,410.1 91,410 91.6,409.9 92.2,409.8 92.8,409.8 93.4,409.7 94,409.6 94.5,409.5 95.1,409.4 95.7,409.3 96.3,409.3 96.9,409.2 97.5,409.1 98.1,409 98.7,408.9 99.3,408.8 99.9,408.7 100.5,408.6 101.1,408.5 101.7,408.4 102.3,408.3 102.9,408.1 103.5,408 104.1,407.9 104.8,407.8 105.4,407.6 106,407.5 106.6,407.4 107.2,407.2 107.8,407.1 108.5,407 109.1,406.8 109.7,406.7 110.4,406.5 111,406.3 111.6,406.2 112.3,406 112.9,405.8 113.6,405.6 114.2,405.5 114.8,405.3 115.5,405.1 116.2,404.9 116.8,404.7 117.5,404.5 118.1,404.2 118.8,404 119.5,403.7 120.2,403.3 120.9,403 121.7,402.6 122.4,402.2 123.2,401.8 123.9,401.3 124.7,400.8 125.5,400.2 126.3,399.7 127.2,399 128,398.3 128.9,397.5 129.9,396.4 130.8,395.2 131.9,393.9 132.9,392.5 134,391 135.2,389.2 136.4,387 137.6,384.5 139,381.1 140.6,376.9 142.2,372.2 143.8,367 145.4,361.8 147,356.5 148.6,351.5 150.2,347.3 151.7,343.8 153.1,340.8 154.4,338.4 155.7,336.4 156.8,334.7 157.9,333.4 158.8,332.9 159.5,332.5 160.3,332.2 161,331.8 161.7,331.6 162.3,331.3 163,331.1 163.7,330.9 164.3,330.8 164.9,330.7 165.5,330.6 166.1,330.5 166.7,330.5 167.2,330.5 167.7,330.5 168.3,330.5 168.8,330.5 169.4,330.6 169.9,330.6 170.5,330.6 171.1,330.7 171.6,330.7 172.2,330.8 172.8,330.8 173.4,330.9 173.9,331 174.5,331 175.1,331.1 175.7,331.2 176.2,331.2 176.8,331.3 177.4,331.4 178,331.4 178.6,331.5 179.1,331.6 179.7,331.7 180.3,331.8 180.9,331.9 181.5,332 182.1,332.1 182.7,332.2 183.3,332.3 183.9,332.4 184.5,332.5 185.1,332.6 185.7,332.6 186.3,332.7 186.9,332.8 187.5,332.9 188,332.9 188.6,333 189.2,333 189.7,333 190.3,333 190.8,333 191.3,333 191.9,333 192.5,332.9 193.1,332.8 193.7,332.7 194.3,332.6 194.9,332.5 195.5,332.3 196.1,332.2 196.8,332 197.4,331.8 198,331.7 198.7,331.5 199.3,331.3 199.9,331.2 200.6,331 201.2,330.9 201.8,330.8 202.4,330.7 203,330.6 203.6,330.5 204.2,330.4 204.8,330.4 205.3,330.3 205.9,330.3 206.5,330.2 207,330.2 207.6,330.1 208.2,330.1 208.7,330 209.3,330 209.9,329.9 210.4,329.9 211,329.9 211.6,329.8 212.1,329.8 212.7,329.8 213.2,329.7 213.8,329.7 214.3,329.7 214.9,329.7 215.4,329.7 216,329.6 216.5,329.6 217,329.6 217.6,329.7 218.3,330.1 219.1,330.8 220,331.9 221,332.9 221.9,333.8 222.8,334.7 223.8,335.7 224.8,336.8 225.8,338.1 226.8,339.5 227.9,341.1 229,342.8 230.2,344.8 231.5,347.1 232.8,349.9 234.3,354.2 235.9,359.3 237.5,363.9 239.1,368.2 240.7,373.9 242.3,383.2 243.9,389 245.5,392.8 246.6,393.9 247.5,394.7 248.3,395.3 249.1,395.8 249.9,396.2 250.6,396.5 251.3,396.8 252,397.1 252.7,397.4 253.4,397.6 254,397.8 254.7,398 255.3,398.2 256,398.4 256.6,398.5 257.3,398.7 257.9,398.9 258.5,399 259.2,399.2 259.8,399.3 260.4,399.4 261,399.6 261.6,399.7 262.2,399.8 262.9,399.9 263.5,400 264.1,400.1 264.7,400.2 265.3,400.3 265.9,400.4 266.5,400.5 267.1,400.6 267.7,400.7 268.3,400.8 268.9,400.9 269.5,401 270.1,401.1 270.7,401.2 271.3,401.3 271.9,401.4 272.5,401.5 273.1,401.6 273.7,401.7 274.3,401.9 274.9,402 275.5,402.1 276.1,402.2 276.7,402.3 277.3,402.5 278,402.6 278.6,402.7 279.2,402.9 279.8,403 280.4,403.1 281,403.2 281.7,403.4 282.3,403.5 282.9,403.6 283.5,403.7 284.1,403.9 284.7,404 285.3,404.1 286,404.3 286.6,404.4 287.2,404.5 287.8,404.6 288.4,404.7 289,404.9 289.6,405 290.3,405.1 290.9,405.2 291.5,405.3 292.1,405.5 292.7,405.6 293.3,405.7 293.9,405.8 294.5,405.9 295.1,406 295.7,406.1 296.3,406.2 296.9,406.3 297.5,406.4 298.1,406.5 298.7,406.6 299.3,406.8 299.9,406.9 300.5,407 301.1,407.1 301.7,407.2 302.3,407.3 302.9,407.4 303.5,407.4 304.1,407.5 304.7,407.6 305.3,407.7 305.9,407.8 306.5,407.9 307.1,408 307.7,408.1 308.3,408.2 308.9,408.3 309.5,408.4 310.1,408.5 310.7,408.6 311.3,408.7 311.9,408.8 312.5,408.8 313.1,408.9 313.7,409 314.2,409.1 314.8,409.2 315.4,409.3 316,409.4 316.6,409.4 317.2,409.5 317.8,409.6 318.4,409.7 319,409.8 319.6,409.9 320.1,409.9 320.7,410 321.3,410.1 321.9,410.2 322.5,410.2 323.1,410.3 323.7,410.4 324.2,410.5 324.8,410.5 325.4,410.6" fill="none" stroke="none" marker-start="url(#m8)" marker-mid="url(#m8)" marker-end="url(#m8)"/>
<marker id="m9" markerWidth="13.2" markerHeight="13.2" refX="6.6" refY="6.6" markerUnits="userSpaceOnUse" overflow="visible"><circle cx="6.6" cy="6.6" r="3.7" fill="#fff" stroke="#00ee00" stroke-width="1.9"/></marker>
<polyline points="55.9,415.2 56.4,415.2 57,415.1 57.5,415.1 58,415.1 58.6,415.1 59.1,415.1 59.7,415.1 60.2,415.1 60.8,415 61.3,415 61.8,415 62.4,415 62.9,415 63.5,415 64,414.9 64.6,414.9 65.1,414.9 65.7,414.9 66.2,414.9 66.7,414.9 67.3,414.8 67.8,414.8 68.4,414.8 68.9,414.8 69.5,414.8 70,414.8 70.6,414.7 71.1,414.7 71.7,414.7 72.2,414.7 72.8,414.7 73.3,414.7 73.8,414.6 74.4,414.6 74.9,414.6 75.5,414.6 76,414.6 76.6,414.5 77.1,414.5 77.7,414.5 78.2,414.5 78.8,414.5 79.3,414.4 79.9,414.4 80.4,414.4 81,414.4 81.5,414.4 82,414.4 82.6,414.3 83.1,414.3 83.7,414.3 84.2,414.3 84.8,414.3 85.3,414.2 85.9,414.2 86.4,414.2 87,414.2 87.5,414.1 88.1,414.1 88.6,414.1 89.2,414.1 89.7,414.1 90.3,414 90.8,414 91.4,414 91.9,414 92.5,413.9 93,413.9 93.6,413.9 94.1,413.9 94.7,413.8 95.2,413.8 95.8,413.8 96.3,413.8 96.9,413.7 97.4,413.7 98,413.7 98.5,413.7 99.1,413.6 99.6,413.6 100.2,413.6 100.7,413.6 101.3,413.5 101.8,413.5 102.4,413.5 102.9,413.5 103.5,413.5 104,413.4 104.6,413.4 105.1,413.4 105.7,413.4 106.2,413.3 106.8,413.3 107.3,413.3 107.9,413.3 108.4,413.3 109,413.3 109.5,413.2 110,413.2 110.6,413.2 111.1,413.2 111.7,413.2 112.2,413.2 112.8,413.2 113.3,413.1 113.9,413.1 114.4,413.1 115,413.1 115.5,413.1 116,413 116.6,413 117.1,413 117.7,413 118.2,412.9 118.8,412.9 119.4,412.9 119.9,412.9 120.5,412.8 121,412.8 121.6,412.8 122.1,412.7 122.7,412.7 123.3,412.6 123.8,412.6 124.4,412.5 125,412.5 125.6,412.3 126.2,412.2 126.8,412.1 127.4,411.9 128.1,411.7 128.8,411.5 129.4,411.2 130.1,410.9 130.8,410.6 131.5,410.3 132.2,410 133,409.6 133.7,409.3 134.4,408.9 135.2,408.4 136,407.8 136.8,407.1 137.7,406.3 138.6,405.4 139.6,404.4 140.6,403.2 141.6,401.6 142.8,399.3 144.2,396.4 145.6,393.1 147.1,389.6 148.6,385.4 150.2,381 151.8,377 153.3,373.7 154.7,370.7 156.1,367.8 157.4,365.2 158.7,362.9 160,360.7 161.2,358.6 162.4,356.6 163.6,354.6 164.8,352.6 165.9,350.9 167.1,349.3 168.1,348 169.1,346.9 170.1,346 170.9,345.4 171.7,344.8 172.6,344.2 173.4,343.7 174.2,343.2 174.9,342.7 175.7,342.3 176.4,341.9 177.2,341.6 177.9,341.3 178.6,341.1 179.2,340.9 179.8,340.7 180.5,340.6 181.1,340.6 181.6,340.5 182.2,340.4 182.8,340.3 183.4,340.3 184,340.2 184.6,340.1 185.1,340.1 185.7,340 186.3,340 186.8,339.9 187.4,339.9 188,339.9 188.5,339.8 189.1,339.8 189.6,339.8 190.1,339.8 190.7,339.8 191.2,339.8 191.7,339.8 192.3,339.8 192.8,339.9 193.4,339.9 194,339.9 194.5,340 195.1,340 195.6,340.1 196.2,340.1 196.8,340.2 197.4,340.2 197.9,340.3 198.5,340.4 199.1,340.5 199.7,340.5 200.3,340.6 200.9,340.7 201.5,340.8 202.1,341 202.7,341.2 203.4,341.4 204.1,341.7 204.8,342 205.5,342.4 206.3,342.8 207,343.3 207.8,343.8 208.6,344.4 209.5,345 210.3,345.7 211.2,346.4 212,347.2 212.9,348 213.8,348.9 214.8,349.8 215.8,351.2 216.9,353.2 218.2,355.9 219.6,359 221.1,362.3 222.5,365.3 223.8,368 225.1,370.6 226.5,373.2 227.8,375.8 229.1,378.6 230.5,381.4 231.9,384.6 233.4,388 234.8,391.5 236.3,394.5 237.6,397.1 238.9,399.6 240.2,401.9 241.4,403.7 242.5,405 243.4,406 244.3,406.8 245.2,407.6 246.1,408.2 246.9,408.8 247.7,409.4 248.5,409.9 249.3,410.3 250,410.7 250.8,411.1 251.5,411.5 252.2,411.8 253,412.2 253.7,412.5 254.4,412.8 255.1,413 255.7,413.2 256.4,413.3 257,413.4 257.6,413.5 258.1,413.5 258.7,413.6 259.3,413.6 259.8,413.7 260.4,413.7 260.9,413.7 261.5,413.8 262.1,413.8 262.6,413.9 263.2,413.9 263.7,413.9 264.3,414 264.8,414 265.4,414 266,414 266.5,414.1 267.1,414.1 267.6,414.1 268.2,414.1 268.7,414.1 269.2,414.2 269.8,414.2 270.3,414.2 270.9,414.2 271.4,414.2 272,414.2 272.5,414.2 273.1,414.3 273.6,414.3 274.1,414.3 274.7,414.3 275.2,414.3 275.7,414.3 276.3,414.3 276.8,414.3 277.3,414.3 277.9,414.3 278.4,414.3 278.9,414.3 279.5,414.3 280,414.3 280.5,414.3 281.1,414.3 281.6,414.3 282.1,414.3 282.7,414.3 283.2,414.3 283.7,414.3 284.3,414.3 284.8,414.3 285.3,414.3 285.9,414.3 286.4,414.3 286.9,414.3 287.5,414.3 288,414.3 288.5,414.3 289.1,414.3 289.6,414.3 290.1,414.3 290.7,414.3 291.2,414.3 291.7,414.3 292.3,414.3 292.8,414.3 293.3,414.3 293.9,414.3 294.4,414.3 294.9,414.3 295.5,414.3 296,414.3 296.5,414.3 297.1,414.3 297.6,414.3 298.1,414.3 298.7,414.3 299.2,414.3 299.7,414.3 300.3,414.3 300.8,414.3 301.3,414.3 301.9,414.3 302.4,414.3 303,414.3 303.5,414.4 304,414.4 304.6,414.4 305.1,414.4 305.7,414.4 306.2,414.4 306.8,414.4 307.3,414.4 307.8,414.5 308.4,414.5 308.9,414.5 309.5,414.5 310,414.5 310.6,414.6 311.1,414.6 311.7,414.6 312.2,414.6 312.8,414.6 313.3,414.7 313.9,414.7 314.4,414.7 315,414.7 315.5,414.7 316.1,414.8 316.6,414.8 317.2,414.8 317.7,414.8 318.3,414.9 318.8,414.9 319.4,414.9 319.9,414.9 320.5,415 321,415 321.6,415 322.1,415.1 322.7,415.1 323.2,415.1 323.8,415.1 324.3,415.2 324.9,415.2 325.5,415.2" fill="none" stroke="none" marker-start="url(#m9)" marker-mid="url(#m9)" marker-end="url(#m9)"/>
<marker id="m10" markerWidth="13.2" markerHeight="13.2" refX="6.6" refY="6.6" markerUnits="userSpaceOnUse" overflow="visible"><circle cx="6.6" cy="6.6" r="3.7" fill="#fff" stroke="#0000dd" stroke-width="1.9"/></marker>
<polyline points="55.9,413.4 56.4,413.4 56.9,413.4 57.5,413.4 58,413.4 58.5,413.4 59.1,413.4 59.6,413.4 60.1,413.4 60.7,413.4 61.2,413.4 61.7,413.4 62.3,413.4 62.8,413.4 63.3,413.4 63.9,413.4 64.4,413.4 64.9,413.4 65.5,413.4 66,413.4 66.5,413.4 67.1,413.4 67.6,413.4 68.1,413.4 68.7,413.4 69.2,413.4 69.7,413.4 70.3,413.4 70.8,413.4 71.3,413.4 71.9,413.4 72.4,413.4 72.9,413.4 73.5,413.4 74,413.4 74.5,413.4 75.1,413.4 75.6,413.4 76.1,413.4 76.7,413.4 77.2,413.4 77.7,413.4 78.3,413.4 78.8,413.4 79.3,413.4 79.9,413.4 80.4,413.4 80.9,413.4 81.5,413.4 82,413.4 82.5,413.4 83.1,413.4 83.6,413.4 84.1,413.4 84.7,413.4 85.2,413.4 85.7,413.5 86.3,413.5 86.8,413.5 87.3,413.5 87.9,413.5 88.4,413.5 89,413.5 89.5,413.5 90.1,413.5 90.6,413.6 91.1,413.6 91.7,413.6 92.2,413.6 92.8,413.7 93.3,413.7 93.9,413.7 94.4,413.7 95,413.8 95.6,413.8 96.1,413.8 96.7,413.9 97.2,413.9 97.8,413.9 98.3,413.9 98.9,414 99.4,414 100,414 100.6,414.1 101.1,414.1 101.7,414.1 102.2,414.2 102.8,414.2 103.3,414.3 103.9,414.3 104.5,414.3 105,414.4 105.6,414.4 106.2,414.5 106.8,414.6 107.3,414.6 107.9,414.7 108.5,414.8 109.1,414.9 109.7,415 110.3,415.1 110.9,415.2 111.5,415.3 112.1,415.4 112.7,415.5 113.3,415.6 113.9,415.7 114.5,415.8 115.1,415.9 115.7,416 116.3,416.1 116.9,416.2 117.5,416.3 118.1,416.4 118.7,416.5 119.3,416.5 119.8,416.6 120.4,416.7 121,416.7 121.6,416.7 122.1,416.8 122.7,416.8 123.2,416.8 123.8,416.8 124.3,416.8 124.8,416.8 125.4,416.8 125.9,416.8 126.4,416.8 127,416.8 127.5,416.8 128.1,416.7 128.6,416.7 129.2,416.7 129.7,416.7 130.3,416.6 130.8,416.6 131.4,416.6 132,416.5 132.5,416.5 133.1,416.4 133.7,416.4 134.2,416.3 134.8,416.3 135.4,416.2 136,416.1 136.5,416.1 137.1,416 137.7,415.9 138.3,415.7 139,415.4 139.8,415 140.5,414.5 141.3,413.9 142.2,413.2 143.1,412.4 143.9,411.6 144.9,410.7 145.9,409.3 147,407.7 148.1,405.7 149.4,403.5 150.6,401.2 151.9,398.9 153.1,396.6 154.4,394 155.8,391.2 157.2,388.4 158.5,385.6 159.9,382.8 161.2,380.1 162.6,377.2 164,374.2 165.4,371.3 166.7,368.6 168,366.3 169.2,364.3 170.3,362.8 171.4,361.3 172.5,360 173.5,358.7 174.5,357.5 175.5,356.5 176.5,355.5 177.4,354.7 178.3,353.9 179.1,353.3 179.9,352.8 180.7,352.4 181.4,352 182.1,351.6 182.9,351.3 183.6,350.9 184.3,350.6 185,350.3 185.7,350.1 186.4,349.8 187.1,349.6 187.7,349.5 188.3,349.3 188.9,349.2 189.5,349.1 190.1,349.1 190.7,349.1 191.2,349.1 191.8,349.2 192.3,349.3 192.9,349.4 193.6,349.5 194.2,349.7 194.9,349.9 195.5,350.2 196.2,350.5 196.9,350.8 197.6,351.1 198.3,351.4 199.1,351.8 199.8,352.2 200.5,352.5 201.3,353 202.1,353.5 202.9,354.2 203.8,355 204.7,355.9 205.6,356.9 206.6,358 207.6,359.2 208.6,360.4 209.6,361.6 210.7,363 211.8,364.5 212.9,366.3 214,368.1 215.2,370.2 216.5,372.3 217.7,374.5 219,376.8 220.2,379.1 221.5,381.7 222.9,384.6 224.3,387.5 225.7,390.6 227.1,393.6 228.4,396.6 229.8,399.6 231.3,402.9 232.7,406.1 234.1,409 235.4,411.2 236.6,412.9 237.6,414.3 238.7,415.7 239.7,417 240.7,418 241.7,418.9 242.5,419.5 243.3,420 244.1,420.3 244.8,420.6 245.5,420.9 246.1,421.2 246.8,421.4 247.5,421.6 248.2,421.8 248.8,422 249.5,422.2 250.1,422.3 250.7,422.5 251.3,422.6 251.9,422.6 252.5,422.7 253.1,422.7 253.6,422.8 254.1,422.7 254.7,422.7 255.3,422.6 255.9,422.4 256.5,422.2 257.2,422 257.9,421.7 258.6,421.3 259.4,420.9 260.1,420.5 260.9,420 261.7,419.6 262.4,419.1 263.2,418.7 264,418.2 264.7,417.8 265.5,417.5 266.2,417.2 266.9,416.9 267.5,416.7 268.2,416.4 268.9,416.2 269.5,416 270.2,415.8 270.9,415.6 271.6,415.3 272.2,415.1 272.9,414.9 273.5,414.7 274.2,414.5 274.9,414.3 275.5,414.1 276.2,413.9 276.8,413.7 277.4,413.6 278.1,413.4 278.7,413.3 279.3,413.2 279.9,413 280.5,412.9 281.1,412.8 281.7,412.8 282.3,412.7 282.9,412.6 283.4,412.6 284,412.6 284.5,412.6 285.1,412.5 285.6,412.5 286.2,412.5 286.7,412.5 287.3,412.4 287.8,412.4 288.4,412.4 288.9,412.4 289.5,412.4 290,412.3 290.6,412.3 291.1,412.3 291.7,412.3 292.2,412.3 292.8,412.2 293.3,412.2 293.9,412.2 294.4,412.2 295,412.2 295.5,412.2 296,412.1 296.6,412.1 297.1,412.1 297.7,412.1 298.2,412.1 298.8,412.1 299.3,412.1 299.9,412 300.4,412 300.9,412 301.5,412 302,412 302.6,412 303.1,412 303.6,412 304.2,411.9 304.7,411.9 305.3,411.9 305.8,411.9 306.4,411.9 306.9,411.9 307.4,411.9 308,411.9 308.5,411.9 309.1,411.9 309.6,411.8 310.1,411.8 310.7,411.8 311.2,411.8 311.7,411.8 312.3,411.8 312.8,411.8 313.4,411.8 313.9,411.8 314.4,411.8 315,411.8 315.5,411.8 316,411.8 316.6,411.8 317.1,411.8 317.6,411.8 318.2,411.8 318.7,411.8 319.3,411.8 319.8,411.8 320.3,411.8 320.9,411.8 321.4,411.7 321.9,411.7 322.5,411.7 323,411.7 323.5,411.7 324.1,411.7 324.6,411.7 325.1,411.7 325.7,411.7" fill="none" stroke="none" marker-start="url(#m10)" marker-mid="url(#m10)" marker-end="url(#m10)"/>
<marker id="m11" markerWidth="13.2" markerHeight="13.2" refX="6.6" refY="6.6" markerUnits="userSpaceOnUse" overflow="visible"><circle cx="6.6" cy="6.6" r="3.7" fill="#fff" stroke="#22dddd" stroke-width="1.9"/></marker>
<polyline points="56.5,413.6 56.5,415.6 56.7,415.9 57.5,415.1 57.9,414.1 58.1,414.5 58.8,414.5 59.7,415.3 59.9,414.4 60.9,414.8 61.6,413.3 61.9,414.8 62.3,414.9 63,416.3 64,413.8 63.9,415.2 64.6,416.4 65,414.2 65.7,416 66.6,413.2 66.5,413.9 67.8,414.9 68.2,416.3 68.6,416.3 69.1,414.4 69.9,415.2 69.6,414.5 70.5,414.3 71.9,416 72.4,414 72.8,414.6 72.4,413.3 73.8,414.9 74,416.1 74.3,414.9 74.8,415.4 75.5,414.8 76.5,415.6 76.6,414.3 77.6,413 78.2,414.1 78.9,413.7 79.2,414.6 79.7,416 79.4,413.9 80.3,415.3 81.1,414.7 81.9,413 81.4,413.8 82.5,413.6 83.2,415 83.8,414.4 84.5,414.7 84.3,414.8 84.9,413.9 86.2,415.8 87,412.9 86.6,414.1 87.9,412.7 87.5,414.8 88.6,413.2 88.6,413.7 89.9,414.3 90,414.7 90.8,414.7 91.8,415.1 92.1,414.4 92.7,413.5 92.2,413.3 93,414 94.4,414.9 93.8,414.7 94.8,414.9 95.4,414.1 96.1,414.3 96.3,415.7 96.7,415.1 97.5,413.9 98.8,415.7 99.2,414.9 98.9,414.7 99.8,415.3 100.9,414.5 100.8,416.1 101.8,413.4 101.4,412.9 102.8,416.1 103.4,413.8 104.3,415.5 104.8,414.2 104.1,413 106,416.2 106.2,414.2 106,413.6 107.1,415.8 107,415.5 108,414.8 108.1,413.8 109.3,413.8 109.3,414.2 110.7,415.3 110.9,414.5 111.5,414.7 111.6,416.5 112.9,415.2 113.4,413.8 113.3,414.7 114.4,415.7 115.1,416.6 114.6,413.4 115.1,416.6 116.6,414.4 116.9,414.1 117.1,414.9 118.4,416.5 118.2,416.4 118.7,414.8 118.9,414.3 119.8,416.3 121.1,415.4 120.6,414.6 122.3,415.7 122.8,415.7 122.5,415.1 122.7,415 123.3,413.5 123.7,415.4 124.3,415.4 125,416.2 126.3,415.1 125.8,415.1 127.7,414.3 127.6,415.2 128.6,415.6 128.5,414.6 129.7,413.8 129.5,415.5 130.3,414.6 130.5,413.6 131.7,414.8 131.6,413.5 132.5,415.3 133.7,414.9 133.5,414.9 133.7,414.5 135.2,413.5 136,415 136,415.4 136.1,413.1 137.6,413.5 138.1,415.8 137.7,413.7 139.3,412.4 139.1,413.6 140.7,413.9 141,412.4 142.2,412.2 142.7,413.1 143.2,412.6 143.8,412.1 144.3,411.9 144.7,412.6 146.1,412.1 147.5,410.3 147.9,409 148.2,410.1 149.1,407.9 150.4,407.8 151.6,407.5 152,405.3 152.6,403.9 153.9,404.6 154.7,403.4 155.2,402.5 157,401.1 157.5,400.3 159.2,399.5 159,398.3 160.7,396.7 162.1,395.5 162.7,393.9 163.9,392.4 165.1,391.1 166.5,389.4 166.9,388.6 168.5,387.6 168.8,386.5 170.5,384.4 170.6,383.7 171.7,382.4 172.5,381.3 173.9,381 174.7,379.6 175.9,378.9 176.3,378.8 176.9,378 177.9,377.2 179.1,376.7 179.4,375.9 180.3,375.5 181.1,375.7 181.6,375.3 182,375 182.9,374.9 184.3,374.1 184.1,373.7 186,374 186.1,373.8 186.4,373.6 187.5,373.8 188.4,373 188.1,372.4 189.4,372.9 189.5,373.3 190.3,372.8 191.4,372.6 191.4,373 191.9,373.2 192.4,373 193.8,373.2 194.3,373.2 194.9,373.1 195.2,373.9 195.5,373.9 196.5,374.1 197.3,374.2 197.9,374.7 198.1,374.8 198.9,375.3 199.3,376.3 200.4,375.7 201.9,376.8 202.7,376.6 202.4,377 204.3,378.2 204.4,378.9 204.6,379 205.5,379.8 206.7,380.3 207.8,381.9 208.8,382.3 209.4,383.8 210.6,385.2 211.4,385.8 213.5,387.3 213.7,387.8 215.2,389.2 216.4,390.9 217.4,391.8 217.7,393.5 218.7,394.2 220.6,396.5 221.1,397.3 222.3,398.8 223.6,400.4 224.9,401.6 225.6,402.4 225.8,403.7 227.6,402.8 227.6,407 228.8,406.2 229.7,407.4 230.3,407.1 231.8,407.6 232.7,409.4 234.1,410.5 234.6,411.6 234.9,411.4 235.6,410.9 237,413.7 238,411.7 238.1,412.1 238.7,413.7 238.9,414.1 239.6,414 241.4,413.7 241.3,414.7 242.5,413.4 242.6,415.7 243.8,413.5 244.2,415.6 243.8,414 244.6,412.7 246,415.9 245.6,415.1 246,413.6 247.2,415.4 248.2,413.7 248.2,414.8 248.8,415.5 249.2,412.2 249.9,413.9 250.8,414.7 251.1,413.8 252.2,414.1 252.6,414.1 253.4,411.8 254.2,413.6 254,412.4 254.7,412.6 255.5,412.6 256.5,413.9 256.5,413.7 256.6,412.9 257.2,411.5 259,413.9 259.4,414 259.1,412 259.8,411.8 261,412.3 261.5,412 261.5,412.8 262.6,411.3 262.6,413.5 263.2,410.7 264.2,412.4 265.1,410 265.8,411 266.5,410.5 266.3,410.7 266.8,411.2 267.3,409.9 267.8,410.5 269,409.7 269.6,411.1 270.3,411.4 271.1,409.5 271.1,410.4 272.4,409 272.4,410 272.7,410.9 273.3,409.7 274.2,409.8 275,410 275.3,410.2 275.8,411.3 276.7,409.6 277.3,411.2 278.1,410.3 278.3,408.3 279.1,410.1 279,408.8 280.1,410.2 281.1,409.8 280.7,409.7 281.1,408.8 282.8,408.7 282.1,410.9 283.6,408.9 283.4,408.7 284.3,410.7 284.4,407.9 285.2,408.1 286.4,409.4 287.2,409.9 287.1,410.7 287.5,409 288,408.3 288.8,409.7 290.1,408.6 290.4,408.6 290.5,409.4 291,409.8 291.9,409 292,408.5 292.7,409.8 293.2,410.4 294,410.3 294.4,409.5 295.4,410.5 295.4,409.9 295.3,410.7 296.1,408.9 296.9,409.1 298,409.2 298,410.3 298.7,409.9 299.5,410.3 300,409.9 299.6,410.9 300.4,409.3 301.5,408.6 301.4,409.9 302.5,409.7 302.4,409.4 303.4,410.2 304.4,408.9 304.1,409.8 305.2,408.1 304.9,410.9 306.4,408.3 306.5,408.7 306.7,409.1 307.3,408 308.6,408.1 309,407.7 309.6,409.8 309.7,410.7 310.4,411 310.6,409.9 311.8,408.5 311.8,410.7 312.4,409.5 313,410.7 313.2,408.7 313.5,410.3 314.4,408.5 314.8,408.7 315.5,408.8 316.4,409.5 316.9,408.7 317.3,410.6 317.6,409.3 318.5,408.1 318.6,408.1 319.6,409.6 319.7,410.8 320.5,408.3 321.8,410.4 321.5,408.3 322.8,409.7 322.6,409.8 323.3,408.4 324,410.1 324.8,409.9 324.6,410.5" fill="none" stroke="none" marker-start="url(#m11)" marker-mid="url(#m11)" marker-end="url(#m11)"/>
<marker id="m12" markerWidth="13.2" markerHeight="13.2" refX="6.6" refY="6.6" markerUnits="userSpaceOnUse" overflow="visible"><circle cx="6.6" cy="6.6" r="3.7" fill="#fff" stroke="#ee22ee" stroke-width="1.9"/></marker>
<polyline points="55.7,433.1 58.6,416 60.3,420.1 61.6,414.8 64.2,421.5 67,428.4 68.2,427.4 70.8,433.8 73.4,425.9 75.1,418.5 77.7,419.6 78.8,425 81.5,424.4 84.2,425.8 85.1,425 88,415.5 90.1,433.4 92.8,418.6 94.7,425.2 95.9,428.2 98.9,422.8 100.1,422.8 103.1,419.8 105.2,427.2 106.6,415.2 109.1,422.3 110.9,415.4 113,433.2 115.3,414.3 117.5,420.7 119.2,426.1 122.1,419.5 123.8,425.4 126.5,421.6 128,419.5 130.9,407.3 132.2,414.2 135.3,424.6 136.8,418.4 139.1,406.2 141.4,412.2 142.7,404.6 145.3,404.5 148.2,418.7 150.2,426.1 151.7,410 154.4,407.1 155.7,408 158,407.5 160.1,403.4 163.1,408 164,399.4 166.8,398.3 168.2,397.4 170.5,395.7 172.6,393.4 175.6,392.7 177.3,389.6 179.9,386.7 181.5,388.9 184.1,384.8 186,384.5 187.5,388.1 190.6,386.7 191.8,389 194.2,383.7 196,387.5 198.6,384.1 200.9,383.1 202.9,389.7 205,388.4 206.7,389.6 209.1,386.9 212,389.2 213.8,398.5 216,397.6 217.8,402.3 219.4,402.1 221.7,409.5 224.7,408.8 226.3,407.5 229,398.8 230.7,418.1 232.3,419 235.4,412.1 237.6,414.6 239.8,417.3 241.8,422.2 243.2,404.6 245.3,409 248,421.6 250.1,417.1 252.2,409.3 254.5,409.3 256.3,414.2 258.1,418.6 260.9,405.6 262.4,422 264.9,417.3 267.2,421.6 269.4,412.3 271.7,422.4 273.4,412.2 275.9,409.4 278,412.9 280.1,427 282.4,421.3 284.4,424.2 286.5,418.8 288.7,427.7 290,425.7 291.9,418.2 294.6,410.5 297.3,410.7 299.1,421.4 301.1,421.9 303,408.3 305.5,407.1 307.6,420.8 309.7,422.7 311.5,424.6 314.5,419.3 315.6,415.5 317.7,423.6 320.3,413.3 322.8,427.1 324.1,414.5" fill="none" stroke="none" marker-start="url(#m12)" marker-mid="url(#m12)" marker-end="url(#m12)"/>
<marker id="m13" markerWidth="13.2" markerHeight="13.2" refX="6.6" refY="6.6" markerUnits="userSpaceOnUse" overflow="visible"><circle cx="6.6" cy="6.6" r="3.7" fill="#fff" stroke="#bbbbbb" stroke-width="1.9"/></marker>
<polyline points="64.4,427.8 73.3,424.6 77.3,421.3 82.4,422.6 86.3,424 89.9,426.5 95,423.9 103.1,425 107.5,421.7 112.7,426.1 120.6,426.8 133.5,426.5 141.9,424.1 151,424.3 155.1,426.3 164.1,428.3 168.4,428 177.6,427.4 185.6,428.7 189.9,430.6 203.6,428.7 207.8,426.5 211.9,429.4 224.1,426.4 229,428.6 232.9,428.2 242.7,425.8 251,426.8 255.6,419.7 259.8,425.8 264.3,423.4 267.8,424.8 271.8,424.5 280.6,428.7 285.4,423.7 289.4,423.4 293.6,426 303,425.4 307.3,423.3 311.1,425 315.9,427.7 320.5,427.6" fill="none" stroke="none" marker-start="url(#m13)" marker-mid="url(#m13)" marker-end="url(#m13)"/>
</g>
<g clip-path="url(#cPD)">
<marker id="m14" markerWidth="12" markerHeight="12" refX="6" refY="6" markerUnits="userSpaceOnUse" overflow="visible"><circle cx="6" cy="6" r="3.6" fill="#fff" stroke="#000000" stroke-width="1.4"/></marker>
<polyline points="386.7,422.1 388,421.8 389.3,421.5 390.7,421.1 392,420.8 393.3,420.4 394.7,420.1 396,419.7 397.3,419.3 398.7,418.9 400,418.5 401.3,418.1 402.7,417.7 404,417.3 405.3,416.9 406.7,416.4 408,416 409.3,415.6 410.7,415.1 412,414.6 413.3,414.2 414.7,413.7 416,413.3 417.3,412.8 418.7,412.3 420,411.8 421.3,411.3 422.7,410.8 424,410.3 425.3,409.8 426.7,409.2 428,408.7 429.3,408.1 430.7,407.5 432,406.9 433.3,406.3 434.7,405.6 436,405 437.3,404.2 438.7,403.5 440,402.7 441.3,401.9 442.7,401 444,400.2 445.3,399.3 446.7,398.4 448,397.4 449.3,396.5 450.7,395.5 452,394.6 453.3,393.7 454.7,392.8 456,391.7 457.3,390.3 458.6,388.5 460,385.7 461.3,382.1 462.6,377.7 464,372.3 465.3,364.4 466.6,352.9 468,340.9 469.3,331.2 470.6,323 472,317.3 473.3,312.5 474.6,309.4 476,309.2 477.3,310.7 478.6,313.1 480,315.8 481.3,318.4 482.6,321.3 484,324.5 485.3,328 486.6,331.6 488,335.1 489.3,338.7 490.6,342.3 492,346 493.3,349.4 494.6,352.7 496,356 497.3,359.2 498.6,362.2 500,364.9 501.3,367.2 502.6,369.3 504,371.4 505.3,373.3 506.6,375.1 508,376.7 509.3,378 510.6,379 512,379.7 513.3,380.2 514.6,380.8 516,381.2 517.3,381.6 518.6,381.9 520,382.1 521.3,382.2 522.6,382.1 524,381.9 525.3,381.6 526.6,381.2 528,380.8 529.3,380.2 530.6,379.7 532,379 533.3,378 534.6,376.7 536,375.1 537.3,373.3 538.6,371.4 540,369.3 541.3,367.2 542.6,364.9 544,362.2 545.3,359.2 546.6,356 548,352.7 549.3,349.4 550.6,346 552,342.3 553.3,338.7 554.6,335.1 556,331.6 557.3,328 558.6,324.5 560,321.3 561.3,318.4 562.6,315.8 564,313.1 565.3,310.7 566.6,309.2 568,309.4 569.3,312.5 570.6,317.3 572,323 573.3,331.2 574.6,340.9 576,352.9 577.3,364.4 578.6,372.3 580,377.7 581.3,382.1 582.6,385.7 584,388.5 585.3,390.3 586.6,391.7 588,392.8 589.3,393.7 590.6,394.6 591.9,395.5 593.3,396.5 594.6,397.4 595.9,398.4 597.3,399.3 598.6,400.2 599.9,401 601.3,401.9 602.6,402.7 603.9,403.5 605.3,404.2 606.6,405 607.9,405.6 609.3,406.3 610.6,406.9 611.9,407.5 613.3,408.1 614.6,408.7 615.9,409.2 617.3,409.8 618.6,410.3 619.9,410.8 621.3,411.3 622.6,411.8 623.9,412.3 625.3,412.8 626.6,413.3 627.9,413.7 629.3,414.2 630.6,414.6 631.9,415.1 633.3,415.6 634.6,416 635.9,416.4 637.3,416.9 638.6,417.3 639.9,417.7 641.3,418.1 642.6,418.5 643.9,418.9 645.3,419.3 646.6,419.7 647.9,420.1 649.3,420.4 650.6,420.8 651.9,421.1 653.3,421.5 654.6,421.8 655.9,422.1" fill="none" stroke="none" marker-start="url(#m14)" marker-mid="url(#m14)" marker-end="url(#m14)"/>
<marker id="m15" markerWidth="12" markerHeight="12" refX="6" refY="6" markerUnits="userSpaceOnUse" overflow="visible"><circle cx="6" cy="6" r="3.6" fill="#fff" stroke="#ee0000" stroke-width="1.4"/></marker>
<polyline points="386.7,422.1 388,421.8 389.3,421.5 390.7,421.1 392,420.8 393.3,420.4 394.7,420.1 396,419.7 397.3,419.3 398.7,418.9 400,418.5 401.3,418.1 402.7,417.7 404,417.3 405.3,416.9 406.7,416.4 408,416 409.3,415.6 410.7,415.1 412,414.6 413.3,414.2 414.7,413.7 416,413.3 417.3,412.8 418.7,412.3 420,411.8 421.3,411.3 422.7,410.8 424,410.3 425.3,409.8 426.7,409.2 428,408.7 429.3,408.1 430.7,407.5 432,406.9 433.3,406.3 434.7,405.6 436,405 437.3,404.3 438.7,403.5 440,402.8 441.3,402 442.7,401.2 444,400.4 445.3,399.5 446.7,398.6 448,397.7 449.3,396.8 450.7,395.9 452,395.1 453.3,394.2 454.7,393.4 456,392.3 457.3,391 458.6,389.3 460,386.7 461.3,383.2 462.6,378.9 464,373.6 465.3,366 466.6,355.7 468,345 469.3,335.7 470.6,327.7 472,322.3 473.3,317.6 474.6,314.7 476,314.4 477.3,315.4 478.6,317 480,318.9 481.3,320.9 482.6,323.4 484,326.3 485.3,329.5 486.6,332.8 488,336.1 489.3,339.3 490.6,342.6 492,345.8 493.3,349 494.6,352.2 496,355.3 497.3,358.4 498.6,361.4 500,364.1 501.3,366.4 502.6,368.5 504,370.6 505.3,372.5 506.6,374.3 508,375.9 509.3,377.2 510.6,378.2 512,378.8 513.3,379.4 514.6,380 516,380.4 517.3,380.8 518.6,381.1 520,381.3 521.3,381.4 522.6,381.3 524,381.1 525.3,380.8 526.6,380.4 528,380 529.3,379.4 530.6,378.8 532,378.2 533.3,377.2 534.6,375.9 536,374.3 537.3,372.5 538.6,370.6 540,368.5 541.3,366.4 542.6,364.1 544,361.4 545.3,358.4 546.6,355.3 548,352.2 549.3,349 550.6,345.8 552,342.6 553.3,339.3 554.6,336.1 556,332.8 557.3,329.5 558.6,326.3 560,323.4 561.3,320.9 562.6,318.9 564,317 565.3,315.4 566.6,314.4 568,314.7 569.3,317.6 570.6,322.3 572,327.7 573.3,335.7 574.6,345 576,355.7 577.3,366 578.6,373.6 580,378.9 581.3,383.2 582.6,386.7 584,389.3 585.3,391 586.6,392.3 588,393.4 589.3,394.2 590.6,395.1 591.9,395.9 593.3,396.8 594.6,397.7 595.9,398.6 597.3,399.5 598.6,400.4 599.9,401.2 601.3,402 602.6,402.8 603.9,403.5 605.3,404.3 606.6,405 607.9,405.6 609.3,406.3 610.6,406.9 611.9,407.5 613.3,408.1 614.6,408.7 615.9,409.2 617.3,409.8 618.6,410.3 619.9,410.8 621.3,411.3 622.6,411.8 623.9,412.3 625.3,412.8 626.6,413.3 627.9,413.7 629.3,414.2 630.6,414.6 631.9,415.1 633.3,415.6 634.6,416 635.9,416.4 637.3,416.9 638.6,417.3 639.9,417.7 641.3,418.1 642.6,418.5 643.9,418.9 645.3,419.3 646.6,419.7 647.9,420.1 649.3,420.4 650.6,420.8 651.9,421.1 653.3,421.5 654.6,421.8 655.9,422.1" fill="none" stroke="none" marker-start="url(#m15)" marker-mid="url(#m15)" marker-end="url(#m15)"/>
<marker id="m16" markerWidth="12" markerHeight="12" refX="6" refY="6" markerUnits="userSpaceOnUse" overflow="visible"><circle cx="6" cy="6" r="3.6" fill="#fff" stroke="#22ee22" stroke-width="1.4"/></marker>
<polyline points="386.7,422.1 388,421.8 389.3,421.5 390.7,421.2 392,420.9 393.3,420.5 394.7,420.2 396,419.8 397.3,419.4 398.7,419 400,418.7 401.3,418.2 402.7,417.8 404,417.4 405.3,417 406.7,416.5 408,416.1 409.3,415.6 410.7,415.2 412,414.7 413.3,414.2 414.7,413.7 416,413.2 417.3,412.7 418.7,412.2 420,411.6 421.3,411.1 422.7,410.5 424,409.9 425.3,409.3 426.7,408.7 428,408.1 429.3,407.4 430.7,406.8 432,406.1 433.3,405.5 434.7,404.8 436,404.2 437.3,403.5 438.7,402.8 440,402.1 441.3,401.4 442.7,400.7 444,399.9 445.3,399.2 446.7,398.4 448,397.6 449.3,396.7 450.7,395.9 452,395.2 453.3,394.3 454.7,393.4 456,392.2 457.3,390.6 458.6,388.2 460,385.1 461.3,381.4 462.6,376.5 464,370.4 465.3,363.8 466.6,356.3 468,349 469.3,342.1 470.6,335.6 472,330.8 473.3,327.4 474.6,324.4 476,322.6 477.3,322.4 478.6,323.1 480,324.3 481.3,325.6 482.6,327.1 484,329.2 485.3,331.6 486.6,334.3 488,336.9 489.3,339.8 490.6,342.9 492,346.1 493.3,349 494.6,351.7 496,354.4 497.3,357 498.6,359.4 500,361.5 501.3,363.2 502.6,364.6 504,366 505.3,367.3 506.6,368.5 508,369.5 509.3,370.4 510.6,371 512,371.5 513.3,371.9 514.6,372.3 516,372.6 517.3,372.9 518.6,373.1 520,373.2 521.3,373.3 522.6,373.2 524,373.1 525.3,372.9 526.6,372.6 528,372.3 529.3,371.9 530.6,371.5 532,371 533.3,370.4 534.6,369.5 536,368.5 537.3,367.3 538.6,366 540,364.6 541.3,363.2 542.6,361.5 544,359.4 545.3,357 546.6,354.4 548,351.7 549.3,349 550.6,346.1 552,342.9 553.3,339.8 554.6,336.9 556,334.3 557.3,331.6 558.6,329.2 560,327.1 561.3,325.6 562.6,324.3 564,323.1 565.3,322.4 566.6,322.6 568,324.4 569.3,327.4 570.6,330.8 572,335.6 573.3,342.1 574.6,349 576,356.3 577.3,363.8 578.6,370.4 580,376.5 581.3,381.4 582.6,385.1 584,388.2 585.3,390.6 586.6,392.2 588,393.4 589.3,394.3 590.6,395.2 591.9,395.9 593.3,396.7 594.6,397.6 595.9,398.4 597.3,399.2 598.6,399.9 599.9,400.7 601.3,401.4 602.6,402.1 603.9,402.8 605.3,403.5 606.6,404.2 607.9,404.8 609.3,405.5 610.6,406.1 611.9,406.8 613.3,407.4 614.6,408.1 615.9,408.7 617.3,409.3 618.6,409.9 619.9,410.5 621.3,411.1 622.6,411.6 623.9,412.2 625.3,412.7 626.6,413.2 627.9,413.7 629.3,414.2 630.6,414.7 631.9,415.2 633.3,415.6 634.6,416.1 635.9,416.5 637.3,417 638.6,417.4 639.9,417.8 641.3,418.2 642.6,418.7 643.9,419 645.3,419.4 646.6,419.8 647.9,420.2 649.3,420.5 650.6,420.9 651.9,421.2 653.3,421.5 654.6,421.8 655.9,422.1" fill="none" stroke="none" marker-start="url(#m16)" marker-mid="url(#m16)" marker-end="url(#m16)"/>
<marker id="m17" markerWidth="12" markerHeight="12" refX="6" refY="6" markerUnits="userSpaceOnUse" overflow="visible"><circle cx="6" cy="6" r="3.6" fill="#fff" stroke="#0000dd" stroke-width="1.4"/></marker>
<polyline points="386.7,422.1 388,421.8 389.3,421.5 390.7,421.1 392,420.8 393.3,420.4 394.7,420.1 396,419.7 397.3,419.3 398.7,418.9 400,418.5 401.3,418.1 402.7,417.7 404,417.3 405.3,416.9 406.7,416.4 408,416 409.3,415.6 410.7,415.1 412,414.6 413.3,414.2 414.7,413.7 416,413.3 417.3,412.8 418.7,412.3 420,411.8 421.3,411.2 422.7,410.7 424,410.2 425.3,409.6 426.7,409.1 428,408.5 429.3,407.9 430.7,407.4 432,406.8 433.3,406.2 434.7,405.6 436,405.1 437.3,404.5 438.7,403.9 440,403.4 441.3,402.8 442.7,402.2 444,401.6 445.3,400.9 446.7,400.3 448,399.6 449.3,398.9 450.7,398.2 452,397.5 453.3,396.8 454.7,395.9 456,394.9 457.3,393.7 458.6,392 460,390 461.3,387.8 462.6,385.4 464,382.9 465.3,380 466.6,376.8 468,373.3 469.3,369.1 470.6,364.2 472,359.4 473.3,354.9 474.6,350.2 476,345.9 477.3,343 478.6,341 480,339.5 481.3,338.9 482.6,339.3 484,340.3 485.3,341.7 486.6,343.4 488,345 489.3,346.8 490.6,348.9 492,351.1 493.3,353.1 494.6,355 496,356.9 497.3,358.8 498.6,360.5 500,362 501.3,363.2 502.6,364.1 504,365 505.3,365.7 506.6,366.4 508,367 509.3,367.5 510.6,367.9 512,368.2 513.3,368.4 514.6,368.6 516,368.8 517.3,369 518.6,369.1 520,369.2 521.3,369.2 522.6,369.2 524,369.1 525.3,369 526.6,368.8 528,368.6 529.3,368.4 530.6,368.2 532,367.9 533.3,367.5 534.6,367 536,366.4 537.3,365.7 538.6,365 540,364.1 541.3,363.2 542.6,362 544,360.5 545.3,358.8 546.6,356.9 548,355 549.3,353.1 550.6,351.1 552,348.9 553.3,346.8 554.6,345 556,343.4 557.3,341.7 558.6,340.3 560,339.3 561.3,338.9 562.6,339.5 564,341 565.3,343 566.6,345.9 568,350.2 569.3,354.9 570.6,359.4 572,364.2 573.3,369.1 574.6,373.3 576,376.8 577.3,380 578.6,382.9 580,385.4 581.3,387.8 582.6,390 584,392 585.3,393.7 586.6,394.9 588,395.9 589.3,396.8 590.6,397.5 591.9,398.2 593.3,398.9 594.6,399.6 595.9,400.3 597.3,400.9 598.6,401.6 599.9,402.2 601.3,402.8 602.6,403.4 603.9,403.9 605.3,404.5 606.6,405.1 607.9,405.6 609.3,406.2 610.6,406.8 611.9,407.4 613.3,407.9 614.6,408.5 615.9,409.1 617.3,409.6 618.6,410.2 619.9,410.7 621.3,411.2 622.6,411.8 623.9,412.3 625.3,412.8 626.6,413.3 627.9,413.7 629.3,414.2 630.6,414.6 631.9,415.1 633.3,415.6 634.6,416 635.9,416.4 637.3,416.9 638.6,417.3 639.9,417.7 641.3,418.1 642.6,418.5 643.9,418.9 645.3,419.3 646.6,419.7 647.9,420.1 649.3,420.4 650.6,420.8 651.9,421.1 653.3,421.5 654.6,421.8 655.9,422.1" fill="none" stroke="none" marker-start="url(#m17)" marker-mid="url(#m17)" marker-end="url(#m17)"/>
<marker id="m18" markerWidth="12" markerHeight="12" refX="6" refY="6" markerUnits="userSpaceOnUse" overflow="visible"><circle cx="6" cy="6" r="3.6" fill="#fff" stroke="#22eeee" stroke-width="1.4"/></marker>
<polyline points="386.7,420 388,419.4 389.3,418.8 390.7,418.3 392,417.7 393.3,417.2 394.7,416.7 396,416.2 397.3,415.7 398.7,415.2 400,414.7 401.3,414.2 402.7,413.8 404,413.3 405.3,412.9 406.7,412.5 408,412.1 409.3,411.7 410.7,411.3 412,411 413.3,410.6 414.7,410.3 416,410 417.3,409.7 418.7,409.4 420,409.1 421.3,408.8 422.7,408.5 424,408.2 425.3,407.9 426.7,407.6 428,407.3 429.3,406.9 430.7,406.6 432,406.3 433.3,406 434.7,405.7 436,405.4 437.3,405.1 438.7,404.8 440,404.5 441.3,404.2 442.7,403.9 444,403.5 445.3,403.1 446.7,402.7 448,402.2 449.3,401.7 450.7,401.2 452,400.6 453.3,399.8 454.7,398.8 456,397.7 457.3,396.3 458.6,394.7 460,392.1 461.3,388.2 462.6,383.8 464,379.7 465.3,375.2 466.6,370.7 468,366.8 469.3,363.4 470.6,360.2 472,357.3 473.3,354.9 474.6,353 476,351.4 477.3,349.9 478.6,348.6 480,347.4 481.3,346.4 482.6,345.4 484,344.6 485.3,343.8 486.6,343 488,342.2 489.3,341.5 490.6,340.9 492,340.3 493.3,340 494.6,339.8 496,339.7 497.3,339.9 498.6,340.3 500,340.7 501.3,341.3 502.6,341.9 504,342.5 505.3,343.1 506.6,343.6 508,344 509.3,344.3 510.6,344.6 512,344.9 513.3,345.2 514.6,345.5 516,345.7 517.3,345.9 518.6,346.1 520,346.2 521.3,346.2 522.6,346.2 524,346.1 525.3,345.9 526.6,345.7 528,345.5 529.3,345.2 530.6,344.9 532,344.6 533.3,344.3 534.6,344 536,343.6 537.3,343.1 538.6,342.5 540,341.9 541.3,341.3 542.6,340.7 544,340.3 545.3,339.9 546.6,339.7 548,339.8 549.3,340 550.6,340.3 552,340.9 553.3,341.5 554.6,342.2 556,343 557.3,343.8 558.6,344.6 560,345.4 561.3,346.4 562.6,347.4 564,348.6 565.3,349.9 566.6,351.4 568,353 569.3,354.9 570.6,357.3 572,360.2 573.3,363.4 574.6,366.8 576,370.7 577.3,375.2 578.6,379.7 580,383.8 581.3,388.2 582.6,392.1 584,394.7 585.3,396.3 586.6,397.7 588,398.8 589.3,399.8 590.6,400.6 591.9,401.2 593.3,401.7 594.6,402.2 595.9,402.7 597.3,403.1 598.6,403.5 599.9,403.9 601.3,404.2 602.6,404.5 603.9,404.8 605.3,405.1 606.6,405.4 607.9,405.7 609.3,406 610.6,406.3 611.9,406.6 613.3,406.9 614.6,407.3 615.9,407.6 617.3,407.9 618.6,408.2 619.9,408.5 621.3,408.8 622.6,409.1 623.9,409.4 625.3,409.7 626.6,410 627.9,410.3 629.3,410.6 630.6,411 631.9,411.3 633.3,411.7 634.6,412.1 635.9,412.5 637.3,412.9 638.6,413.3 639.9,413.8 641.3,414.2 642.6,414.7 643.9,415.2 645.3,415.7 646.6,416.2 647.9,416.7 649.3,417.2 650.6,417.7 651.9,418.3 653.3,418.8 654.6,419.4 655.9,420" fill="none" stroke="none" marker-start="url(#m18)" marker-mid="url(#m18)" marker-end="url(#m18)"/>
<marker id="m19" markerWidth="12" markerHeight="12" refX="6" refY="6" markerUnits="userSpaceOnUse" overflow="visible"><circle cx="6" cy="6" r="3.6" fill="#fff" stroke="#ff22ff" stroke-width="1.4"/></marker>
<polyline points="386.7,425.7 388,425.9 389.3,426.1 390.7,426.3 392,426.4 393.3,426.6 394.7,426.8 396,426.9 397.3,427.1 398.7,427.2 400,427.4 401.3,427.5 402.7,427.6 404,427.7 405.3,427.8 406.7,427.9 408,428 409.3,428.1 410.7,428.2 412,428.2 413.3,428.3 414.7,428.3 416,428.3 417.3,428.2 418.7,428.1 420,427.9 421.3,427.8 422.7,427.5 424,427.3 425.3,427 426.7,426.7 428,426.4 429.3,426.1 430.7,425.7 432,425.4 433.3,425 434.7,424.6 436,424.2 437.3,423.8 438.7,423.2 440,422.6 441.3,422 442.7,421.2 444,420.5 445.3,419.6 446.7,418.7 448,417.8 449.3,416.7 450.7,415.4 452,413.9 453.3,412.2 454.7,410.5 456,408.6 457.3,406.7 458.6,404.5 460,402.1 461.3,399.5 462.6,396.8 464,394.2 465.3,391.5 466.6,389 468,386.4 469.3,383.7 470.6,381.3 472,379.1 473.3,377 474.6,375 476,373.2 477.3,371.6 478.6,370.2 480,368.9 481.3,367.6 482.6,366.4 484,365.3 485.3,364.3 486.6,363.5 488,362.7 489.3,362.1 490.6,361.4 492,360.8 493.3,360.3 494.6,359.7 496,359.2 497.3,358.8 498.6,358.5 500,358.2 501.3,358 502.6,357.9 504,357.8 505.3,357.7 506.6,357.6 508,357.5 509.3,357.4 510.6,357.4 512,357.3 513.3,357.3 514.6,357.2 516,357.2 517.3,357.2 518.6,357.1 520,357.1 521.3,357.1 522.6,357.1 524,357.1 525.3,357.2 526.6,357.2 528,357.2 529.3,357.3 530.6,357.3 532,357.4 533.3,357.4 534.6,357.5 536,357.6 537.3,357.7 538.6,357.8 540,357.9 541.3,358 542.6,358.2 544,358.5 545.3,358.8 546.6,359.2 548,359.7 549.3,360.3 550.6,360.8 552,361.4 553.3,362.1 554.6,362.7 556,363.5 557.3,364.3 558.6,365.3 560,366.4 561.3,367.6 562.6,368.9 564,370.2 565.3,371.6 566.6,373.2 568,375 569.3,377 570.6,379.1 572,381.3 573.3,383.7 574.6,386.4 576,389 577.3,391.5 578.6,394.2 580,396.8 581.3,399.5 582.6,402.1 584,404.5 585.3,406.7 586.6,408.6 588,410.5 589.3,412.2 590.6,413.9 591.9,415.4 593.3,416.7 594.6,417.8 595.9,418.7 597.3,419.6 598.6,420.5 599.9,421.2 601.3,422 602.6,422.6 603.9,423.2 605.3,423.8 606.6,424.2 607.9,424.6 609.3,425 610.6,425.4 611.9,425.7 613.3,426.1 614.6,426.4 615.9,426.7 617.3,427 618.6,427.3 619.9,427.5 621.3,427.8 622.6,427.9 623.9,428.1 625.3,428.2 626.6,428.3 627.9,428.3 629.3,428.3 630.6,428.2 631.9,428.2 633.3,428.1 634.6,428 635.9,427.9 637.3,427.8 638.6,427.7 639.9,427.6 641.3,427.5 642.6,427.4 643.9,427.2 645.3,427.1 646.6,426.9 647.9,426.8 649.3,426.6 650.6,426.4 651.9,426.3 653.3,426.1 654.6,425.9 655.9,425.7" fill="none" stroke="none" marker-start="url(#m19)" marker-mid="url(#m19)" marker-end="url(#m19)"/>
<marker id="m20" markerWidth="12" markerHeight="12" refX="6" refY="6" markerUnits="userSpaceOnUse" overflow="visible"><circle cx="6" cy="6" r="3.6" fill="#fff" stroke="#ffff22" stroke-width="1.4"/></marker>
<polyline points="386.7,425.9 388,425.9 389.3,425.9 390.7,425.9 392,425.9 393.3,425.9 394.7,425.9 396,425.9 397.3,425.9 398.7,425.9 400,425.9 401.3,425.9 402.7,425.9 404,425.9 405.3,425.9 406.7,425.9 408,425.9 409.3,425.9 410.7,425.9 412,425.9 413.3,425.9 414.7,425.9 416,425.9 417.3,425.9 418.7,425.9 420,425.9 421.3,425.9 422.7,425.8 424,425.8 425.3,425.7 426.7,425.6 428,425.5 429.3,425.4 430.7,425.2 432,425 433.3,424.8 434.7,424.6 436,424.4 437.3,424.2 438.7,423.9 440,423.7 441.3,423.4 442.7,423.2 444,422.9 445.3,422.6 446.7,422.2 448,421.8 449.3,421.4 450.7,420.9 452,420.4 453.3,419.9 454.7,419.3 456,418.7 457.3,418.1 458.6,417.4 460,416.6 461.3,415.7 462.6,414.7 464,413.5 465.3,412.3 466.6,410.9 468,409.3 469.3,407.7 470.6,405.5 472,402.7 473.3,399.4 474.6,396.1 476,392.9 477.3,390.3 478.6,388 480,385.8 481.3,383.8 482.6,382.1 484,380.7 485.3,379.6 486.6,378.6 488,377.7 489.3,376.9 490.6,376.1 492,375.3 493.3,374.5 494.6,373.8 496,373 497.3,372.3 498.6,371.7 500,371.1 501.3,370.5 502.6,370 504,369.5 505.3,369.1 506.6,368.8 508,368.4 509.3,368.1 510.6,367.8 512,367.5 513.3,367.3 514.6,367 516,366.8 517.3,366.7 518.6,366.5 520,366.4 521.3,366.4 522.6,366.4 524,366.5 525.3,366.7 526.6,366.8 528,367 529.3,367.3 530.6,367.5 532,367.8 533.3,368.1 534.6,368.4 536,368.8 537.3,369.1 538.6,369.5 540,370 541.3,370.5 542.6,371.1 544,371.7 545.3,372.3 546.6,373 548,373.8 549.3,374.5 550.6,375.3 552,376.1 553.3,376.9 554.6,377.7 556,378.6 557.3,379.6 558.6,380.7 560,382.1 561.3,383.8 562.6,385.8 564,388 565.3,390.3 566.6,392.9 568,396.1 569.3,399.4 570.6,402.7 572,405.5 573.3,407.7 574.6,409.3 576,410.9 577.3,412.3 578.6,413.5 580,414.7 581.3,415.7 582.6,416.6 584,417.4 585.3,418.1 586.6,418.7 588,419.3 589.3,419.9 590.6,420.4 591.9,420.9 593.3,421.4 594.6,421.8 595.9,422.2 597.3,422.6 598.6,422.9 599.9,423.2 601.3,423.4 602.6,423.7 603.9,423.9 605.3,424.2 606.6,424.4 607.9,424.6 609.3,424.8 610.6,425 611.9,425.2 613.3,425.4 614.6,425.5 615.9,425.6 617.3,425.7 618.6,425.8 619.9,425.8 621.3,425.9 622.6,425.9 623.9,425.9 625.3,425.9 626.6,425.9 627.9,425.9 629.3,425.9 630.6,425.9 631.9,425.9 633.3,425.9 634.6,425.9 635.9,425.9 637.3,425.9 638.6,425.9 639.9,425.9 641.3,425.9 642.6,425.9 643.9,425.9 645.3,425.9 646.6,425.9 647.9,425.9 649.3,425.9 650.6,425.9 651.9,425.9 653.3,425.9 654.6,425.9 655.9,425.9" fill="none" stroke="none" marker-start="url(#m20)" marker-mid="url(#m20)" marker-end="url(#m20)"/>
<marker id="m21" markerWidth="12" markerHeight="12" refX="6" refY="6" markerUnits="userSpaceOnUse" overflow="visible"><circle cx="6" cy="6" r="3.6" fill="#fff" stroke="#8b8b1a" stroke-width="1.4"/></marker>
<polyline points="386.7,425.9 388,425.9 389.3,425.9 390.7,425.9 392,425.8 393.3,425.8 394.7,425.8 396,425.8 397.3,425.8 398.7,425.8 400,425.7 401.3,425.7 402.7,425.7 404,425.7 405.3,425.6 406.7,425.6 408,425.5 409.3,425.5 410.7,425.5 412,425.4 413.3,425.4 414.7,425.3 416,425.3 417.3,425.2 418.7,425.2 420,425.1 421.3,425.1 422.7,425 424,424.9 425.3,424.8 426.7,424.7 428,424.5 429.3,424.4 430.7,424.2 432,424 433.3,423.8 434.7,423.6 436,423.4 437.3,423.2 438.7,422.9 440,422.7 441.3,422.4 442.7,422.2 444,421.9 445.3,421.7 446.7,421.4 448,421.1 449.3,420.9 450.7,420.6 452,420.3 453.3,420.1 454.7,419.8 456,419.5 457.3,419.1 458.6,418.8 460,418.5 461.3,418.1 462.6,417.7 464,417.2 465.3,416.8 466.6,416.3 468,415.8 469.3,415.1 470.6,414.4 472,413.5 473.3,412.6 474.6,411.6 476,410.5 477.3,409.4 478.6,408.2 480,407.1 481.3,405.7 482.6,404.3 484,402.8 485.3,401.2 486.6,399.6 488,398 489.3,396.4 490.6,395 492,393.7 493.3,392.4 494.6,391.1 496,389.9 497.3,388.7 498.6,387.5 500,386.5 501.3,385.4 502.6,384.4 504,383.3 505.3,382.3 506.6,381.3 508,380.5 509.3,379.7 510.6,379.2 512,378.8 513.3,378.5 514.6,378.1 516,377.9 517.3,377.7 518.6,377.5 520,377.4 521.3,377.3 522.6,377.4 524,377.5 525.3,377.7 526.6,377.9 528,378.1 529.3,378.5 530.6,378.8 532,379.2 533.3,379.7 534.6,380.5 536,381.3 537.3,382.3 538.6,383.3 540,384.4 541.3,385.4 542.6,386.5 544,387.5 545.3,388.7 546.6,389.9 548,391.1 549.3,392.4 550.6,393.7 552,395 553.3,396.4 554.6,398 556,399.6 557.3,401.2 558.6,402.8 560,404.3 561.3,405.7 562.6,407.1 564,408.2 565.3,409.4 566.6,410.5 568,411.6 569.3,412.6 570.6,413.5 572,414.4 573.3,415.1 574.6,415.8 576,416.3 577.3,416.8 578.6,417.2 580,417.7 581.3,418.1 582.6,418.5 584,418.8 585.3,419.1 586.6,419.5 588,419.8 589.3,420.1 590.6,420.3 591.9,420.6 593.3,420.9 594.6,421.1 595.9,421.4 597.3,421.7 598.6,421.9 599.9,422.2 601.3,422.4 602.6,422.7 603.9,422.9 605.3,423.2 606.6,423.4 607.9,423.6 609.3,423.8 610.6,424 611.9,424.2 613.3,424.4 614.6,424.5 615.9,424.7 617.3,424.8 618.6,424.9 619.9,425 621.3,425.1 622.6,425.1 623.9,425.2 625.3,425.2 626.6,425.3 627.9,425.3 629.3,425.4 630.6,425.4 631.9,425.5 633.3,425.5 634.6,425.5 635.9,425.6 637.3,425.6 638.6,425.7 639.9,425.7 641.3,425.7 642.6,425.7 643.9,425.8 645.3,425.8 646.6,425.8 647.9,425.8 649.3,425.8 650.6,425.8 651.9,425.9 653.3,425.9 654.6,425.9 655.9,425.9" fill="none" stroke="none" marker-start="url(#m21)" marker-mid="url(#m21)" marker-end="url(#m21)"/>
<marker id="m22" markerWidth="12" markerHeight="12" refX="6" refY="6" markerUnits="userSpaceOnUse" overflow="visible"><circle cx="6" cy="6" r="3.6" fill="#fff" stroke="#1a1a8b" stroke-width="1.4"/></marker>
<polyline points="386.7,425.9 387.7,425.9 388.8,425.9 389.9,425.9 390.9,425.9 392,425.9 393.1,425.9 394.1,425.9 395.2,425.9 396.3,425.9 397.3,425.9 398.4,425.9 399.5,425.9 400.5,425.9 401.6,425.9 402.7,425.9 403.7,425.9 404.8,425.9 405.9,425.9 406.9,425.9 408,425.9 409.1,425.9 410.1,425.9 411.2,425.9 412.3,425.9 413.3,425.9 414.4,425.9 415.5,425.9 416.5,425.9 417.6,425.9 418.7,425.9 419.7,425.9 420.8,425.9 421.9,425.9 422.9,425.9 424,425.8 425.1,425.8 426.1,425.8 427.2,425.8 428.3,425.7 429.3,425.7 430.4,425.7 431.5,425.6 432.5,425.6 433.6,425.5 434.7,425.5 435.7,425.4 436.8,425.3 437.9,425.3 438.9,425.2 440,425.1 441.1,425.1 442.1,425 443.2,424.9 444.3,424.8 445.3,424.7 446.4,424.6 447.5,424.5 448.5,424.4 449.6,424.3 450.7,424.2 451.7,424.1 452.8,424 453.9,423.9 454.9,423.8 456,423.7 457,423.5 458.1,423.4 459.2,423.2 460.2,423 461.3,422.8 462.4,422.5 463.4,422.3 464.5,422 465.6,421.8 466.6,421.5 467.7,421.2 468.8,420.9 469.8,420.6 470.9,420.3 472,420 473,419.7 474.1,419.3 475.2,419 476.2,418.6 477.3,418.2 478.4,417.8 479.4,417.3 480.5,416.9 481.6,416.5 482.6,416 483.7,415.6 484.8,415.1 485.8,414.6 486.9,414.2 488,413.7 489,413.3 490.1,412.8 491.2,412.3 492.2,411.8 493.3,411.3 494.4,410.8 495.4,410.3 496.5,409.7 497.6,409.2 498.6,408.6 499.7,408.1 500.8,407.5 501.8,407 502.9,406.3 504,405.6 505,404.9 506.1,404.2 507.2,403.5 508.2,402.8 509.3,402.1 510.4,401.5 511.4,401 512.5,400.6 513.6,400.3 514.6,400.1 515.7,399.8 516.8,399.6 517.8,399.5 518.9,399.3 520,399.2 521,399.2 522.1,399.2 523.2,399.3 524.2,399.4 525.3,399.5 526.4,399.7 527.4,400 528.5,400.2 529.6,400.4 530.6,400.8 531.7,401.3 532.8,401.8 533.8,402.4 534.9,403.1 536,403.8 537,404.6 538.1,405.3 539.2,406 540.2,406.7 541.3,407.3 542.4,407.8 543.4,408.4 544.5,408.9 545.6,409.5 546.6,410 547.7,410.5 548.8,411 549.8,411.6 550.9,412.1 552,412.5 553,413 554.1,413.5 555.2,414 556.2,414.4 557.3,414.9 558.4,415.3 559.4,415.8 560.5,416.2 561.6,416.7 562.6,417.1 563.7,417.6 564.8,418 565.8,418.4 566.9,418.8 568,419.2 569,419.5 570.1,419.9 571.2,420.2 572.2,420.5 573.3,420.8 574.4,421.1 575.4,421.3 576.5,421.6 577.6,421.9 578.6,422.2 579.7,422.4 580.8,422.6 581.8,422.9 582.9,423.1 584,423.3 585,423.5 586.1,423.6 587.2,423.8 588.2,423.9 589.3,424 590.3,424.1 591.4,424.2 592.5,424.3 593.5,424.4 594.6,424.5 595.7,424.6 596.7,424.7 597.8,424.8 598.9,424.8 599.9,424.9 601,425 602.1,425.1 603.1,425.2 604.2,425.2 605.3,425.3 606.3,425.4 607.4,425.4 608.5,425.5 609.5,425.6 610.6,425.6 611.7,425.7 612.7,425.7 613.8,425.7 614.9,425.8 615.9,425.8 617,425.8 618.1,425.8 619.1,425.8 620.2,425.9 621.3,425.9 622.3,425.9 623.4,425.9 624.5,425.9 625.5,425.9 626.6,425.9 627.7,425.9 628.7,425.9 629.8,425.9 630.9,425.9 631.9,425.9 633,425.9 634.1,425.9 635.1,425.9 636.2,425.9 637.3,425.9 638.3,425.9 639.4,425.9 640.5,425.9 641.5,425.9 642.6,425.9 643.7,425.9 644.7,425.9 645.8,425.9 646.9,425.9 647.9,425.9 649,425.9 650.1,425.9 651.1,425.9 652.2,425.9 653.3,425.9 654.3,425.9 655.4,425.9 656.5,425.9" fill="none" stroke="none" marker-start="url(#m22)" marker-mid="url(#m22)" marker-end="url(#m22)"/>
<marker id="m23" markerWidth="12" markerHeight="12" refX="6" refY="6" markerUnits="userSpaceOnUse" overflow="visible"><circle cx="6" cy="6" r="3.6" fill="#fff" stroke="#8b1010" stroke-width="1.4"/></marker>
<polyline points="386.7,427.1 387.5,427.1 388.3,427.1 389.1,427.1 389.9,427.1 390.7,427.1 391.5,427.1 392.3,427.1 393.1,427.1 393.9,427.1 394.7,427.1 395.5,427.1 396.3,427.1 397.1,427.1 397.9,427.1 398.7,427.1 399.5,427.1 400.3,427.1 401.1,427.1 401.9,427.1 402.7,427.1 403.5,427.1 404.3,427.1 405.1,427.1 405.9,427.1 406.7,427.1 407.5,427.1 408.3,427.1 409.1,427.1 409.9,427.1 410.7,427.1 411.5,427.1 412.3,427.1 413.1,427.1 413.9,427.1 414.7,427.1 415.5,427.1 416.3,427.1 417.1,427.1 417.9,427.1 418.7,427.1 419.5,427.1 420.3,427.1 421.1,427.1 421.9,427.1 422.7,427.1 423.5,427.1 424.3,427.1 425.1,427.1 425.9,427.1 426.7,427.1 427.5,427.1 428.3,427.1 429.1,427.1 429.9,427.1 430.7,427.1 431.5,427.1 432.3,427.1 433.1,427.1 433.9,427.1 434.7,427.1 435.5,427.1 436.3,427.1 437.1,427.1 437.9,427.1 438.7,427.1 439.5,427.1 440.3,427.1 441.1,427.1 441.9,427.1 442.7,427.1 443.5,427.1 444.3,427.1 445.1,427.1 445.9,427.1 446.7,427.1 447.5,427.1 448.3,427.1 449.1,427.1 449.9,427.1 450.7,427.1 451.5,427.1 452.3,427.1 453.1,427.1 453.9,427.1 454.7,427.1 455.4,427.1 456.2,427.1 457,427.1 457.8,427.1 458.6,427.1 459.4,427.1 460.2,427.1 461,427.1 461.8,427.1 462.6,427.1 463.4,427.1 464.2,427.1 465,427.1 465.8,427.1 466.6,427.1 467.4,427.1 468.2,427.1 469,427.1 469.8,427.1 470.6,427.1 471.4,427.1 472.2,427.1 473,427.1 473.8,427.1 474.6,427.1 475.4,427.1 476.2,427.1 477,427.1 477.8,427.1 478.6,427.1 479.4,427.1 480.2,427.1 481,427.1 481.8,427.1 482.6,427.1 483.4,427.1 484.2,427.1 485,427.1 485.8,427.1 486.6,427.1 487.4,427.1 488.2,427.1 489,427.1 489.8,427.1 490.6,427.1 491.4,427.1 492.2,427.1 493,427.1 493.8,427.1 494.6,427.1 495.4,427.1 496.2,427.1 497,427.1 497.8,427.1 498.6,427.1 499.4,427.1 500.2,427.1 501,427.1 501.8,427.1 502.6,427.1 503.4,427.1 504.2,427.1 505,427.1 505.8,427.1 506.6,427.1 507.4,427.1 508.2,427.1 509,427.1 509.8,427.1 510.6,427.1 511.4,427.1 512.2,427.1 513,427.1 513.8,427.1 514.6,427.1 515.4,427.1 516.2,427.1 517,427.1 517.8,427.1 518.6,427.1 519.4,427.1 520.2,427.1 521,427.1 521.8,427.1 522.6,427.1 523.4,427.1 524.2,427.1 525,427.1 525.8,427.1 526.6,427.1 527.4,427.1 528.2,427.1 529,427.1 529.8,427.1 530.6,427.1 531.4,427.1 532.2,427.1 533,427.1 533.8,427.1 534.6,427.1 535.4,427.1 536.2,427.1 537,427.1 537.8,427.1 538.6,427.1 539.4,427.1 540.2,427.1 541,427.1 541.8,427.1 542.6,427.1 543.4,427.1 544.2,427.1 545,427.1 545.8,427.1 546.6,427.1 547.4,427.1 548.2,427.1 549,427.1 549.8,427.1 550.6,427.1 551.4,427.1 552.2,427.1 553,427.1 553.8,427.1 554.6,427.1 555.4,427.1 556.2,427.1 557,427.1 557.8,427.1 558.6,427.1 559.4,427.1 560.2,427.1 561,427.1 561.8,427.1 562.6,427.1 563.4,427.1 564.2,427.1 565,427.1 565.8,427.1 566.6,427.1 567.4,427.1 568.2,427.1 569,427.1 569.8,427.1 570.6,427.1 571.4,427.1 572.2,427.1 573,427.1 573.8,427.1 574.6,427.1 575.4,427.1 576.2,427.1 577,427.1 577.8,427.1 578.6,427.1 579.4,427.1 580.2,427.1 581,427.1 581.8,427.1 582.6,427.1 583.4,427.1 584.2,427.1 585,427.1 585.8,427.1 586.6,427.1 587.4,427.1 588.2,427.1 589,427.1 589.8,427.1 590.6,427.1 591.4,427.1 592.2,427.1 593,427.1 593.8,427.1 594.6,427.1 595.4,427.1 596.2,427.1 597,427.1 597.8,427.1 598.6,427.1 599.4,427.1 600.2,427.1 601,427.1 601.8,427.1 602.6,427.1 603.4,427.1 604.2,427.1 605,427.1 605.8,427.1 606.6,427.1 607.4,427.1 608.2,427.1 609,427.1 609.8,427.1 610.6,427.1 611.4,427.1 612.2,427.1 613,427.1 613.8,427.1 614.6,427.1 615.4,427.1 616.2,427.1 617,427.1 617.8,427.1 618.6,427.1 619.4,427.1 620.2,427.1 621,427.1 621.8,427.1 622.6,427.1 623.4,427.1 624.2,427.1 625,427.1 625.8,427.1 626.6,427.1 627.4,427.1 628.2,427.1 629,427.1 629.8,427.1 630.6,427.1 631.4,427.1 632.2,427.1 633,427.1 633.8,427.1 634.6,427.1 635.4,427.1 636.2,427.1 637,427.1 637.8,427.1 638.6,427.1 639.4,427.1 640.2,427.1 641,427.1 641.8,427.1 642.6,427.1 643.4,427.1 644.2,427.1 645,427.1 645.8,427.1 646.6,427.1 647.4,427.1 648.2,427.1 649,427.1 649.8,427.1 650.6,427.1 651.4,427.1 652.2,427.1 653,427.1 653.8,427.1 654.6,427.1 655.4,427.1 656.2,427.1" fill="none" stroke="none" marker-start="url(#m23)" marker-mid="url(#m23)" marker-end="url(#m23)"/>
</g>
<g clip-path="url(#cPE)">
<marker id="m24" markerWidth="10.6" markerHeight="10.6" refX="5.3" refY="5.3" markerUnits="userSpaceOnUse" overflow="visible"><circle cx="5.3" cy="5.3" r="3.0" fill="#fff" stroke="#000" stroke-width="1.3"/></marker>
<polyline points="55.8,677.9 57.2,679.2 58.7,679.5 60.2,681.5 61.6,679.8 63.1,679.9 64.6,679.6 66,680.1 67.5,679.4 68.9,679.8 70.4,680.6 71.9,678.3 73.3,678.3 74.8,677.4 76.3,679 77.7,679.4 79.2,679.5 80.7,680.5 82.1,677.8 83.6,679.9 85.1,679.9 86.5,678.8 88,677 89.4,678.2 90.9,679.4 92.4,679 93.8,677.5 95.3,678.2 96.8,678.7 98.2,678 99.7,676.9 101.2,675.5 102.6,678.5 104.1,677.7 105.5,677.6 107,678.8 108.5,676.7 109.9,676.2 111.4,673.4 112.9,674.1 114.3,674.9 115.8,671.8 117.3,672 118.7,672.5 120.2,670.3 121.7,669.1 123.1,668.1 124.6,665.7 126,666.4 127.5,662.7 129,659.9 130.4,659.4 131.9,657.5 133.4,655 134.8,650.4 136.3,645.2 137.8,637.2 139.2,621.9 140.7,608.8 142.2,603.5 143.6,600.1 145.1,597.6 146.5,594.1 148,589 149.5,583.5 150.9,579.3 152.4,577 153.9,575.2 155.3,573.2 156.8,571.9 158.3,571.3 159.7,571 161.2,570.8 162.6,570.6 164.1,570.5 165.6,570.5 167,570.7 168.5,570.9 170,571.3 171.4,571.7 172.9,572.1 174.4,572.4 175.8,572.7 177.3,572.8 178.8,572.9 180.2,573 181.7,573.1 183.1,573.1 184.6,573.2 186.1,573.2 187.5,573.3 189,573.3 190.5,573.3 191.9,573.3 193.4,573.3 194.9,573.2 196.3,573.2 197.8,573.1 199.3,573 200.7,572.9 202.2,572.9 203.6,572.8 205.1,572.6 206.6,572.5 208,572.2 209.5,572 211,571.7 212.4,571.5 213.9,571.3 215.4,571.2 216.8,571.1 218.3,571.2 219.7,571.4 221.2,571.8 222.7,572.2 224.1,572.7 225.6,573.5 227.1,574.7 228.5,576.4 230,579.3 231.5,583.4 232.9,589.6 234.4,596.7 235.9,603 237.3,608.3 238.8,613.4 240.2,618 241.7,623 243.2,629.9 244.6,638 246.1,644.6 247.6,648.2 249,650.7 250.5,651.9 252,653.6 253.4,655.3 254.9,656.5 256.4,660.5 257.8,659.8 259.3,663.7 260.7,663.5 262.2,665.9 263.7,663.8 265.1,664.4 266.6,666.8 268.1,665.6 269.5,668.7 271,668.4 272.5,669 273.9,670.7 275.4,669.7 276.8,668.6 278.3,672.1 279.8,670.5 281.2,672 282.7,670.4 284.2,672.1 285.6,672.2 287.1,672.6 288.6,673.4 290,675.4 291.5,672.9 293,676 294.4,674.7 295.9,674.6 297.3,676.4 298.8,675.7 300.3,675 301.7,676.5 303.2,677.6 304.7,679.9 306.1,678.2 307.6,678 309.1,678.2 310.5,678.8 312,677.6 313.5,678.8 314.9,678.4 316.4,677.8 317.8,679.5 319.3,679.1 320.8,676.7 322.2,678.1 323.7,680.4 325.2,679.2" fill="none" stroke="none" marker-start="url(#m24)" marker-mid="url(#m24)" marker-end="url(#m24)"/>
<path d="M57.1 679.7 58 679.6 58.9 679.5 59.8 679.5 60.7 679.4 61.6 679.3 62.4 679.3 63.3 679.2 64.2 679.1 65.1 679 66 678.9 66.9 678.8 67.8 678.7 68.7 678.6 69.6 678.5 70.5 678.4 71.3 678.3 72.2 678.2 73.1 678 74 677.9 74.9 677.8 75.8 677.7 76.7 677.5 77.6 677.4 78.5 677.2 79.4 677.1 80.2 676.9 81.1 676.8 82 676.6 82.9 676.4 83.8 676.3 84.7 676.1 85.6 675.9 86.5 675.7 87.4 675.5 88.3 675.3 89.2 675.1 90 674.9 90.9 674.7 91.8 674.5 92.7 674.3 93.6 674 94.5 673.8 95.4 673.5 96.3 673.2 97.2 672.9 98.1 672.6 98.9 672.3 99.8 672 100.7 671.7 101.6 671.3 102.5 671 103.4 670.6 104.3 670.3 105.2 669.9 106.1 669.5 107 669.1 107.8 668.7 108.7 668.3 109.6 667.8 110.5 667.4 111.4 666.9 112.3 666.4 113.2 665.9 114.1 665.4 115 664.8 115.9 664.2 116.8 663.6 117.6 663 118.5 662.4 119.4 661.7 120.3 661 121.2 660.2 122.1 659.4 123 658.6 123.9 657.7 124.8 656.8 125.7 655.8 126.5 654.7 127.4 653.6 128.3 652.5 129.2 651.3 130.1 649.9 131 648.4 131.9 646.8 132.8 645.1 133.7 643.2 134.6 641.3 135.4 639.4 136.3 637.3 137.2 635.3 138.1 633.2 139 631.1 139.9 628.7 140.8 626.3 141.7 623.8 142.6 621.3 143.5 618.8 144.3 616.4 145.2 614.1 146.1 611.8 147 609.5 147.9 607.2 148.8 605 149.7 602.6 150.6 600.2 151.5 597.7 152.4 595 153.3 591.8 154.1 588.2 155 584.5 155.9 581 156.8 578 157.7 575.8 158.6 574.6 159.5 573.7 160.4 573.1 161.3 572.6 162.2 572.1 163 571.7 163.9 571.4 164.8 571.2 165.7 571.1 166.6 571.2 167.5 571.3 168.4 571.4 169.3 571.6 170.2 571.8 171.1 572 171.9 572.3 172.8 572.5 173.7 572.7 174.6 572.9 175.5 573.1 176.4 573.2 177.3 573.3 178.2 573.4 179.1 573.5 180 573.6 180.9 573.6 181.7 573.7 182.6 573.8 183.5 573.8 184.4 573.9 185.3 573.9 186.2 574 187.1 574 188 574 188.9 574 189.8 574.1 190.6 574.1 191.5 574 192.4 574 193.3 574 194.2 574 195.1 573.9 196 573.9 196.9 573.8 197.8 573.8 198.7 573.7 199.5 573.6 200.4 573.6 201.3 573.5 202.2 573.4 203.1 573.3 204 573.2 204.9 573.1 205.8 572.9 206.7 572.7 207.6 572.5 208.5 572.3 209.3 572 210.2 571.8 211.1 571.6 212 571.4 212.9 571.3 213.8 571.2 214.7 571.1 215.6 571.2 216.5 571.4 217.4 571.7 218.2 572 219.1 572.5 220 573 220.9 573.5 221.8 574.3 222.7 575.3 223.6 576.5 224.5 578 225.4 580.1 226.3 583 227.1 586 228 589.1 228.9 591.8 229.8 594.2 230.7 596.6 231.6 598.9 232.5 601.2 233.4 603.5 234.3 605.8 235.2 608.1 236.1 610.5 236.9 612.8 237.8 615.1 238.7 617.5 239.6 619.8 240.5 622.2 241.4 624.5 242.3 626.9 243.2 629.2 244.1 631.6 245 633.9 245.8 636.4 246.7 638.9 247.6 641.3 248.5 643.7 249.4 645.9 250.3 647.8 251.2 649.7 252.1 651.4 253 653.1 253.9 654.6 254.7 656 255.6 657.3 256.5 658.5 257.4 659.4 258.3 660.3 259.2 661.2 260.1 661.9 261 662.7 261.9 663.3 262.8 664 263.6 664.6 264.5 665.2 265.4 665.7 266.3 666.3 267.2 666.8 268.1 667.3 269 667.8 269.9 668.2 270.8 668.5 271.7 668.9 272.6 669.2 273.4 669.6 274.3 669.9 275.2 670.2 276.1 670.5 277 670.8 277.9 671.1 278.8 671.4 279.7 671.6 280.6 671.9 281.5 672.2 282.3 672.4 283.2 672.6 284.1 672.9 285 673.1 285.9 673.3 286.8 673.6 287.7 673.8 288.6 674 289.5 674.2 290.4 674.4 291.2 674.6 292.1 674.8 293 675 293.9 675.2 294.8 675.4 295.7 675.6 296.6 675.8 297.5 676 298.4 676.2 299.3 676.3 300.2 676.5 301 676.7 301.9 676.8 302.8 677 303.7 677.2 304.6 677.3 305.5 677.5 306.4 677.6 307.3 677.7 308.2 677.9 309.1 678 309.9 678.1 310.8 678.3 311.7 678.4 312.6 678.5 313.5 678.6 314.4 678.7 315.3 678.8 316.2 678.9 317.1 679 318 679.1 318.8 679.2 319.7 679.3 320.6 679.4 321.5 679.5 322.4 679.6 323.3 679.7" fill="none" stroke="#1a1add" stroke-width="1.6" stroke-linejoin="round"/>
<path d="M57.1 679 58 679 58.9 678.9 59.8 678.8 60.7 678.7 61.6 678.6 62.4 678.5 63.3 678.4 64.2 678.3 65.1 678.2 66 678.1 66.9 678 67.8 677.9 68.7 677.8 69.6 677.6 70.5 677.5 71.3 677.4 72.2 677.2 73.1 677.1 74 677 74.9 676.8 75.8 676.6 76.7 676.5 77.6 676.3 78.5 676.2 79.4 676 80.2 675.8 81.1 675.6 82 675.4 82.9 675.3 83.8 675.1 84.7 674.9 85.6 674.7 86.5 674.5 87.4 674.3 88.3 674.1 89.2 673.9 90 673.7 90.9 673.4 91.8 673.2 92.7 673 93.6 672.8 94.5 672.6 95.4 672.4 96.3 672.1 97.2 671.9 98.1 671.7 98.9 671.4 99.8 671.2 100.7 670.9 101.6 670.7 102.5 670.4 103.4 670.1 104.3 669.8 105.2 669.5 106.1 669.2 107 668.9 107.8 668.6 108.7 668.2 109.6 667.9 110.5 667.5 111.4 667.1 112.3 666.7 113.2 666.2 114.1 665.6 115 665.1 115.9 664.5 116.8 663.9 117.6 663.4 118.5 662.8 119.4 662.1 120.3 661.4 121.2 660.7 122.1 659.9 123 659.1 123.9 658.1 124.8 657 125.7 655.7 126.5 654.2 127.4 652.6 128.3 650.9 129.2 649.1 130.1 647.1 131 644.8 131.9 642.2 132.8 639.4 133.7 636.5 134.6 633.7 135.4 631 136.3 628.3 137.2 625.6 138.1 622.9 139 620.2 139.9 617.5 140.8 614.9 141.7 612.2 142.6 609.5 143.5 606.9 144.3 604.2 145.2 601.5 146.1 598.9 147 596.2 147.9 593.5 148.8 590.8 149.7 587.9 150.6 584.8 151.5 581.8 152.4 579.3 153.3 577.4 154.1 576 155 574.8 155.9 573.7 156.8 572.8 157.7 572.1 158.6 571.6 159.5 571.1 160.4 570.6 161.3 570.2 162.2 569.8 163 569.6 163.9 569.5 164.8 569.5 165.7 569.6 166.6 569.7 167.5 569.8 168.4 570 169.3 570.2 170.2 570.4 171.1 570.6 171.9 570.9 172.8 571.1 173.7 571.3 174.6 571.5 175.5 571.6 176.4 571.7 177.3 571.8 178.2 571.9 179.1 571.9 180 572 180.9 572.1 181.7 572.1 182.6 572.2 183.5 572.2 184.4 572.3 185.3 572.3 186.2 572.3 187.1 572.4 188 572.4 188.9 572.4 189.8 572.4 190.6 572.4 191.5 572.4 192.4 572.4 193.3 572.4 194.2 572.3 195.1 572.3 196 572.3 196.9 572.2 197.8 572.2 198.7 572.1 199.5 572.1 200.4 572 201.3 571.9 202.2 571.9 203.1 571.8 204 571.7 204.9 571.6 205.8 571.5 206.7 571.3 207.6 571.1 208.5 570.9 209.3 570.6 210.2 570.4 211.1 570.2 212 570 212.9 569.8 213.8 569.7 214.7 569.6 215.6 569.5 216.5 569.5 217.4 569.6 218.2 569.8 219.1 570.2 220 570.6 220.9 571.1 221.8 571.6 222.7 572.1 223.6 572.8 224.5 573.7 225.4 574.8 226.3 576 227.1 577.4 228 579.3 228.9 581.8 229.8 584.8 230.7 587.9 231.6 590.8 232.5 593.5 233.4 596.2 234.3 598.9 235.2 601.5 236.1 604.2 236.9 606.9 237.8 609.5 238.7 612.2 239.6 614.9 240.5 617.5 241.4 620.2 242.3 622.9 243.2 625.6 244.1 628.3 245 631 245.8 633.7 246.7 636.5 247.6 639.4 248.5 642.2 249.4 644.8 250.3 647.1 251.2 649.1 252.1 650.9 253 652.6 253.9 654.2 254.7 655.7 255.6 657 256.5 658.1 257.4 659.1 258.3 659.9 259.2 660.7 260.1 661.4 261 662.1 261.9 662.8 262.8 663.4 263.6 663.9 264.5 664.5 265.4 665.1 266.3 665.6 267.2 666.2 268.1 666.7 269 667.1 269.9 667.5 270.8 667.9 271.7 668.2 272.6 668.6 273.4 668.9 274.3 669.2 275.2 669.5 276.1 669.8 277 670.1 277.9 670.4 278.8 670.7 279.7 670.9 280.6 671.2 281.5 671.4 282.3 671.7 283.2 671.9 284.1 672.1 285 672.4 285.9 672.6 286.8 672.8 287.7 673 288.6 673.2 289.5 673.4 290.4 673.7 291.2 673.9 292.1 674.1 293 674.3 293.9 674.5 294.8 674.7 295.7 674.9 296.6 675.1 297.5 675.3 298.4 675.4 299.3 675.6 300.2 675.8 301 676 301.9 676.2 302.8 676.3 303.7 676.5 304.6 676.6 305.5 676.8 306.4 677 307.3 677.1 308.2 677.2 309.1 677.4 309.9 677.5 310.8 677.6 311.7 677.8 312.6 677.9 313.5 678 314.4 678.1 315.3 678.2 316.2 678.3 317.1 678.4 318 678.5 318.8 678.6 319.7 678.7 320.6 678.8 321.5 678.9 322.4 679 323.3 679" fill="none" stroke="#e02020" stroke-width="1.6" stroke-linejoin="round"/>
</g>
<g clip-path="url(#cPF)">
<marker id="m25" markerWidth="11.6" markerHeight="11.6" refX="5.8" refY="5.8" markerUnits="userSpaceOnUse" overflow="visible"><circle cx="5.8" cy="5.8" r="3.4" fill="#fff" stroke="#000" stroke-width="1.4"/></marker>
<polyline points="388.3,690.1 390.3,688.1 392.3,686.9 394.3,686.3 396.3,686.1 398.3,687.2 400.2,689.2 402.2,690.7 404.2,690.8 406.2,690.5 408.2,690.1 410.2,689.6 412.2,689 414.2,688.4 416.2,687.7 418.2,687 420.2,686.2 422.2,685.2 424.2,684.1 426.2,683.1 428.2,682.1 430.2,681.1 432.2,680.3 434.2,679.4 436.2,678.6 438.2,677.7 440.2,676.8 442.2,675.8 444.2,674.8 446.2,673.6 448.2,672.4 450.2,671.1 452.2,669.8 454.2,668.4 456.2,666.9 458.1,665 460.1,664.3 462.1,664.5 462.8,664.6 464.4,661.8 466,652.5 467.6,642.4 469.2,630.1 470.8,616.1 472.4,603.4 474,593.3 475.6,587.6 477.2,589.9 478.8,595.5 480.4,600.7 481.4,604.1 484.8,609.5 488.1,611.9 491.4,616.2 494.7,622.4 498.1,627.7 501.4,632.5 504.7,636.8 508.1,640.4 511.4,643.4 514.7,645.5 518,647.3 521.4,651 524.7,651.8 528,648.9 531.4,646.2 534.7,643.6 538,640.7 541.3,637.3 544.7,631.7 548,622.9 551.3,613.4 554.6,600.8 557.3,595.6 558.9,593.7 560.5,592.7 562.1,592 563.7,591.4 565.3,590.4 566.9,589.4 568.5,589.4 570.1,592.7 571.7,600.5 573.3,608.2 574.9,621.4 576.5,643 578.1,654.1 579.7,660.8 581.3,666.2 582.6,666 584.6,665.4 586.6,664.5 588.6,663.2 590.6,663.4 592.6,664.5 594.6,666 596.6,667.4 598.6,668.7 600.6,670.1 602.6,671.4 604.6,672.7 606.6,674.1 608.5,675.5 610.5,676.9 612.5,678.3 614.5,679.7 616.5,681 618.5,682.2 620.5,683.2 622.5,684 624.5,684.6 626.5,685.1 628.5,685.6 630.5,686 632.5,686.4 634.5,686.8 636.5,687.1 638.5,687.4 640.5,687.6 642.5,687.7 644.5,687.7 646.5,687.7 648.5,687.7 650.5,687.6 652.5,687.5 654.5,687.4 656.5,687.1" fill="none" stroke="none" marker-start="url(#m25)" marker-mid="url(#m25)" marker-end="url(#m25)"/>
<path d="M389.6 688.8 390.5 688.5 391.4 688.2 392.3 687.9 393.2 687.6 394.1 687.3 394.9 687 395.8 686.7 396.7 686.3 397.6 686 398.5 685.6 399.4 685.3 400.3 684.9 401.2 684.5 402.1 684.2 403 683.8 403.8 683.4 404.7 683 405.6 682.6 406.5 682.2 407.4 681.8 408.3 681.4 409.2 680.9 410.1 680.5 411 680.1 411.9 679.6 412.7 679.2 413.6 678.7 414.5 678.3 415.4 677.8 416.3 677.4 417.2 676.9 418.1 676.4 419 676 419.9 675.5 420.8 675 421.7 674.5 422.5 674.1 423.4 673.6 424.3 673.1 425.2 672.6 426.1 672.1 427 671.6 427.9 671.1 428.8 670.5 429.7 670 430.6 669.4 431.4 668.9 432.3 668.3 433.2 667.7 434.1 667.1 435 666.5 435.9 665.9 436.8 665.3 437.7 664.6 438.6 664 439.5 663.3 440.3 662.6 441.2 661.9 442.1 661.2 443 660.4 443.9 659.6 444.8 658.8 445.7 658 446.6 657.2 447.5 656.3 448.4 655.4 449.3 654.4 450.1 653.5 451 652.4 451.9 651.4 452.8 650.3 453.7 649.1 454.6 647.9 455.5 646.6 456.4 645.3 457.3 643.9 458.2 642.3 459 640.6 459.9 638.8 460.8 636.8 461.7 634.6 462.6 632.3 463.5 629.7 464.4 626.7 465.3 623.3 466.2 619.7 467.1 615.8 467.9 611.9 468.8 607.9 469.7 603.9 470.6 599.1 471.5 594.2 472.4 590.2 473.3 588 474.2 586.1 475.1 584.6 476 583.6 476.8 583.3 477.7 583.6 478.6 584.4 479.5 585.4 480.4 586.5 481.3 587.7 482.2 589.1 483.1 590.6 484 592.2 484.9 593.7 485.8 594.8 486.6 595.9 487.5 596.8 488.4 597.7 489.3 598.6 490.2 599.4 491.1 600.3 492 601.1 492.9 602 493.8 603 494.7 603.9 495.5 604.9 496.4 605.8 497.3 606.8 498.2 607.8 499.1 608.7 500 609.7 500.9 610.6 501.8 611.5 502.7 612.3 503.6 613.1 504.4 614 505.3 614.9 506.2 616 507.1 617.1 508 618.4 508.9 619.8 509.8 621.2 510.7 622.7 511.6 624.3 512.5 625.9 513.4 627.7 514.2 629.8 515.1 632 516 634.2 516.9 636.2 517.8 637.9 518.7 639.8 519.6 641.7 520.5 643.4 521.4 644.8 522.3 645.5 523.1 645.5 524 644.8 524.9 643.4 525.8 641.7 526.7 639.8 527.6 637.9 528.5 636.2 529.4 634.2 530.3 632 531.2 629.8 532 627.7 532.9 625.9 533.8 624.3 534.7 622.7 535.6 621.2 536.5 619.8 537.4 618.4 538.3 617.1 539.2 616 540.1 614.9 541 614 541.8 613.1 542.7 612.3 543.6 611.5 544.5 610.6 545.4 609.7 546.3 608.7 547.2 607.8 548.1 606.8 549 605.8 549.9 604.9 550.7 603.9 551.6 603 552.5 602 553.4 601.1 554.3 600.3 555.2 599.4 556.1 598.6 557 597.7 557.9 596.8 558.8 595.9 559.6 594.8 560.5 593.7 561.4 592.2 562.3 590.6 563.2 589.1 564.1 587.7 565 586.5 565.9 585.4 566.8 584.4 567.7 583.6 568.6 583.3 569.4 583.6 570.3 584.6 571.2 586.1 572.1 588 573 590.2 573.9 594.2 574.8 599.1 575.7 603.9 576.6 607.9 577.5 611.9 578.3 615.8 579.2 619.7 580.1 623.3 581 626.7 581.9 629.7 582.8 632.3 583.7 634.6 584.6 636.8 585.5 638.8 586.4 640.6 587.2 642.3 588.1 643.9 589 645.3 589.9 646.6 590.8 647.9 591.7 649.1 592.6 650.3 593.5 651.4 594.4 652.4 595.3 653.5 596.1 654.4 597 655.4 597.9 656.3 598.8 657.2 599.7 658 600.6 658.8 601.5 659.6 602.4 660.4 603.3 661.2 604.2 661.9 605.1 662.6 605.9 663.3 606.8 664 607.7 664.6 608.6 665.3 609.5 665.9 610.4 666.5 611.3 667.1 612.2 667.7 613.1 668.3 614 668.9 614.8 669.4 615.7 670 616.6 670.5 617.5 671.1 618.4 671.6 619.3 672.1 620.2 672.6 621.1 673.1 622 673.6 622.9 674.1 623.7 674.5 624.6 675 625.5 675.5 626.4 676 627.3 676.4 628.2 676.9 629.1 677.4 630 677.8 630.9 678.3 631.8 678.7 632.7 679.2 633.5 679.6 634.4 680.1 635.3 680.5 636.2 680.9 637.1 681.4 638 681.8 638.9 682.2 639.8 682.6 640.7 683 641.6 683.4 642.4 683.8 643.3 684.2 644.2 684.5 645.1 684.9 646 685.3 646.9 685.6 647.8 686 648.7 686.3 649.6 686.7 650.5 687 651.3 687.3 652.2 687.6 653.1 687.9 654 688.2 654.9 688.5 655.8 688.8" fill="none" stroke="#1a1add" stroke-width="1.6" stroke-linejoin="round"/>
<path d="M389.6 691.8 390.5 691.4 391.4 691 392.3 690.6 393.2 690.3 394.1 689.9 394.9 689.5 395.8 689 396.7 688.6 397.6 688.2 398.5 687.8 399.4 687.4 400.3 686.9 401.2 686.5 402.1 686.1 403 685.6 403.8 685.2 404.7 684.8 405.6 684.3 406.5 683.8 407.4 683.4 408.3 682.9 409.2 682.5 410.1 682 411 681.5 411.9 681 412.7 680.6 413.6 680.1 414.5 679.6 415.4 679.1 416.3 678.6 417.2 678.1 418.1 677.6 419 677.1 419.9 676.6 420.8 676.1 421.7 675.6 422.5 675.1 423.4 674.6 424.3 674.1 425.2 673.6 426.1 673.1 427 672.6 427.9 672.1 428.8 671.6 429.7 671.1 430.6 670.6 431.4 670 432.3 669.5 433.2 668.9 434.1 668.4 435 667.8 435.9 667.2 436.8 666.6 437.7 666 438.6 665.4 439.5 664.8 440.3 664.1 441.2 663.4 442.1 662.7 443 662 443.9 661.3 444.8 660.5 445.7 659.7 446.6 658.9 447.5 658 448.4 657.1 449.3 656.2 450.1 655.3 451 654.3 451.9 653.3 452.8 652.2 453.7 651.1 454.6 649.9 455.5 648.7 456.4 647.4 457.3 646.1 458.2 644.6 459 643.1 459.9 641.4 460.8 639.6 461.7 637.6 462.6 635.5 463.5 633.1 464.4 630.3 465.3 627.2 466.2 623.9 467.1 620.3 467.9 616.7 468.8 613 469.7 609.3 470.6 604.8 471.5 600.1 472.4 595.8 473.3 592.7 474.2 590.8 475.1 589.2 476 587.9 476.8 587.1 477.7 587.1 478.6 588.1 479.5 589.9 480.4 592.1 481.3 594.2 482.2 596.1 483.1 598.1 484 600.2 484.9 602.3 485.8 604.3 486.6 606.3 487.5 608.3 488.4 610.2 489.3 612.1 490.2 614 491.1 615.8 492 617.5 492.9 619.2 493.8 620.8 494.7 622.4 495.5 623.9 496.4 625.5 497.3 627 498.2 628.4 499.1 629.8 500 631.2 500.9 632.5 501.8 633.7 502.7 634.9 503.6 636 504.4 637.1 505.3 638.1 506.2 639.2 507.1 640.1 508 641.1 508.9 642 509.8 642.9 510.7 643.8 511.6 644.6 512.5 645.4 513.4 646.2 514.2 647.1 515.1 647.9 516 648.8 516.9 649.7 517.8 650.5 518.7 651.3 519.6 651.9 520.5 652.5 521.4 652.9 522.3 653.1 523.1 653.1 524 652.9 524.9 652.5 525.8 651.9 526.7 651.3 527.6 650.5 528.5 649.7 529.4 648.8 530.3 647.9 531.2 647.1 532 646.2 532.9 645.4 533.8 644.6 534.7 643.8 535.6 642.9 536.5 642 537.4 641.1 538.3 640.1 539.2 639.2 540.1 638.1 541 637.1 541.8 636 542.7 634.9 543.6 633.7 544.5 632.5 545.4 631.2 546.3 629.8 547.2 628.4 548.1 627 549 625.5 549.9 623.9 550.7 622.4 551.6 620.8 552.5 619.2 553.4 617.5 554.3 615.8 555.2 614 556.1 612.1 557 610.2 557.9 608.3 558.8 606.3 559.6 604.3 560.5 602.3 561.4 600.2 562.3 598.1 563.2 596.1 564.1 594.2 565 592.1 565.9 589.9 566.8 588.1 567.7 587.1 568.6 587.1 569.4 587.9 570.3 589.2 571.2 590.8 572.1 592.7 573 595.8 573.9 600.1 574.8 604.8 575.7 609.3 576.6 613 577.5 616.7 578.3 620.3 579.2 623.9 580.1 627.2 581 630.3 581.9 633.1 582.8 635.5 583.7 637.6 584.6 639.6 585.5 641.4 586.4 643.1 587.2 644.6 588.1 646.1 589 647.4 589.9 648.7 590.8 649.9 591.7 651.1 592.6 652.2 593.5 653.3 594.4 654.3 595.3 655.3 596.1 656.2 597 657.1 597.9 658 598.8 658.9 599.7 659.7 600.6 660.5 601.5 661.3 602.4 662 603.3 662.7 604.2 663.4 605.1 664.1 605.9 664.8 606.8 665.4 607.7 666 608.6 666.6 609.5 667.2 610.4 667.8 611.3 668.4 612.2 668.9 613.1 669.5 614 670 614.8 670.6 615.7 671.1 616.6 671.6 617.5 672.1 618.4 672.6 619.3 673.1 620.2 673.6 621.1 674.1 622 674.6 622.9 675.1 623.7 675.6 624.6 676.1 625.5 676.6 626.4 677.1 627.3 677.6 628.2 678.1 629.1 678.6 630 679.1 630.9 679.6 631.8 680.1 632.7 680.6 633.5 681 634.4 681.5 635.3 682 636.2 682.5 637.1 682.9 638 683.4 638.9 683.8 639.8 684.3 640.7 684.8 641.6 685.2 642.4 685.6 643.3 686.1 644.2 686.5 645.1 686.9 646 687.4 646.9 687.8 647.8 688.2 648.7 688.6 649.6 689 650.5 689.5 651.3 689.9 652.2 690.3 653.1 690.6 654 691 654.9 691.4 655.8 691.8" fill="none" stroke="#e02020" stroke-width="1.6" stroke-linejoin="round"/>
</g>
<g clip-path="url(#cPB)">
<path d="M386.9 70.5 390.5 70.5 394.1 70.5 397.7 70.5 401.3 70.5 404.9 70.5 408.5 70.5 412.1 70.5 415.7 70.5 419.3 70.5 422.9 70.5 426.5 70.5 430.1 70.6 433.7 70.6 437.3 70.7 440.9 70.7 444.5 70.8 448.1 70.9 451.7 71.1 455.3 71.2 458.9 71.4 462.5 71.6 466.1 71.8 469.7 72 473.3 72.3 476.9 72.6 480.5 72.9 484.1 73.3 487.8 73.7 491.4 74.2 495 74.7 498.6 75.2 502.2 75.8 505.8 76.4 509.4 77.1 513 77.8 516.6 78.6 520.2 79.4 523.8 80.4 527.4 81.3 531 82.4 534.6 83.5 538.2 84.7 541.8 86 545.4 87.3 549 88.8 552.6 90.3 556.2 92 559.8 93.8 563.4 95.7 567 97.7 570.6 99.9 574.2 102.2 577.8 104.7 581.4 107.4 585 110.3 588.6 113.4 592.3 116.8 595.9 120.5 599.5 124.5 599.5 124.5 599.9 125.1 600.4 125.7 600.9 126.3 601.4 126.9 601.9 127.5 602.3 128.1 602.8 128.7 603.3 129.3 603.8 129.9 604.3 130.6 604.8 131.2 605.2 131.9 605.7 132.6 606.2 133.2 606.7 133.9 607.2 134.6 607.6 135.4 608.1 136.1 608.6 136.8 609.1 137.6 609.6 138.3 610 139.1 610.5 139.9 611 140.7 611.5 141.5 612 142.4 612.5 143.2 612.9 144.1 613.4 145 613.9 145.9 614.4 146.8 614.9 147.8 615.3 148.7 615.8 149.7 616.3 150.7 616.8 151.8 617.3 152.8 617.7 153.9 618.2 155.1 618.7 156.2 619.2 157.4 619.7 158.7 620.2 159.9 620.6 161.3 621.1 162.6 621.6 164.1 622.1 165.6 622.6 167.1 623 168.8 623.5 170.5 624 172.3 624.5 174.3 625 176.4 625.4 178.7 625.9 181.3 626.4 184.3 626.9 187.7 627.4 192.3 627.9 203.4" fill="none" stroke="#000" stroke-width="1.5"/>
<path d="M453.9 63.1V77.9M451.9 63.1h4M451.9 77.9h4M465.7 63.1V77.9M463.7 63.1h4M463.7 77.9h4M478.8 65V79.7M476.8 65h4M476.8 79.7h4M493 66.8V81.6M491 66.8h4M491 81.6h4M514.3 70.5V85.3M512.3 70.5h4M512.3 85.3h4M528.5 74.2V88.9M526.5 74.2h4M526.5 88.9h4M541.6 81.6V96.3M539.6 81.6h4M539.6 96.3h4M553.3 87.1V101.9M551.3 87.1h4M551.3 101.9h4M565.7 94.1V108.9M563.7 94.1h4M563.7 108.9h4M584.2 110.5V125.3M582.2 110.5h4M582.2 125.3h4M595.9 120.3V135.1M593.9 120.3h4M593.9 135.1h4M607.3 138.2V153M605.3 138.2h4M605.3 153h4M617.9 156.3V171.1M615.9 156.3h4M615.9 171.1h4" stroke="#999" stroke-width="1" fill="none"/>
<circle cx="453.9" cy="70.5" r="3.7" fill="#ee1111" stroke="#220000" stroke-width="1.25"/>
<circle cx="465.7" cy="70.5" r="3.7" fill="#ee1111" stroke="#220000" stroke-width="1.25"/>
<circle cx="478.8" cy="72.3" r="3.7" fill="#ee1111" stroke="#220000" stroke-width="1.25"/>
<circle cx="493" cy="74.2" r="3.7" fill="#ee1111" stroke="#220000" stroke-width="1.25"/>
<circle cx="514.3" cy="77.9" r="3.7" fill="#ee1111" stroke="#220000" stroke-width="1.25"/>
<circle cx="528.5" cy="81.6" r="3.7" fill="#ee1111" stroke="#220000" stroke-width="1.25"/>
<circle cx="541.6" cy="88.9" r="3.7" fill="#ee1111" stroke="#220000" stroke-width="1.25"/>
<circle cx="553.3" cy="94.5" r="3.7" fill="#ee1111" stroke="#220000" stroke-width="1.25"/>
<circle cx="565.7" cy="101.5" r="3.7" fill="#ee1111" stroke="#220000" stroke-width="1.25"/>
<circle cx="584.2" cy="117.9" r="3.7" fill="#ee1111" stroke="#220000" stroke-width="1.25"/>
<circle cx="595.9" cy="127.7" r="3.7" fill="#ee1111" stroke="#220000" stroke-width="1.25"/>
<circle cx="607.3" cy="145.6" r="3.7" fill="#ee1111" stroke="#220000" stroke-width="1.25"/>
<circle cx="617.9" cy="163.7" r="3.7" fill="#ee1111" stroke="#220000" stroke-width="1.25"/>
<circle cx="627.9" cy="203.4" r="3.7" fill="#ee1111" stroke="#220000" stroke-width="1.25"/>
<path d="M453.9 170.9l4.8 4.8l-4.8 4.8l-4.8 -4.8z" fill="#33ee33" stroke="#000" stroke-width="1.2"/>
<path d="M465.7 170.2l4.8 4.8l-4.8 4.8l-4.8 -4.8z" fill="#33ee33" stroke="#000" stroke-width="1.2"/>
<path d="M478.8 169.1l4.8 4.8l-4.8 4.8l-4.8 -4.8z" fill="#33ee33" stroke="#000" stroke-width="1.2"/>
<path d="M493 168l4.8 4.8l-4.8 4.8l-4.8 -4.8z" fill="#33ee33" stroke="#000" stroke-width="1.2"/>
<path d="M514.3 169.1l4.8 4.8l-4.8 4.8l-4.8 -4.8z" fill="#33ee33" stroke="#000" stroke-width="1.2"/>
<path d="M528.5 168.1l4.8 4.8l-4.8 4.8l-4.8 -4.8z" fill="#33ee33" stroke="#000" stroke-width="1.2"/>
<path d="M541.6 169.1l4.8 4.8l-4.8 4.8l-4.8 -4.8z" fill="#33ee33" stroke="#000" stroke-width="1.2"/>
<path d="M553.3 169.4l4.8 4.8l-4.8 4.8l-4.8 -4.8z" fill="#33ee33" stroke="#000" stroke-width="1.2"/>
<path d="M565.7 168.9l4.8 4.8l-4.8 4.8l-4.8 -4.8z" fill="#33ee33" stroke="#000" stroke-width="1.2"/>
<path d="M584.2 167.6l4.8 4.8l-4.8 4.8l-4.8 -4.8z" fill="#33ee33" stroke="#000" stroke-width="1.2"/>
<path d="M595.9 168l4.8 4.8l-4.8 4.8l-4.8 -4.8z" fill="#33ee33" stroke="#000" stroke-width="1.2"/>
<path d="M607.3 167.2l4.8 4.8l-4.8 4.8l-4.8 -4.8z" fill="#33ee33" stroke="#000" stroke-width="1.2"/>
<path d="M618.3 165.2l4.8 4.8l-4.8 4.8l-4.8 -4.8z" fill="#33ee33" stroke="#000" stroke-width="1.2"/>
</g>
<path d="M57 203.3v4.5M123.62 203.3v4.5M190.25 203.3v4.5M256.88 203.3v4.5M323.5 203.3v4.5M90.31 203.3v2.6M156.94 203.3v2.6M223.56 203.3v2.6M290.19 203.3v2.6M57 194.1h-4.5M57 151.1h-4.5M57 108.1h-4.5M57 65.1h-4.5M57 22.1h-4.5M57 172.6h-2.6M57 129.6h-2.6M57 86.6h-2.6M57 43.6h-2.6" stroke="#000" stroke-width="1.5" fill="none"/>
<rect x="57" y="0.5" width="266.5" height="202.8" stroke="#000" stroke-width="1.5" fill="none"/>
<path d="M386.5 203.4v4.5M421.99 203.4v4.5M457.49 203.4v4.5M492.98 203.4v4.5M528.47 203.4v4.5M563.97 203.4v4.5M599.46 203.4v4.5M634.95 203.4v4.5M404.25 203.4v2.6M439.74 203.4v2.6M475.23 203.4v2.6M510.73 203.4v2.6M546.22 203.4v2.6M581.71 203.4v2.6M617.21 203.4v2.6M652.7 203.4v2.6M386.5 203.4h-4.5M386.5 166.48h-4.5M386.5 129.56h-4.5M386.5 92.64h-4.5M386.5 55.72h-4.5M386.5 18.8h-4.5M386.5 184.94h-2.6M386.5 148.02h-2.6M386.5 111.1h-2.6M386.5 74.18h-2.6M386.5 37.26h-2.6" stroke="#000" stroke-width="1.5" fill="none"/>
<rect x="386.5" y="0.3" width="266.2" height="203.1" stroke="#000" stroke-width="1.5" fill="none"/>
<path d="M83.85 464v4.5M137.15 464v4.5M190.45 464v4.5M243.75 464v4.5M297.05 464v4.5M57.2 464v2.6M110.5 464v2.6M163.8 464v2.6M217.1 464v2.6M270.4 464v2.6M323.7 464v2.6M57.2 447.3h-4.5M57.2 413.44h-4.5M57.2 379.58h-4.5M57.2 345.72h-4.5M57.2 311.86h-4.5M57.2 278h-4.5M57.2 430.37h-2.6M57.2 396.51h-2.6M57.2 362.65h-2.6M57.2 328.79h-2.6M57.2 294.93h-2.6" stroke="#000" stroke-width="1.5" fill="none"/>
<rect x="57.2" y="261.1" width="266.5" height="202.9" stroke="#000" stroke-width="1.5" fill="none"/>
<path d="M388 466.3v4.5M454.65 466.3v4.5M521.3 466.3v4.5M587.95 466.3v4.5M654.6 466.3v4.5M421.32 466.3v2.6M487.98 466.3v2.6M554.62 466.3v2.6M621.28 466.3v2.6M388 466.3h-4.5M388 425.86h-4.5M388 385.42h-4.5M388 344.98h-4.5M388 304.54h-4.5M388 264.1h-4.5M388 446.08h-2.6M388 405.64h-2.6M388 365.2h-2.6M388 324.76h-2.6M388 284.32h-2.6" stroke="#000" stroke-width="1.5" fill="none"/>
<rect x="388" y="264.1" width="266.6" height="202.2" stroke="#000" stroke-width="1.5" fill="none"/>
<path d="M83.72 727.9v4.5M136.96 727.9v4.5M190.2 727.9v4.5M243.44 727.9v4.5M296.68 727.9v4.5M57.1 727.9v2.6M110.34 727.9v2.6M163.58 727.9v2.6M216.82 727.9v2.6M270.06 727.9v2.6M323.3 727.9v2.6M57.1 727.9h-4.5M57.1 677.13h-4.5M57.1 626.35h-4.5M57.1 575.58h-4.5M57.1 524.8h-4.5M57.1 702.52h-2.6M57.1 651.74h-2.6M57.1 600.96h-2.6M57.1 550.19h-2.6" stroke="#000" stroke-width="1.5" fill="none"/>
<rect x="57.1" y="524.8" width="266.2" height="203.1" stroke="#000" stroke-width="1.5" fill="none"/>
<path d="M389.6 728.2v4.5M456.15 728.2v4.5M522.7 728.2v4.5M589.25 728.2v4.5M655.8 728.2v4.5M422.88 728.2v2.6M489.43 728.2v2.6M555.97 728.2v2.6M622.52 728.2v2.6M389.6 706.4h-4.5M389.6 663.75h-4.5M389.6 621.1h-4.5M389.6 578.45h-4.5M389.6 535.8h-4.5M389.6 685.07h-2.6M389.6 642.42h-2.6M389.6 599.77h-2.6M389.6 557.12h-2.6" stroke="#000" stroke-width="1.5" fill="none"/>
<rect x="389.6" y="525.5" width="266.2" height="202.7" stroke="#000" stroke-width="1.5" fill="none"/>
<text x="50.75" y="198.8" font-size="16.5" text-anchor="end">0.9</text>
<text x="50.58" y="155.8" font-size="16.5" text-anchor="end">1.0</text>
<text x="50.75" y="112.8" font-size="16.5" text-anchor="end">1.1</text>
<text x="50.83" y="69.8" font-size="16.5" text-anchor="end">1.2</text>
<text x="50.66" y="26.8" font-size="16.5" text-anchor="end">1.3</text>
<text x="57" y="222.9" font-size="16.5" text-anchor="middle">-2</text>
<text x="123.62" y="222.9" font-size="16.5" text-anchor="middle">-1</text>
<text x="190.25" y="222.9" font-size="16.5" text-anchor="middle">0</text>
<text x="256.88" y="222.9" font-size="16.5" text-anchor="middle">1</text>
<text x="323.5" y="222.9" font-size="16.5" text-anchor="middle">2</text>
<text x="379.47" y="208.4" font-size="16.2" text-anchor="end">0.0</text>
<text x="379.71" y="171.48" font-size="16.2" text-anchor="end">0.2</text>
<text x="379.39" y="134.56" font-size="16.2" text-anchor="end">0.4</text>
<text x="379.55" y="97.64" font-size="16.2" text-anchor="end">0.6</text>
<text x="379.55" y="60.72" font-size="16.2" text-anchor="end">0.8</text>
<text x="379.47" y="23.8" font-size="16.2" text-anchor="end">1.0</text>
<text x="386.5" y="223" font-size="16.5" text-anchor="middle">0</text>
<text x="421.99" y="223" font-size="16.5" text-anchor="middle">1</text>
<text x="457.49" y="223" font-size="16.5" text-anchor="middle">2</text>
<text x="492.98" y="223" font-size="16.5" text-anchor="middle">3</text>
<text x="528.47" y="223" font-size="16.5" text-anchor="middle">4</text>
<text x="563.97" y="223" font-size="16.5" text-anchor="middle">5</text>
<text x="599.46" y="223" font-size="16.5" text-anchor="middle">6</text>
<text x="634.95" y="223" font-size="16.5" text-anchor="middle">7</text>
<text x="50.55" y="452.5" font-size="16.3" text-anchor="end">0.8</text>
<text x="50.72" y="418.64" font-size="16.3" text-anchor="end">1.2</text>
<text x="50.55" y="384.78" font-size="16.3" text-anchor="end">1.6</text>
<text x="50.47" y="350.92" font-size="16.3" text-anchor="end">2.0</text>
<text x="50.39" y="317.06" font-size="16.3" text-anchor="end">2.4</text>
<text x="50.55" y="283.2" font-size="16.3" text-anchor="end">2.8</text>
<text x="83.85" y="483.8" font-size="16.3" text-anchor="middle">-1.6</text>
<text x="137.15" y="483.8" font-size="16.3" text-anchor="middle">-0.8</text>
<text x="190.45" y="483.8" font-size="16.3" text-anchor="middle">0.0</text>
<text x="243.75" y="483.8" font-size="16.3" text-anchor="middle">0.8</text>
<text x="297.05" y="483.8" font-size="16.3" text-anchor="middle">1.6</text>
<text x="380.9" y="470.9" font-size="15.6" text-anchor="end">0.9</text>
<text x="380.75" y="430.46" font-size="15.6" text-anchor="end">1.0</text>
<text x="380.9" y="390.02" font-size="15.6" text-anchor="end">1.1</text>
<text x="380.98" y="349.58" font-size="15.6" text-anchor="end">1.2</text>
<text x="380.83" y="309.14" font-size="15.6" text-anchor="end">1.3</text>
<text x="380.67" y="268.7" font-size="15.6" text-anchor="end">1.4</text>
<text x="388" y="486" font-size="16.3" text-anchor="middle">-2</text>
<text x="454.65" y="486" font-size="16.3" text-anchor="middle">-1</text>
<text x="521.3" y="486" font-size="16.3" text-anchor="middle">0</text>
<text x="587.95" y="486" font-size="16.3" text-anchor="middle">1</text>
<text x="654.6" y="486" font-size="16.3" text-anchor="middle">2</text>
<text x="51.05" y="732.9" font-size="16.3" text-anchor="end">0.8</text>
<text x="51.22" y="682.13" font-size="16.3" text-anchor="end">1.2</text>
<text x="51.05" y="631.35" font-size="16.3" text-anchor="end">1.6</text>
<text x="50.97" y="580.58" font-size="16.3" text-anchor="end">2.0</text>
<text x="50.89" y="529.8" font-size="16.3" text-anchor="end">2.4</text>
<text x="83.72" y="747.3" font-size="16" text-anchor="middle">-1.6</text>
<text x="136.96" y="747.3" font-size="16" text-anchor="middle">-0.8</text>
<text x="190.2" y="747.3" font-size="16" text-anchor="middle">0.0</text>
<text x="243.44" y="747.3" font-size="16" text-anchor="middle">0.8</text>
<text x="296.68" y="747.3" font-size="16" text-anchor="middle">1.6</text>
<text x="382.73" y="710.8" font-size="14.2" text-anchor="end">0.32</text>
<text x="382.59" y="668.15" font-size="14.2" text-anchor="end">0.36</text>
<text x="382.52" y="625.5" font-size="14.2" text-anchor="end">0.40</text>
<text x="382.44" y="582.85" font-size="14.2" text-anchor="end">0.44</text>
<text x="382.59" y="540.2" font-size="14.2" text-anchor="end">0.48</text>
<text x="389.6" y="747.5" font-size="16.3" text-anchor="middle">-2</text>
<text x="456.15" y="747.5" font-size="16.3" text-anchor="middle">-1</text>
<text x="522.7" y="747.5" font-size="16.3" text-anchor="middle">0</text>
<text x="589.25" y="747.5" font-size="16.3" text-anchor="middle">1</text>
<text x="655.8" y="747.5" font-size="16.3" text-anchor="middle">2</text>
<text x="159.7" y="243.6" font-size="20" textLength="62.22" lengthAdjust="spacingAndGlyphs">V (mV)</text>
<text x="485.4" y="241.8" font-size="19.5" textLength="38.88" lengthAdjust="spacingAndGlyphs">T(K)</text>
<text x="166.9" y="505.2" font-size="19.5" textLength="60.99" lengthAdjust="spacingAndGlyphs">V (mV)</text>
<text x="491.7" y="505.5" font-size="19.5" textLength="60.38" lengthAdjust="spacingAndGlyphs">V (mV)</text>
<text x="166.3" y="768.2" font-size="19.5" textLength="61.3" lengthAdjust="spacingAndGlyphs">V (mV)</text>
<text x="489.6" y="766.8" font-size="19.5" textLength="55.84" lengthAdjust="spacingAndGlyphs">V(mV)</text>
<text x="296.97" y="196" font-size="17" textLength="21" lengthAdjust="spacingAndGlyphs">(a)</text>
<text x="631.35" y="197.3" font-size="17" textLength="21.45" lengthAdjust="spacingAndGlyphs">(b)</text>
<text x="301.08" y="458.3" font-size="17" textLength="19.75" lengthAdjust="spacingAndGlyphs">(c)</text>
<text x="634.12" y="457.3" font-size="17" textLength="19.89" lengthAdjust="spacingAndGlyphs">(d)</text>
<text x="301.41" y="723.2" font-size="16.5" textLength="20.22" lengthAdjust="spacingAndGlyphs">(e)</text>
<text x="637.95" y="722.5" font-size="16.5" textLength="16.46" lengthAdjust="spacingAndGlyphs">(f)</text>
<text transform="translate(18.4 137) rotate(-90)" font-size="20" textLength="69" lengthAdjust="spacingAndGlyphs">G(V)/G<tspan font-size="10.5" dy="7.3">N</tspan></text>
<text transform="translate(18.4 401.5) rotate(-90)" font-size="20" textLength="69" lengthAdjust="spacingAndGlyphs">G(V)/G<tspan font-size="10.5" dy="7.3">N</tspan></text>
<text transform="translate(352 401.2) rotate(-90)" font-size="20" textLength="69.8" lengthAdjust="spacingAndGlyphs">G(V)/G<tspan font-size="10.5" dy="7.3">N</tspan></text>
<text transform="translate(20 682.3) rotate(-90)" font-size="19" textLength="93.3" lengthAdjust="spacingAndGlyphs">dI/dV (Ω<tspan font-size="12.5" dy="-10">-1</tspan><tspan dy="10">)</tspan></text>
<text transform="translate(352.2 680.2) rotate(-90)" font-size="19" textLength="95.3" lengthAdjust="spacingAndGlyphs">dI/dV (Ω<tspan font-size="12.5" dy="-10">-1</tspan><tspan dy="10">)</tspan></text>
<text transform="translate(346.2 142.6) rotate(-90)" font-size="18.5" textLength="88.5" lengthAdjust="spacingAndGlyphs"><tspan font-family="Liberation Serif" font-size="16.5">Δ</tspan>, <tspan font-family="Liberation Serif" font-size="16.5">Γ</tspan> (meV)</text>
<circle cx="72.4" cy="13.2" r="3" fill="none" stroke="#000000" stroke-width="0.8"/>
<text x="91.94" y="17.8" font-size="14.2">1.9K</text>
<circle cx="136.1" cy="13.2" r="3" fill="none" stroke="#ff2020" stroke-width="0.8"/>
<text x="155.09" y="17.8" font-size="14.2">2.2K</text>
<circle cx="199.7" cy="13.2" r="3" fill="none" stroke="#33dd33" stroke-width="0.8"/>
<text x="218.79" y="17.8" font-size="14.2">2.6K</text>
<circle cx="263.3" cy="13.2" r="3" fill="none" stroke="#2020dd" stroke-width="0.8"/>
<text x="283.03" y="17.8" font-size="14.2">3.0K</text>
<circle cx="72.4" cy="30.2" r="3" fill="none" stroke="#ee22ee" stroke-width="0.8"/>
<text x="92.12" y="34.8" font-size="14.2">4.0K</text>
<circle cx="136.1" cy="30.2" r="3" fill="none" stroke="#9933aa" stroke-width="0.8"/>
<text x="155.23" y="34.8" font-size="14.2">5.0K</text>
<circle cx="199.7" cy="30.2" r="3" fill="none" stroke="#228822" stroke-width="0.8"/>
<text x="223.03" y="34.8" font-size="14.2">5.9K</text>
<circle cx="267.3" cy="30.2" r="3" fill="none" stroke="#339999" stroke-width="0.8"/>
<text x="286.59" y="34.8" font-size="14.2">6.2K</text>
<circle cx="403.5" cy="14.5" r="3.7" fill="#ee1111" stroke="#220000" stroke-width="1.25"/>
<path d="M403.5 28.5l4.8 4.8l-4.8 4.8l-4.8-4.8z" fill="#33ee33" stroke="#000" stroke-width="1.2"/>
<path d="M386.5 51.4H420.5" stroke="#000" stroke-width="1.5"/>
<text x="424" y="19.6" font-size="14" textLength="151.5" lengthAdjust="spacingAndGlyphs">Gap (<tspan font-family="Liberation Serif">Δ</tspan>) from fit (for (a))</text>
<text x="423.7" y="37.8" font-size="14" textLength="225.5" lengthAdjust="spacingAndGlyphs">Broadening parameter (<tspan font-family="Liberation Serif">Γ</tspan>) from fits</text>
<text x="423.83" y="56" font-size="14" textLength="30.04" lengthAdjust="spacingAndGlyphs">BCS</text>
<circle cx="66.5" cy="273.8" r="3.2" fill="none" stroke="#000000" stroke-width="1.7"/>
<text x="85.64" y="278" font-size="14.2">1.6K</text>
<circle cx="134.4" cy="273.8" r="3.2" fill="none" stroke="#000000" stroke-width="1.7"/>
<text x="153.49" y="278" font-size="14.2">2.1K</text>
<circle cx="201.7" cy="273.8" r="3.2" fill="none" stroke="#22dd22" stroke-width="1.7"/>
<text x="221.23" y="278" font-size="14.2">5.0K</text>
<circle cx="269.5" cy="273.8" r="3.2" fill="none" stroke="#0000cc" stroke-width="1.7"/>
<text x="289.13" y="278" font-size="14.2">5.5K</text>
<circle cx="66.5" cy="290.3" r="3.2" fill="none" stroke="#33dddd" stroke-width="1.7"/>
<text x="85.59" y="295" font-size="14.2">6.0K</text>
<circle cx="134.4" cy="290.3" r="3.2" fill="none" stroke="#dd22dd" stroke-width="1.7"/>
<text x="153.49" y="295" font-size="14.2">6.25K</text>
<circle cx="209.5" cy="290.3" r="3.2" fill="none" stroke="#bbbbbb" stroke-width="1.7"/>
<text x="228.49" y="295" font-size="14.2">6.8K</text>
<circle cx="395.8" cy="273.6" r="3.6" fill="none" stroke="#000000" stroke-width="1.6"/>
<text x="413" y="277.8" font-size="12">1.8K</text>
<circle cx="449.4" cy="273.6" r="3.6" fill="none" stroke="#ee0000" stroke-width="1.6"/>
<text x="465.5" y="277.8" font-size="12">2.3K</text>
<circle cx="503" cy="273.6" r="3.6" fill="none" stroke="#22ee22" stroke-width="1.6"/>
<text x="518.82" y="277.8" font-size="12">3.0K</text>
<circle cx="556.4" cy="273.6" r="3.6" fill="none" stroke="#0000dd" stroke-width="1.6"/>
<text x="572.56" y="277.8" font-size="12">4.0K</text>
<circle cx="609.4" cy="273.6" r="3.6" fill="none" stroke="#22eeee" stroke-width="1.6"/>
<text x="625.76" y="277.8" font-size="12">4.5K</text>
<circle cx="395.8" cy="288" r="3.6" fill="none" stroke="#ff22ff" stroke-width="1.6"/>
<text x="413.42" y="291.9" font-size="12">5.5K</text>
<circle cx="449.4" cy="288" r="3.6" fill="none" stroke="#ffff22" stroke-width="1.6"/>
<text x="465.5" y="291.9" font-size="12">6.0K</text>
<circle cx="503" cy="288" r="3.6" fill="none" stroke="#8b8b1a" stroke-width="1.6"/>
<text x="518.7" y="291.9" font-size="12">6.5K</text>
<circle cx="556.4" cy="288" r="3.6" fill="none" stroke="#1a1a8b" stroke-width="1.6"/>
<text x="572.2" y="291.9" font-size="12">6.6K</text>
<circle cx="609.4" cy="288" r="3.6" fill="none" stroke="#8b1010" stroke-width="1.6"/>
<text x="625.4" y="291.9" font-size="12">6.8K</text>
<circle cx="73.7" cy="535" r="2.8" fill="none" stroke="#000" stroke-width="1.3"/>
<path d="M60.3 549H87" stroke="#1a1add" stroke-width="1.6"/>
<path d="M60.3 563.2H87" stroke="#e02020" stroke-width="1.6"/>
<text x="90.27" y="539.2" font-size="11.6">Data</text>
<text x="90.68" y="553.2" font-size="11.6" textLength="66.9" lengthAdjust="spacingAndGlyphs">Single gap fit</text>
<text x="90.37" y="566.7" font-size="11.6" textLength="56.71" lengthAdjust="spacingAndGlyphs">Two gap fit</text>
<circle cx="405.4" cy="534.5" r="3" fill="none" stroke="#000" stroke-width="1.5"/>
<path d="M391.7 548.3H418.6" stroke="#1a1add" stroke-width="1.6"/>
<path d="M391.7 562.8H418.6" stroke="#e02020" stroke-width="1.6"/>
<text x="421.37" y="538.3" font-size="11.6">Data</text>
<text x="422.07" y="552.3" font-size="11.6" textLength="56.6" lengthAdjust="spacingAndGlyphs">Two gap fit</text>
<text x="422.07" y="565.9" font-size="11.6" textLength="65.24" lengthAdjust="spacingAndGlyphs">Three gap fit</text>
</svg></body></html>
